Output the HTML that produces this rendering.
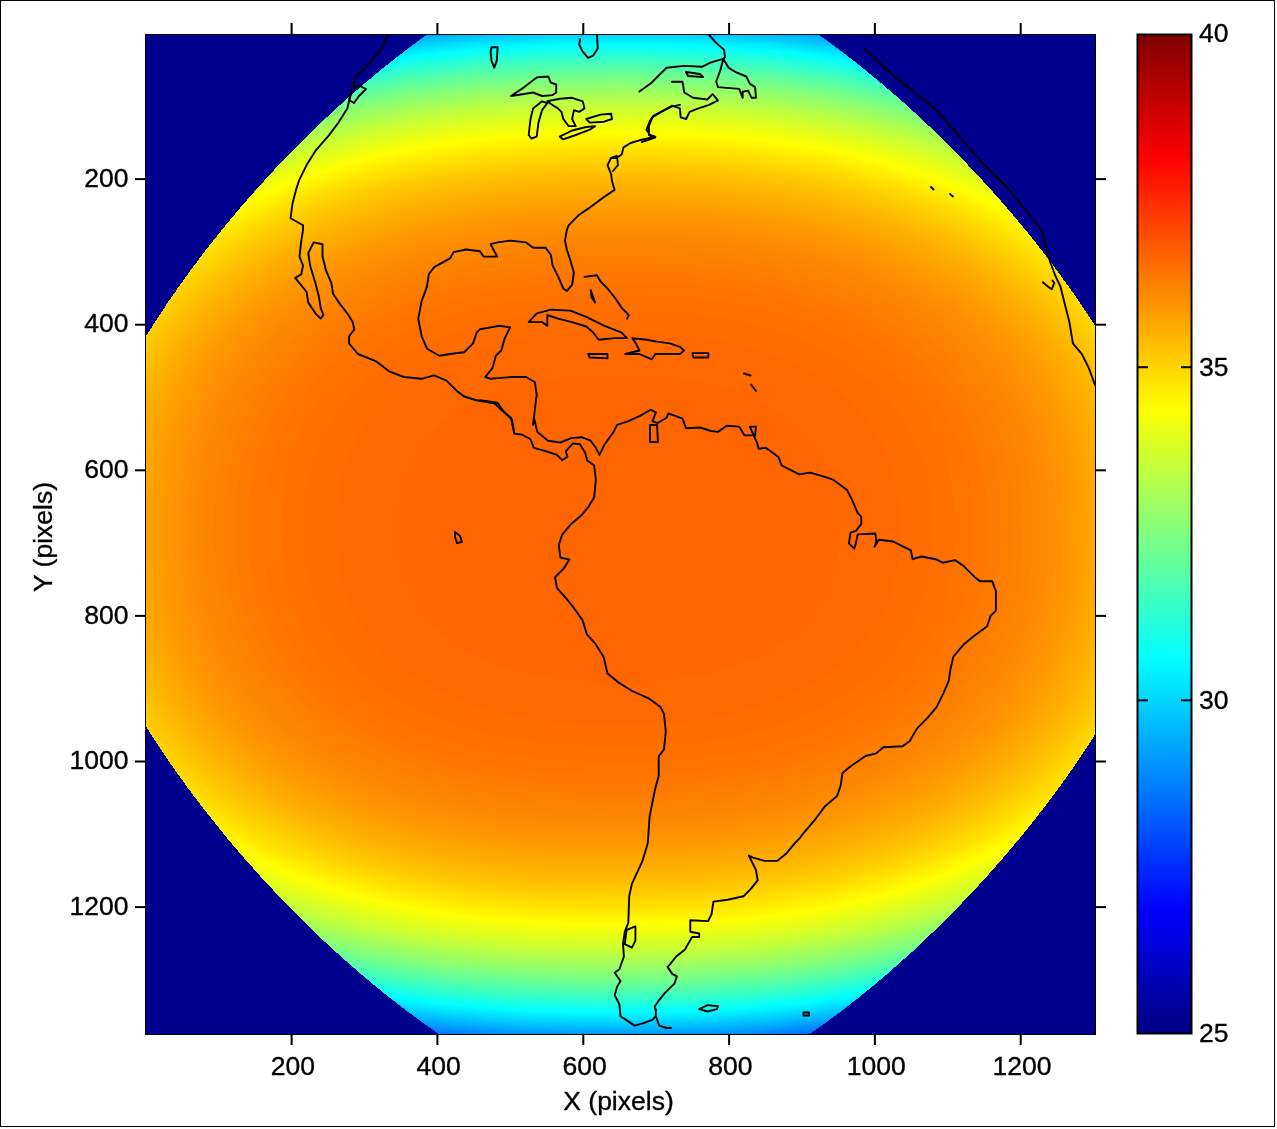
<!DOCTYPE html>
<html><head><meta charset="utf-8"><style>
html,body{margin:0;padding:0;background:#fff;width:1277px;height:1129px;overflow:hidden}
svg{display:block}
text{font-family:"Liberation Sans",Arial,sans-serif;font-size:26.5px;fill:#000;stroke:#000;stroke-width:0.35px}
</style></head><body>
<svg width="1277" height="1129" viewBox="0 0 1277 1129">
<defs>
<clipPath id="plot"><rect x="145" y="34" width="951" height="1001"/></clipPath>
<clipPath id="disk"><path d="M1181.6 528.8 L1181.2 533.9 L1180.5 539.0 L1179.6 544.2 L1178.6 549.2 L1177.5 554.3 L1176.3 559.4 L1175.0 564.4 L1173.6 569.4 L1172.1 574.4 L1170.5 579.3 L1169.0 584.2 L1167.3 589.1 L1165.6 594.0 L1163.8 598.8 L1162.0 603.6 L1160.2 608.4 L1158.3 613.2 L1156.3 617.9 L1154.4 622.6 L1152.4 627.2 L1150.3 631.9 L1148.3 636.5 L1146.2 641.0 L1144.0 645.6 L1141.9 650.1 L1139.7 654.6 L1137.5 659.0 L1135.3 663.5 L1133.0 667.9 L1130.7 672.2 L1128.5 676.6 L1126.1 680.9 L1123.8 685.2 L1121.4 689.5 L1119.1 693.7 L1116.7 697.9 L1114.3 702.1 L1111.9 706.2 L1109.4 710.4 L1107.0 714.5 L1104.5 718.6 L1102.0 722.6 L1099.5 726.7 L1097.0 730.7 L1094.5 734.6 L1092.0 738.6 L1089.4 742.5 L1086.9 746.5 L1084.3 750.3 L1081.7 754.2 L1079.1 758.1 L1076.5 761.9 L1073.9 765.7 L1071.3 769.5 L1068.6 773.2 L1066.0 777.0 L1063.3 780.7 L1060.7 784.4 L1058.0 788.1 L1055.3 791.7 L1052.6 795.4 L1049.9 799.0 L1047.2 802.6 L1044.5 806.2 L1041.7 809.8 L1039.0 813.3 L1036.2 816.8 L1033.4 820.4 L1030.7 823.9 L1027.9 827.3 L1025.1 830.8 L1022.3 834.3 L1019.5 837.7 L1016.6 841.1 L1013.8 844.5 L1011.0 847.9 L1008.1 851.3 L1005.2 854.6 L1002.4 858.0 L999.5 861.3 L996.6 864.6 L993.7 867.9 L990.8 871.2 L987.8 874.5 L984.9 877.7 L981.9 881.0 L979.0 884.2 L976.0 887.4 L973.0 890.6 L970.0 893.8 L967.0 897.0 L964.0 900.2 L961.0 903.3 L957.9 906.5 L954.9 909.6 L951.8 912.8 L948.7 915.9 L945.6 919.0 L942.5 922.1 L939.4 925.1 L936.3 928.2 L933.1 931.3 L929.9 934.3 L926.8 937.3 L923.6 940.4 L920.4 943.4 L917.2 946.4 L913.9 949.4 L910.7 952.4 L907.4 955.3 L904.1 958.3 L900.8 961.3 L897.5 964.2 L894.2 967.1 L890.8 970.1 L887.5 973.0 L884.1 975.9 L880.7 978.8 L877.3 981.7 L873.9 984.5 L870.4 987.4 L866.9 990.2 L863.4 993.1 L859.9 995.9 L856.4 998.7 L852.9 1001.5 L849.3 1004.3 L845.7 1007.1 L842.1 1009.9 L838.5 1012.7 L834.8 1015.4 L831.2 1018.1 L827.5 1020.9 L823.8 1023.6 L820.0 1026.3 L816.3 1029.0 L812.5 1031.6 L808.7 1034.3 L804.8 1036.9 L801.0 1039.6 L797.1 1042.2 L793.2 1044.8 L789.3 1047.4 L785.4 1049.9 L781.4 1052.5 L777.4 1055.0 L773.4 1057.5 L769.3 1060.0 L765.2 1062.5 L761.1 1064.9 L757.0 1067.4 L752.8 1069.8 L748.7 1072.2 L744.5 1074.5 L740.2 1076.9 L736.0 1079.2 L731.7 1081.4 L727.3 1083.7 L723.0 1085.9 L718.6 1088.1 L714.2 1090.2 L709.8 1092.3 L705.3 1094.4 L700.8 1096.4 L696.3 1098.4 L691.8 1100.4 L687.2 1102.2 L682.6 1104.1 L678.0 1105.9 L673.3 1107.6 L668.7 1109.2 L664.0 1110.8 L659.2 1112.3 L654.5 1113.8 L649.7 1115.1 L644.9 1116.3 L640.1 1117.4 L635.3 1118.4 L630.4 1119.1 L625.5 1119.6 L620.7 1119.1 L615.8 1118.4 L611.0 1117.5 L606.1 1116.4 L601.3 1115.2 L596.6 1114.0 L591.8 1112.6 L587.1 1111.1 L582.3 1109.5 L577.7 1107.9 L573.0 1106.2 L568.4 1104.5 L563.7 1102.7 L559.2 1100.8 L554.6 1098.9 L550.1 1096.9 L545.6 1094.9 L541.1 1092.9 L536.7 1090.8 L532.2 1088.7 L527.9 1086.6 L523.5 1084.4 L519.2 1082.2 L514.8 1079.9 L510.6 1077.6 L506.3 1075.3 L502.1 1073.0 L497.9 1070.7 L493.7 1068.3 L489.6 1065.9 L485.5 1063.5 L481.4 1061.0 L477.3 1058.5 L473.3 1056.1 L469.2 1053.6 L465.3 1051.0 L461.3 1048.5 L457.3 1045.9 L453.4 1043.4 L449.5 1040.8 L445.7 1038.2 L441.8 1035.6 L438.0 1032.9 L434.2 1030.3 L430.4 1027.6 L426.7 1024.9 L422.9 1022.2 L419.2 1019.5 L415.5 1016.8 L411.9 1014.1 L408.2 1011.4 L404.6 1008.6 L401.0 1005.9 L397.4 1003.1 L393.8 1000.3 L390.3 997.5 L386.8 994.7 L383.3 991.9 L379.8 989.1 L376.3 986.2 L372.9 983.4 L369.4 980.5 L366.0 977.6 L362.6 974.8 L359.2 971.9 L355.9 969.0 L352.5 966.1 L349.2 963.1 L345.9 960.2 L342.6 957.3 L339.3 954.3 L336.0 951.4 L332.8 948.4 L329.5 945.4 L326.3 942.4 L323.1 939.4 L319.9 936.4 L316.7 933.4 L313.5 930.3 L310.4 927.3 L307.2 924.2 L304.1 921.2 L301.0 918.1 L297.9 915.0 L294.8 911.9 L291.7 908.8 L288.7 905.6 L285.6 902.5 L282.6 899.3 L279.5 896.2 L276.5 893.0 L273.5 889.8 L270.5 886.6 L267.5 883.4 L264.5 880.2 L261.6 876.9 L258.6 873.7 L255.7 870.4 L252.8 867.1 L249.8 863.9 L246.9 860.5 L244.0 857.2 L241.1 853.9 L238.3 850.5 L235.4 847.2 L232.5 843.8 L229.7 840.4 L226.9 837.0 L224.0 833.5 L221.2 830.1 L218.4 826.6 L215.6 823.1 L212.8 819.6 L210.0 816.1 L207.3 812.6 L204.5 809.1 L201.7 805.5 L199.0 801.9 L196.3 798.3 L193.5 794.7 L190.8 791.0 L188.1 787.4 L185.4 783.7 L182.8 780.0 L180.1 776.3 L177.4 772.5 L174.8 768.8 L172.1 765.0 L169.5 761.2 L166.9 757.3 L164.3 753.5 L161.7 749.6 L159.1 745.7 L156.5 741.8 L154.0 737.9 L151.4 733.9 L148.9 729.9 L146.3 725.9 L143.8 721.8 L141.3 717.8 L138.9 713.7 L136.4 709.6 L134.0 705.4 L131.5 701.3 L129.1 697.1 L126.7 692.8 L124.3 688.6 L122.0 684.3 L119.6 680.0 L117.3 675.7 L115.0 671.3 L112.7 667.0 L110.4 662.5 L108.2 658.1 L106.0 653.6 L103.8 649.1 L101.7 644.6 L99.5 640.0 L97.4 635.4 L95.4 630.8 L93.3 626.2 L91.3 621.5 L89.4 616.8 L87.4 612.1 L85.6 607.3 L83.7 602.5 L81.9 597.7 L80.2 592.8 L78.5 587.9 L76.9 583.0 L75.3 578.1 L73.8 573.1 L72.4 568.2 L71.0 563.1 L69.7 558.1 L68.6 553.0 L67.5 548.0 L66.6 542.8 L65.9 537.7 L65.5 532.6 L65.9 527.5 L66.6 522.3 L67.4 517.2 L68.4 512.1 L69.6 507.1 L70.8 502.0 L72.1 497.0 L73.5 492.0 L75.0 487.0 L76.5 482.1 L78.1 477.1 L79.8 472.3 L81.5 467.4 L83.2 462.6 L85.0 457.8 L86.9 453.0 L88.8 448.2 L90.7 443.5 L92.7 438.8 L94.7 434.2 L96.7 429.5 L98.8 424.9 L100.9 420.3 L103.0 415.8 L105.2 411.3 L107.4 406.8 L109.6 402.3 L111.8 397.9 L114.0 393.5 L116.3 389.1 L118.6 384.8 L120.9 380.5 L123.3 376.2 L125.6 371.9 L128.0 367.7 L130.4 363.5 L132.8 359.3 L135.2 355.1 L137.6 351.0 L140.1 346.9 L142.5 342.8 L145.0 338.8 L147.5 334.7 L150.0 330.7 L152.6 326.7 L155.1 322.8 L157.6 318.8 L160.2 314.9 L162.8 311.0 L165.3 307.2 L167.9 303.3 L170.5 299.5 L173.2 295.7 L175.8 291.9 L178.4 288.1 L181.1 284.4 L183.7 280.7 L186.4 277.0 L189.1 273.3 L191.8 269.6 L194.5 266.0 L197.2 262.4 L199.9 258.8 L202.6 255.2 L205.3 251.6 L208.1 248.1 L210.8 244.5 L213.6 241.0 L216.4 237.5 L219.2 234.0 L222.0 230.6 L224.8 227.1 L227.6 223.7 L230.4 220.3 L233.3 216.9 L236.1 213.5 L239.0 210.1 L241.8 206.8 L244.7 203.4 L247.6 200.1 L250.5 196.8 L253.4 193.5 L256.3 190.2 L259.2 186.9 L262.2 183.7 L265.1 180.4 L268.1 177.2 L271.1 174.0 L274.0 170.7 L277.0 167.5 L280.0 164.4 L283.1 161.2 L286.1 158.0 L289.1 154.9 L292.2 151.7 L295.3 148.6 L298.4 145.5 L301.4 142.4 L304.6 139.3 L307.7 136.2 L310.8 133.2 L314.0 130.1 L317.1 127.1 L320.3 124.0 L323.5 121.0 L326.7 118.0 L329.9 115.0 L333.1 112.0 L336.4 109.0 L339.7 106.0 L342.9 103.1 L346.2 100.1 L349.5 97.2 L352.9 94.2 L356.2 91.3 L359.6 88.4 L363.0 85.5 L366.4 82.6 L369.8 79.7 L373.2 76.9 L376.7 74.0 L380.1 71.1 L383.6 68.3 L387.1 65.5 L390.7 62.7 L394.2 59.8 L397.8 57.0 L401.4 54.3 L405.0 51.5 L408.6 48.7 L412.2 46.0 L415.9 43.2 L419.6 40.5 L423.3 37.8 L427.0 35.1 L430.8 32.4 L434.6 29.7 L438.4 27.1 L442.2 24.4 L446.1 21.8 L449.9 19.2 L453.8 16.6 L457.8 14.0 L461.7 11.4 L465.7 8.9 L469.7 6.4 L473.7 3.8 L477.8 1.4 L481.8 -1.1 L485.9 -3.6 L490.1 -6.0 L494.2 -8.4 L498.4 -10.8 L502.6 -13.1 L506.8 -15.5 L511.1 -17.8 L515.4 -20.1 L519.7 -22.3 L524.1 -24.5 L528.4 -26.7 L532.8 -28.8 L537.3 -31.0 L541.7 -33.0 L546.2 -35.1 L550.7 -37.0 L555.3 -39.0 L559.8 -40.9 L564.4 -42.7 L569.1 -44.5 L573.7 -46.2 L578.4 -47.9 L583.1 -49.4 L587.8 -51.0 L592.6 -52.4 L597.4 -53.7 L602.2 -54.9 L607.0 -56.0 L611.8 -57.0 L616.7 -57.7 L621.5 -58.2 L626.4 -57.8 L631.2 -57.0 L636.1 -56.1 L640.9 -55.1 L645.7 -53.9 L650.5 -52.6 L655.3 -51.2 L660.0 -49.7 L664.7 -48.2 L669.4 -46.5 L674.1 -44.8 L678.7 -43.1 L683.3 -41.3 L687.9 -39.4 L692.5 -37.5 L697.0 -35.6 L701.5 -33.6 L706.0 -31.5 L710.4 -29.4 L714.8 -27.3 L719.2 -25.2 L723.6 -23.0 L727.9 -20.8 L732.2 -18.5 L736.5 -16.3 L740.7 -14.0 L745.0 -11.6 L749.2 -9.3 L753.3 -6.9 L757.5 -4.5 L761.6 -2.1 L765.7 0.4 L769.8 2.8 L773.8 5.3 L777.8 7.8 L781.8 10.3 L785.8 12.9 L789.7 15.4 L793.6 18.0 L797.5 20.6 L801.4 23.2 L805.2 25.8 L809.1 28.5 L812.9 31.1 L816.6 33.8 L820.4 36.4 L824.1 39.1 L827.8 41.8 L831.5 44.5 L835.2 47.3 L838.8 50.0 L842.5 52.8 L846.1 55.5 L849.6 58.3 L853.2 61.1 L856.8 63.9 L860.3 66.7 L863.8 69.5 L867.3 72.3 L870.7 75.2 L874.2 78.0 L877.6 80.9 L881.1 83.7 L884.5 86.6 L887.8 89.5 L891.2 92.4 L894.5 95.3 L897.9 98.2 L901.2 101.2 L904.5 104.1 L907.8 107.1 L911.1 110.0 L914.3 113.0 L917.5 116.0 L920.8 119.0 L924.0 122.0 L927.2 125.0 L930.4 128.0 L933.5 131.0 L936.7 134.1 L939.8 137.2 L943.0 140.2 L946.1 143.3 L949.2 146.4 L952.3 149.5 L955.3 152.6 L958.4 155.7 L961.5 158.9 L964.5 162.0 L967.5 165.2 L970.6 168.4 L973.6 171.6 L976.6 174.8 L979.5 178.0 L982.5 181.2 L985.5 184.4 L988.4 187.7 L991.4 191.0 L994.3 194.2 L997.2 197.5 L1000.1 200.8 L1003.0 204.2 L1005.9 207.5 L1008.8 210.9 L1011.7 214.2 L1014.5 217.6 L1017.4 221.0 L1020.2 224.4 L1023.0 227.8 L1025.9 231.3 L1028.7 234.8 L1031.5 238.2 L1034.3 241.7 L1037.0 245.2 L1039.8 248.8 L1042.6 252.3 L1045.3 255.9 L1048.1 259.5 L1050.8 263.1 L1053.5 266.7 L1056.2 270.3 L1058.9 274.0 L1061.6 277.7 L1064.3 281.4 L1067.0 285.1 L1069.6 288.9 L1072.3 292.6 L1074.9 296.4 L1077.6 300.2 L1080.2 304.0 L1082.8 307.9 L1085.4 311.8 L1088.0 315.7 L1090.5 319.6 L1093.1 323.5 L1095.7 327.5 L1098.2 331.5 L1100.7 335.5 L1103.2 339.5 L1105.7 343.6 L1108.2 347.7 L1110.7 351.8 L1113.1 356.0 L1115.5 360.1 L1118.0 364.3 L1120.4 368.5 L1122.7 372.8 L1125.1 377.1 L1127.4 381.4 L1129.8 385.7 L1132.1 390.0 L1134.4 394.4 L1136.6 398.8 L1138.8 403.3 L1141.1 407.8 L1143.2 412.3 L1145.4 416.8 L1147.5 421.3 L1149.6 425.9 L1151.7 430.5 L1153.7 435.2 L1155.7 439.9 L1157.7 444.6 L1159.6 449.3 L1161.5 454.1 L1163.3 458.9 L1165.1 463.7 L1166.9 468.5 L1168.6 473.4 L1170.2 478.3 L1171.8 483.3 L1173.3 488.2 L1174.7 493.2 L1176.1 498.2 L1177.3 503.3 L1178.5 508.3 L1179.5 513.4 L1180.4 518.5 L1181.1 523.7Z"/></clipPath>
<linearGradient id="cb" x1="0" y1="0" x2="0" y2="1"><stop offset="0.0000" stop-color="#800000"/><stop offset="0.0156" stop-color="#8f0000"/><stop offset="0.0312" stop-color="#9f0000"/><stop offset="0.0469" stop-color="#af0000"/><stop offset="0.0625" stop-color="#bf0000"/><stop offset="0.0781" stop-color="#cf0000"/><stop offset="0.0938" stop-color="#df0000"/><stop offset="0.1094" stop-color="#ef0000"/><stop offset="0.1250" stop-color="#ff0000"/><stop offset="0.1406" stop-color="#ff1000"/><stop offset="0.1562" stop-color="#ff2000"/><stop offset="0.1719" stop-color="#ff3000"/><stop offset="0.1875" stop-color="#ff4000"/><stop offset="0.2031" stop-color="#ff5000"/><stop offset="0.2188" stop-color="#ff6000"/><stop offset="0.2344" stop-color="#ff7000"/><stop offset="0.2500" stop-color="#ff8000"/><stop offset="0.2656" stop-color="#ff8f00"/><stop offset="0.2812" stop-color="#ff9f00"/><stop offset="0.2969" stop-color="#ffaf00"/><stop offset="0.3125" stop-color="#ffbf00"/><stop offset="0.3281" stop-color="#ffcf00"/><stop offset="0.3438" stop-color="#ffdf00"/><stop offset="0.3594" stop-color="#ffef00"/><stop offset="0.3750" stop-color="#ffff00"/><stop offset="0.3906" stop-color="#efff10"/><stop offset="0.4062" stop-color="#dfff20"/><stop offset="0.4219" stop-color="#cfff30"/><stop offset="0.4375" stop-color="#bfff40"/><stop offset="0.4531" stop-color="#afff50"/><stop offset="0.4688" stop-color="#9fff60"/><stop offset="0.4844" stop-color="#8fff70"/><stop offset="0.5000" stop-color="#80ff80"/><stop offset="0.5156" stop-color="#70ff8f"/><stop offset="0.5312" stop-color="#60ff9f"/><stop offset="0.5469" stop-color="#50ffaf"/><stop offset="0.5625" stop-color="#40ffbf"/><stop offset="0.5781" stop-color="#30ffcf"/><stop offset="0.5938" stop-color="#20ffdf"/><stop offset="0.6094" stop-color="#10ffef"/><stop offset="0.6250" stop-color="#00ffff"/><stop offset="0.6406" stop-color="#00efff"/><stop offset="0.6562" stop-color="#00dfff"/><stop offset="0.6719" stop-color="#00cfff"/><stop offset="0.6875" stop-color="#00bfff"/><stop offset="0.7031" stop-color="#00afff"/><stop offset="0.7188" stop-color="#009fff"/><stop offset="0.7344" stop-color="#008fff"/><stop offset="0.7500" stop-color="#0080ff"/><stop offset="0.7656" stop-color="#0070ff"/><stop offset="0.7812" stop-color="#0060ff"/><stop offset="0.7969" stop-color="#0050ff"/><stop offset="0.8125" stop-color="#0040ff"/><stop offset="0.8281" stop-color="#0030ff"/><stop offset="0.8438" stop-color="#0020ff"/><stop offset="0.8594" stop-color="#0010ff"/><stop offset="0.8750" stop-color="#0000ff"/><stop offset="0.8906" stop-color="#0000ef"/><stop offset="0.9062" stop-color="#0000df"/><stop offset="0.9219" stop-color="#0000cf"/><stop offset="0.9375" stop-color="#0000bf"/><stop offset="0.9531" stop-color="#0000af"/><stop offset="0.9688" stop-color="#00009f"/><stop offset="0.9844" stop-color="#00008f"/><stop offset="1.0000" stop-color="#00008f"/></linearGradient>
</defs>
<rect x="0" y="0" width="1277" height="1129" fill="#fff"/>
<rect x="0.5" y="0.5" width="1274" height="1126" fill="none" stroke="#000" stroke-width="1"/>
<g clip-path="url(#plot)">
<rect x="145" y="34" width="951" height="1001" fill="#00008f"/>
<g clip-path="url(#disk)">
<rect x="140" y="28" width="960" height="1012" fill="#004dff"/>
<path d="M806.0 1040.0 429.4 1040.0 422.0 1039.2 383.4 1034.0 344.0 1027.3 308.0 1019.8 270.0 1010.3 235.4 1000.0 202.0 988.4 170.7 976.0 140.0 962.1 140.0 95.0 187.9 74.0 238.7 56.0 296.0 40.1 353.4 28.0 883.0 28.0 940.1 40.0 997.7 56.0 1050.0 74.6 1100.0 96.7 1100.0 960.3 1070.0 974.2 1035.6 988.0 1001.0 1000.0 964.0 1010.9 927.5 1020.0 888.0 1028.1 846.0 1035.0 806.0 1040.0Z" fill="#0052ff"/>
<path d="M800.0 1040.0 435.3 1040.0 418.0 1038.0 340.6 1026.0 270.0 1009.6 236.0 999.5 202.8 988.0 172.0 975.8 140.0 961.3 140.0 95.8 189.8 74.0 240.9 56.0 298.0 40.3 357.0 28.0 879.4 28.0 938.0 40.2 996.0 56.2 1050.0 75.3 1100.0 97.5 1100.0 959.5 1068.0 974.3 1033.6 988.0 998.7 1000.0 962.0 1010.8 924.5 1020.0 884.0 1028.2 842.0 1035.0 800.0 1040.0Z" fill="#0055ff"/>
<path d="M794.0 1040.0 441.4 1040.0 418.0 1037.4 342.0 1025.6 306.0 1018.0 268.0 1008.3 233.7 998.0 200.0 986.2 169.6 974.0 140.0 960.5 140.0 96.6 190.0 74.7 243.2 56.0 301.9 40.0 360.8 28.0 875.6 28.0 936.0 40.4 994.0 56.3 1049.8 76.0 1100.0 98.3 1100.0 958.7 1066.8 974.0 1032.0 987.9 996.5 1000.0 960.0 1010.6 921.5 1020.0 880.0 1028.3 836.0 1035.1 794.0 1040.0Z" fill="#0058ff"/>
<path d="M788.0 1040.0 447.9 1040.0 414.0 1036.3 338.0 1024.2 268.0 1007.6 235.9 998.0 201.4 986.0 171.4 974.0 140.0 959.7 140.0 97.4 190.0 75.4 245.5 56.0 304.0 40.2 364.6 28.0 871.8 28.0 932.0 40.1 992.0 56.3 1047.9 76.0 1100.0 99.2 1100.0 957.9 1065.0 974.0 1030.0 987.9 994.2 1000.0 956.0 1011.0 918.0 1020.1 876.0 1028.3 832.0 1035.0 788.0 1040.0Z" fill="#005cff"/>
<path d="M780.0 1040.0 454.8 1040.0 412.0 1035.4 336.0 1023.1 300.0 1015.2 264.7 1006.0 231.9 996.0 198.1 984.0 168.5 972.0 140.0 958.8 140.0 98.2 190.4 76.0 247.8 56.0 307.8 40.0 368.6 28.0 867.8 28.0 932.0 40.8 992.0 57.1 1046.0 76.0 1100.0 100.0 1100.0 957.1 1064.0 973.7 1028.0 987.9 991.9 1000.0 952.0 1011.3 910.0 1021.1 868.0 1029.0 822.0 1035.7 780.0 1040.0Z" fill="#005fff"/>
<path d="M774.0 1040.0 462.0 1040.0 408.0 1034.2 333.9 1022.0 297.8 1014.0 264.0 1005.1 232.0 995.3 200.0 984.0 170.0 971.8 140.0 958.0 140.0 99.0 192.4 76.0 250.0 56.1 310.0 40.2 372.6 28.0 863.8 28.0 928.0 40.5 990.0 57.2 1048.0 77.6 1100.0 100.8 1100.0 956.3 1066.0 972.0 1028.0 987.1 989.6 1000.0 950.0 1011.1 910.0 1020.5 866.0 1028.7 820.0 1035.3 774.0 1040.0Z" fill="#0063ff"/>
<path d="M766.0 1040.0 469.8 1040.0 406.0 1033.3 332.0 1020.9 262.7 1004.0 230.3 994.0 198.0 982.5 167.5 970.0 140.0 957.2 140.0 99.8 194.3 76.0 252.0 56.2 313.8 40.0 376.8 28.0 859.6 28.0 926.0 40.8 988.0 57.3 1047.2 78.0 1100.0 101.6 1100.0 955.4 1064.2 972.0 1028.0 986.4 987.3 1000.0 946.0 1011.5 904.0 1021.0 860.0 1029.0 814.0 1035.3 766.0 1040.0Z" fill="#0066ff"/>
<path d="M758.0 1040.0 478.3 1040.0 402.0 1032.1 330.0 1019.8 262.0 1003.1 230.0 993.2 198.8 982.0 169.4 970.0 140.0 956.4 140.0 100.6 196.0 76.1 254.0 56.3 316.0 40.2 381.0 28.0 855.4 28.0 924.0 41.0 988.0 58.0 1045.2 78.0 1100.0 102.4 1100.0 954.6 1064.0 971.3 1026.9 986.0 986.0 999.7 944.0 1011.3 900.0 1021.1 854.0 1029.3 806.0 1035.6 758.0 1040.0Z" fill="#0069ff"/>
<path d="M748.0 1040.0 487.5 1040.0 440.3 1036.0 398.0 1030.9 326.0 1018.3 260.7 1002.0 198.0 980.9 168.0 968.6 140.0 955.6 140.0 101.5 194.0 77.7 254.0 57.0 318.0 40.5 385.4 28.0 851.0 28.0 920.0 40.8 985.6 58.0 1044.0 78.3 1100.0 103.3 1100.0 953.8 1064.0 970.5 1024.0 986.3 982.5 1000.0 938.2 1012.0 892.1 1022.0 846.0 1029.8 796.1 1036.0 748.0 1040.0Z" fill="#006dff"/>
<path d="M738.0 1040.0 497.7 1040.0 446.0 1035.9 396.0 1029.9 326.0 1017.6 258.0 1000.5 197.6 980.0 168.4 968.0 140.0 954.7 140.0 102.3 195.1 78.0 256.0 57.2 322.0 40.3 389.9 28.0 846.5 28.0 916.0 40.6 983.2 58.0 1044.0 79.1 1100.0 104.1 1100.0 952.9 1063.4 970.0 1022.7 986.0 980.0 1000.0 935.3 1012.0 888.5 1022.0 840.0 1030.0 789.5 1036.0 738.0 1040.0Z" fill="#0070ff"/>
<path d="M726.0 1040.0 509.3 1040.0 448.0 1035.4 390.0 1028.4 321.7 1016.0 258.0 999.8 196.0 978.6 140.0 953.9 140.0 103.1 168.1 90.0 197.1 78.0 258.0 57.3 326.0 40.1 394.5 28.0 841.9 28.0 914.0 40.9 980.8 58.0 1012.0 68.0 1044.0 79.8 1072.8 92.0 1100.0 105.0 1100.0 952.1 1061.5 970.0 1020.6 986.0 977.6 1000.0 932.0 1012.1 884.9 1022.0 834.0 1030.1 782.0 1036.1 726.0 1040.0Z" fill="#0074ff"/>
<path d="M712.0 1040.0 522.8 1040.0 452.0 1035.2 386.0 1027.1 318.0 1014.5 254.6 998.0 196.0 977.8 140.0 953.0 140.0 104.0 169.9 90.0 198.0 78.4 260.0 57.4 328.0 40.4 399.3 28.0 837.1 28.0 910.0 40.7 978.3 58.0 1010.0 68.1 1042.4 80.0 1071.0 92.0 1100.0 105.8 1100.0 951.2 1059.6 970.0 1018.0 986.2 972.0 1000.9 924.0 1013.2 874.0 1023.3 822.0 1031.0 768.0 1036.6 712.0 1040.0Z" fill="#0077ff"/>
<path d="M696.0 1040.0 539.8 1040.0 520.0 1039.2 446.8 1034.0 380.0 1025.5 312.0 1012.4 250.4 996.0 193.3 976.0 140.0 952.2 140.0 104.8 168.0 91.7 198.0 79.2 228.9 68.0 262.0 57.6 297.7 48.0 332.0 40.3 404.2 28.0 832.2 28.0 906.0 40.6 940.0 48.3 975.8 58.0 1008.0 68.2 1040.4 80.0 1070.0 92.4 1100.0 106.7 1100.0 950.4 1057.7 970.0 1014.0 986.8 966.0 1001.9 917.4 1014.0 865.7 1024.0 812.0 1031.6 756.0 1036.9 696.0 1040.0Z" fill="#007aff"/>
<path d="M672.0 1040.0 564.3 1040.0 506.0 1037.8 436.0 1032.2 372.0 1023.5 308.0 1010.8 248.0 994.5 190.3 974.0 140.0 951.3 140.0 105.7 169.1 92.0 198.0 80.0 231.1 68.0 264.0 57.7 300.0 48.2 336.0 40.1 409.4 28.0 827.0 28.0 902.0 40.5 938.0 48.6 973.3 58.0 1006.0 68.3 1038.4 80.0 1070.0 93.2 1100.0 107.5 1100.0 949.5 1055.8 970.0 1008.3 988.0 960.0 1002.8 908.0 1015.3 854.0 1025.2 798.0 1032.5 736.0 1037.5 672.0 1040.0Z" fill="#007eff"/>
<path d="M712.0 1038.1 626.0 1039.8 530.0 1038.3 456.0 1033.5 386.0 1025.0 318.0 1012.4 255.3 996.0 196.0 975.5 168.0 963.7 140.0 950.5 140.0 106.5 170.0 92.4 200.0 80.0 233.4 68.0 266.0 57.9 302.0 48.4 338.0 40.4 374.0 33.9 414.7 28.0 821.7 28.0 898.0 40.4 934.0 48.3 970.7 58.0 1004.0 68.3 1038.0 80.6 1070.0 94.0 1100.0 108.4 1100.0 948.7 1058.6 968.0 1017.6 984.0 972.0 998.7 924.0 1011.1 876.0 1020.8 824.0 1028.7 770.0 1034.4 712.0 1038.1Z" fill="#0081ff"/>
<path d="M696.0 1038.0 600.0 1039.1 520.0 1037.2 447.1 1032.0 380.0 1023.4 312.0 1010.3 251.3 994.0 194.0 973.9 140.0 949.6 140.0 107.4 170.0 93.2 202.0 80.0 235.7 68.0 268.3 58.0 306.0 48.2 342.0 40.4 380.0 33.6 420.2 28.0 816.2 28.0 856.0 33.6 894.0 40.3 930.0 48.1 968.1 58.0 1004.0 69.1 1038.0 81.4 1068.1 94.0 1100.0 109.2 1100.0 947.8 1058.0 967.4 1015.4 984.0 968.0 999.1 918.0 1011.7 866.0 1021.9 812.0 1029.5 756.0 1034.9 696.0 1038.0Z" fill="#0085ff"/>
<path d="M672.0 1038.0 580.0 1038.3 506.0 1035.8 436.0 1030.2 372.0 1021.4 306.0 1008.2 247.3 992.0 191.3 972.0 140.0 948.8 140.0 108.3 170.1 94.0 204.0 80.1 238.0 68.0 270.9 58.0 308.0 48.4 346.0 40.3 384.0 33.7 424.0 28.2 810.4 28.0 852.0 33.6 890.0 40.2 928.0 48.3 966.0 58.1 1004.0 69.9 1037.4 82.0 1070.0 95.7 1100.0 110.1 1100.0 946.9 1054.8 968.0 1008.0 985.8 960.0 1000.6 908.0 1013.2 854.0 1023.1 798.0 1030.4 738.0 1035.4 672.0 1038.0Z" fill="#0088ff"/>
<path d="M712.0 1036.1 624.0 1037.8 528.0 1036.2 454.0 1031.3 384.0 1022.7 317.1 1010.0 254.0 993.3 194.0 972.3 140.0 947.9 140.0 109.2 170.0 94.9 201.1 82.0 234.4 70.0 268.0 59.6 304.4 50.0 340.9 42.0 380.0 35.0 420.0 29.4 432.0 28.0 804.4 28.0 846.0 33.4 886.0 40.2 924.0 48.1 962.8 58.0 1000.0 69.3 1035.3 82.0 1068.9 96.0 1100.0 111.0 1100.0 946.0 1058.0 965.8 1016.6 982.0 973.5 996.0 926.0 1008.5 876.0 1018.7 824.0 1026.7 770.0 1032.4 712.0 1036.1Z" fill="#008bff"/>
<path d="M696.0 1036.0 600.0 1037.1 520.0 1035.2 447.7 1030.0 380.0 1021.3 314.0 1008.6 252.2 992.0 195.4 972.0 140.0 947.0 140.0 110.0 169.4 96.0 202.0 82.4 236.0 70.2 269.1 60.0 306.0 50.4 342.0 42.5 418.0 30.3 438.3 28.0 798.1 28.0 840.0 33.2 881.4 40.0 920.3 48.0 960.1 58.0 998.0 69.4 1033.3 82.0 1067.0 96.0 1100.0 111.9 1100.0 945.2 1060.0 964.1 1014.4 982.0 968.0 996.8 918.0 1009.6 866.0 1019.7 812.0 1027.5 756.0 1032.8 696.0 1036.0Z" fill="#008fff"/>
<path d="M670.0 1036.0 578.0 1036.2 504.0 1033.7 435.1 1028.0 370.0 1019.0 306.2 1006.0 248.0 989.9 192.4 970.0 140.0 946.1 140.0 110.9 170.0 96.6 200.1 84.0 233.1 72.0 266.0 61.7 302.0 52.1 338.0 44.0 414.0 31.5 445.0 28.0 791.4 28.0 836.0 33.4 877.4 40.0 918.0 48.2 958.0 58.2 997.3 70.0 1032.0 82.3 1066.0 96.4 1100.0 112.8 1100.0 944.3 1058.0 964.1 1010.0 982.8 961.2 998.0 908.0 1011.0 854.0 1021.0 796.0 1028.6 736.0 1033.5 670.0 1036.0Z" fill="#0092ff"/>
<path d="M712.0 1034.0 624.0 1035.8 528.0 1034.2 454.0 1029.2 384.0 1020.5 318.0 1008.0 252.0 990.4 194.5 970.0 140.0 945.2 140.0 111.8 170.0 97.4 202.0 84.1 234.0 72.5 266.0 62.4 300.0 53.3 336.0 45.2 374.0 38.1 412.0 32.5 452.0 28.0 784.4 28.0 830.0 33.3 873.4 40.0 914.0 48.1 954.6 58.0 994.0 69.7 1030.0 82.4 1066.0 97.3 1100.0 113.7 1100.0 943.4 1061.0 962.0 1018.0 979.1 972.5 994.0 926.0 1006.3 876.0 1016.6 824.0 1024.6 770.0 1030.3 712.0 1034.0Z" fill="#0096ff"/>
<path d="M694.0 1034.0 598.0 1035.0 518.0 1033.0 446.0 1027.7 378.0 1018.9 312.5 1006.0 252.0 989.6 194.0 969.0 140.0 944.3 140.0 112.7 170.0 98.3 199.2 86.0 231.8 74.0 263.3 64.0 300.0 54.0 334.0 46.3 408.0 33.7 459.6 28.0 776.8 28.0 824.0 33.2 868.0 39.8 910.4 48.0 951.8 58.0 992.5 70.0 1030.0 83.2 1065.8 98.0 1100.0 114.6 1100.0 942.5 1059.0 962.0 1013.3 980.0 966.0 995.1 916.0 1007.8 864.0 1017.9 810.0 1025.6 754.0 1030.9 694.0 1034.0Z" fill="#0099ff"/>
<path d="M666.0 1034.0 574.0 1034.1 502.0 1031.5 434.0 1025.8 368.0 1016.5 306.0 1003.7 246.0 986.9 190.0 966.5 140.0 943.4 140.0 113.6 168.1 100.0 200.0 86.5 232.0 74.7 264.0 64.6 332.0 47.5 406.0 34.7 467.6 28.0 768.8 28.0 818.0 33.1 864.0 39.8 906.9 48.0 948.9 58.0 990.1 70.0 1030.0 84.0 1066.0 99.0 1100.0 115.5 1100.0 941.6 1057.1 962.0 1010.0 980.4 960.0 996.0 906.0 1009.2 852.0 1019.2 794.0 1026.7 732.0 1031.6 666.0 1034.0Z" fill="#009cff"/>
<path d="M710.0 1032.0 618.0 1033.7 526.0 1032.0 452.0 1026.9 382.0 1018.1 314.0 1004.8 251.9 988.0 194.0 967.3 140.0 942.5 140.0 114.5 170.0 100.0 198.3 88.0 230.0 76.2 261.8 66.0 296.0 56.6 330.0 48.6 402.0 36.0 476.3 28.0 760.1 28.0 810.0 32.9 858.0 39.6 903.4 48.0 946.0 58.0 987.6 70.0 1027.8 84.0 1066.0 99.8 1100.0 116.4 1100.0 940.7 1059.7 960.0 1018.0 976.7 972.0 991.8 926.0 1004.0 878.0 1014.0 824.0 1022.4 770.0 1028.2 710.0 1032.0Z" fill="#00a0ff"/>
<path d="M690.0 1032.1 594.0 1032.9 516.0 1030.8 444.0 1025.4 376.0 1016.4 310.0 1003.2 248.0 986.0 192.9 966.0 140.0 941.6 140.0 115.4 167.6 102.0 196.0 89.8 227.3 78.0 258.0 67.9 292.0 58.4 326.0 50.2 398.0 37.3 440.4 32.0 485.9 28.0 750.5 28.0 800.0 32.4 850.0 39.0 898.0 47.6 942.0 57.7 985.1 70.0 1025.6 84.0 1064.4 100.0 1100.0 117.3 1100.0 939.7 1057.7 960.0 1012.1 978.0 966.0 992.8 916.0 1005.6 862.6 1016.0 808.0 1023.7 750.0 1029.1 690.0 1032.1Z" fill="#00a3ff"/>
<path d="M660.0 1032.0 570.0 1031.9 498.0 1029.1 430.0 1023.2 366.5 1014.0 304.0 1000.9 244.3 984.0 190.1 964.0 140.0 940.7 140.0 116.3 169.5 102.0 197.5 90.0 229.6 78.0 260.0 68.1 326.0 51.0 396.0 38.3 446.0 32.1 496.5 28.0 739.9 28.0 792.0 32.3 844.0 38.8 892.0 47.2 938.0 57.5 982.5 70.0 1023.4 84.0 1062.5 100.0 1100.0 118.2 1100.0 938.8 1055.7 960.0 1009.8 978.0 958.9 994.0 904.0 1007.4 848.0 1017.6 790.0 1024.9 728.0 1029.7 660.0 1032.0Z" fill="#00a7ff"/>
<path d="M706.0 1030.1 612.0 1031.6 526.0 1029.9 452.0 1024.8 382.9 1016.0 316.0 1003.0 253.1 986.0 194.0 964.8 140.0 939.8 140.0 117.3 167.1 104.0 194.7 92.0 226.0 80.1 256.5 70.0 322.0 52.6 390.0 39.9 448.0 32.7 508.6 28.0 727.8 28.0 782.0 32.0 834.0 38.1 884.0 46.4 932.0 56.8 978.0 69.4 1021.2 84.0 1060.5 100.0 1100.0 119.2 1100.0 937.9 1060.0 957.3 1018.0 974.2 972.0 989.4 924.0 1002.2 874.0 1012.5 820.0 1020.8 766.0 1026.4 706.0 1030.1Z" fill="#00aaff"/>
<path d="M686.0 1030.1 590.0 1030.8 512.0 1028.5 442.0 1023.0 375.1 1014.0 310.0 1000.9 249.3 984.0 194.0 963.9 140.0 938.8 140.0 118.2 194.0 93.1 252.6 72.0 316.0 54.8 384.0 41.6 452.0 33.0 522.8 28.0 713.6 28.0 772.0 31.8 826.0 37.8 878.0 46.0 925.6 56.0 974.0 69.0 1018.9 84.0 1060.0 100.7 1100.0 120.1 1100.0 936.9 1056.3 958.0 1012.0 975.6 964.0 991.0 914.0 1003.7 861.3 1014.0 806.0 1021.8 748.0 1027.1 686.0 1030.1Z" fill="#00adff"/>
<path d="M652.0 1030.0 564.0 1029.7 494.0 1026.7 426.0 1020.5 364.0 1011.3 302.0 998.1 245.7 982.0 191.5 962.0 140.0 937.9 140.0 119.1 194.0 94.0 250.0 73.6 314.0 56.0 378.0 43.3 446.0 34.3 518.0 28.9 540.9 28.0 695.5 28.0 756.0 31.3 812.0 36.7 866.0 44.6 918.0 55.0 968.0 68.0 1016.0 83.8 1060.0 101.5 1100.0 121.0 1100.0 936.0 1054.3 958.0 1008.0 976.1 956.0 992.4 900.0 1006.0 844.0 1016.0 784.0 1023.4 720.4 1028.0 652.0 1030.0Z" fill="#00b1ff"/>
<path d="M704.0 1028.0 608.0 1029.4 524.0 1027.7 450.0 1022.4 382.0 1013.6 316.0 1000.7 254.0 983.8 194.0 962.2 140.0 937.0 140.0 120.1 191.3 96.0 245.2 76.0 304.0 59.2 368.0 45.8 434.0 36.3 502.0 30.5 568.1 28.0 668.3 28.0 734.0 30.5 796.0 35.6 854.0 43.3 908.0 53.5 958.2 66.0 1008.8 82.0 1054.5 100.0 1100.0 122.0 1100.0 935.0 1061.4 954.0 1017.2 972.0 972.0 987.0 923.5 1000.0 874.0 1010.3 820.0 1018.6 764.0 1024.4 704.0 1028.0Z" fill="#00b4ff"/>
<path d="M682.0 1028.0 586.0 1028.6 510.0 1026.2 440.0 1020.6 374.0 1011.6 308.0 998.0 250.0 981.8 192.0 960.4 140.0 936.0 140.0 121.0 188.6 98.0 241.7 78.0 296.0 62.0 354.0 49.1 414.0 39.5 480.0 32.7 548.0 29.2 628.0 28.3 704.0 29.8 770.0 33.8 832.0 40.8 892.0 51.0 948.0 64.0 1002.0 80.5 1052.4 100.0 1100.0 122.9 1100.0 934.1 1058.0 954.6 1012.0 973.0 964.0 988.6 912.0 1001.9 859.7 1012.0 802.2 1020.0 744.0 1025.2 682.0 1028.0Z" fill="#00b8ff"/>
<path d="M716.0 1026.0 630.0 1028.0 532.0 1026.5 456.0 1021.5 386.0 1012.8 318.0 999.6 253.4 982.0 194.0 960.4 140.0 935.0 140.0 122.0 186.0 100.0 238.2 80.0 294.0 63.3 353.2 50.0 415.9 40.0 480.0 33.5 548.0 29.9 628.0 29.1 702.0 30.4 770.0 34.6 834.0 41.8 893.4 52.0 952.0 65.9 1004.0 82.0 1054.0 101.6 1100.0 123.9 1100.0 933.1 1061.8 952.0 1018.0 970.0 974.0 984.8 926.0 997.8 878.0 1008.0 826.0 1016.3 774.0 1022.1 716.0 1026.0Z" fill="#00bbff"/>
<path d="M698.0 1026.1 602.0 1027.2 520.0 1025.3 448.0 1020.0 378.0 1010.7 312.0 997.4 250.0 980.1 192.0 958.7 140.0 934.1 140.0 123.0 188.1 100.0 240.7 80.0 294.5 64.0 354.0 50.6 416.0 40.7 480.0 34.2 548.0 30.7 628.0 29.8 704.0 31.2 770.0 35.3 832.0 42.3 892.0 52.5 949.4 66.0 1002.0 82.2 1052.9 102.0 1100.0 124.9 1100.0 932.2 1059.8 952.0 1015.6 970.0 970.0 985.2 921.9 998.0 870.0 1008.7 816.0 1016.9 760.0 1022.5 698.0 1026.1Z" fill="#00beff"/>
<path d="M674.0 1026.0 580.0 1026.3 506.0 1023.8 436.0 1018.0 370.0 1008.6 306.0 995.2 246.2 978.0 192.0 957.8 140.0 933.1 140.0 123.9 188.0 101.0 240.0 81.1 296.0 64.4 354.0 51.4 414.0 41.8 480.0 35.0 548.0 31.4 628.0 30.5 704.0 32.0 769.2 36.0 832.0 43.1 892.0 53.3 950.0 67.0 1004.0 83.7 1054.0 103.4 1100.0 125.9 1100.0 931.2 1057.7 952.0 1012.0 970.5 964.0 986.1 909.7 1000.0 858.0 1010.0 800.0 1018.0 740.0 1023.2 674.0 1026.0Z" fill="#00c2ff"/>
<path d="M712.0 1024.0 624.0 1025.8 528.0 1024.2 454.0 1019.1 383.1 1010.0 316.0 996.8 254.0 979.7 194.7 958.0 167.6 946.0 140.0 932.1 140.0 124.9 187.7 102.0 239.8 82.0 294.0 65.8 354.9 52.0 416.0 42.3 480.0 35.7 548.0 32.1 628.0 31.3 702.0 32.6 768.0 36.6 832.0 43.8 891.7 54.0 950.0 67.8 1002.4 84.0 1053.3 104.0 1100.0 126.8 1100.0 930.2 1060.1 950.0 1016.3 968.0 972.0 982.9 924.0 995.9 876.0 1006.1 824.0 1014.3 770.0 1020.2 712.0 1024.0Z" fill="#00c5ff"/>
<path d="M692.0 1024.0 596.0 1025.0 516.0 1022.9 444.0 1017.3 376.0 1008.0 310.0 994.5 250.0 977.6 192.1 956.0 140.0 931.2 140.0 125.9 189.8 102.0 240.0 82.8 296.0 66.0 354.0 53.0 416.0 43.0 480.0 36.5 548.0 32.9 628.0 32.0 704.0 33.4 770.0 37.6 832.0 44.6 892.0 54.9 948.0 68.1 1004.0 85.4 1054.0 105.2 1100.0 127.8 1100.0 929.2 1058.1 950.0 1014.0 968.0 966.0 983.9 918.0 996.5 866.0 1007.1 810.0 1015.3 754.0 1020.8 692.0 1024.0Z" fill="#00c9ff"/>
<path d="M662.0 1024.0 572.0 1024.0 500.0 1021.2 432.0 1015.2 366.0 1005.5 303.1 992.0 246.0 975.4 190.0 954.2 140.0 930.2 140.0 126.9 187.3 104.0 239.0 84.0 294.0 67.4 352.7 54.0 414.4 44.0 480.0 37.2 548.0 33.6 628.0 32.7 702.0 34.1 770.0 38.3 834.0 45.7 893.7 56.0 952.0 70.0 1003.1 86.0 1053.7 106.0 1100.0 128.8 1100.0 928.2 1056.0 950.0 1010.0 968.6 960.0 984.8 906.0 998.4 850.0 1009.0 792.0 1016.6 730.0 1021.6 662.0 1024.0Z" fill="#00ccff"/>
<path d="M706.0 1022.0 612.0 1023.6 526.0 1021.8 452.0 1016.6 382.0 1007.5 314.6 994.0 250.5 976.0 192.0 954.1 140.0 929.2 140.0 127.9 189.4 104.0 240.0 84.5 294.8 68.0 354.0 54.6 416.0 44.6 480.0 38.0 548.0 34.4 628.0 33.5 702.0 34.9 770.0 39.1 832.0 46.1 892.0 56.5 949.0 70.0 1002.0 86.5 1052.0 106.2 1100.0 129.8 1100.0 927.2 1058.4 948.0 1016.0 965.5 970.0 981.0 922.0 994.0 874.0 1004.1 820.0 1012.5 766.0 1018.3 706.0 1022.0Z" fill="#00cfff"/>
<path d="M684.0 1022.0 588.0 1022.7 512.0 1020.4 440.0 1014.6 374.0 1005.3 309.7 992.0 248.0 974.3 192.0 953.2 140.0 928.2 140.0 128.9 187.0 106.0 238.3 86.0 292.0 69.6 352.0 55.7 414.0 45.6 480.0 38.7 548.0 35.2 628.0 34.2 704.0 35.7 771.6 40.0 834.0 47.2 894.0 57.7 952.0 71.7 1003.8 88.0 1054.0 108.0 1100.0 130.8 1100.0 926.2 1056.3 948.0 1012.2 966.0 964.0 981.9 914.0 995.0 860.0 1005.8 804.0 1013.7 746.0 1019.1 684.0 1022.0Z" fill="#00d3ff"/>
<path d="M636.0 1022.0 554.0 1021.3 486.0 1018.0 420.0 1011.4 358.0 1001.6 297.2 988.0 242.0 971.4 188.0 950.5 140.0 927.1 140.0 129.9 189.1 106.0 240.9 86.0 294.0 69.9 354.0 56.2 416.0 46.1 480.0 39.5 548.0 35.9 628.0 35.0 702.0 36.4 768.0 40.5 832.0 47.7 892.0 58.1 950.0 71.9 1002.0 88.2 1052.0 108.1 1100.0 131.9 1100.0 925.2 1054.2 948.0 1004.2 968.0 952.0 984.5 896.0 998.1 838.0 1008.5 774.6 1016.0 710.0 1020.3 636.0 1022.0Z" fill="#00d6ff"/>
<path d="M698.0 1020.0 602.0 1021.2 520.0 1019.3 448.0 1013.9 378.0 1004.4 314.0 991.4 252.0 973.9 193.5 952.0 167.1 940.0 140.0 926.1 140.0 130.9 186.7 108.0 238.0 87.9 296.0 70.2 354.0 57.0 416.0 46.9 480.0 40.3 548.0 36.7 628.0 35.8 704.0 37.2 770.0 41.4 832.0 48.5 892.0 58.9 948.0 72.2 1004.0 89.9 1054.2 110.0 1100.0 132.9 1100.0 924.2 1060.0 944.4 1016.0 962.8 970.0 978.4 919.8 992.0 868.0 1002.8 814.0 1010.9 758.0 1016.6 698.0 1020.0Z" fill="#00daff"/>
<path d="M672.0 1020.0 578.0 1020.3 504.0 1017.6 434.0 1011.6 368.7 1002.0 304.0 988.1 246.0 971.0 191.1 950.0 140.0 925.1 140.0 131.9 188.9 108.0 240.0 88.1 294.0 71.6 352.9 58.0 414.0 48.0 480.0 41.1 548.0 37.4 628.0 36.5 704.0 38.0 770.0 42.2 834.0 49.6 893.4 60.0 950.0 73.7 1002.0 90.0 1052.0 110.0 1100.0 133.9 1100.0 923.1 1058.0 944.3 1010.3 964.0 961.9 980.0 908.0 993.9 856.0 1004.0 798.0 1012.1 738.0 1017.3 672.0 1020.0Z" fill="#00ddff"/>
<path d="M710.0 1018.0 620.0 1019.7 528.0 1018.1 454.0 1012.9 384.0 1003.8 315.2 990.0 252.0 972.1 193.3 950.0 167.0 938.0 140.0 924.1 140.0 133.0 186.5 110.0 240.0 89.0 295.6 72.0 354.0 58.6 416.0 48.5 480.0 41.8 548.0 38.2 628.0 37.3 702.0 38.7 770.0 43.0 832.0 50.1 892.0 60.5 948.1 74.0 1004.0 91.7 1054.4 112.0 1100.0 135.0 1100.0 922.1 1061.0 942.0 1018.5 960.0 972.2 976.0 926.0 988.8 876.0 999.7 824.0 1008.1 770.0 1014.1 710.0 1018.0Z" fill="#00e0ff"/>
<path d="M688.0 1018.1 592.0 1018.9 514.0 1016.6 442.0 1010.9 376.0 1001.7 310.5 988.0 248.3 970.0 190.9 948.0 140.0 923.0 140.0 134.0 188.7 110.0 239.6 90.0 294.0 73.3 352.0 59.8 414.0 49.6 480.0 42.6 548.0 39.0 628.0 38.1 704.0 39.6 772.0 43.9 836.0 51.5 894.0 61.8 950.0 75.4 1002.4 92.0 1052.2 112.0 1100.0 136.0 1100.0 921.0 1058.9 942.0 1016.0 960.0 969.4 976.0 917.6 990.0 864.0 1001.0 808.0 1009.3 750.0 1014.9 688.0 1018.1Z" fill="#00e4ff"/>
<path d="M652.0 1018.0 564.0 1017.7 492.0 1014.5 424.3 1008.0 360.3 998.0 298.2 984.0 242.0 966.9 188.5 946.0 140.0 922.0 140.0 135.1 188.0 111.3 240.0 90.8 294.6 74.0 354.0 60.3 416.0 50.1 480.0 43.4 548.0 39.8 628.0 38.9 702.0 40.3 768.0 44.4 832.0 51.7 892.0 62.2 949.1 76.0 1004.0 93.5 1054.5 114.0 1100.0 137.1 1100.0 920.0 1056.7 942.0 1008.3 962.0 958.0 978.5 902.0 992.7 844.0 1003.5 784.0 1011.2 720.0 1016.0 652.0 1018.0Z" fill="#00e7ff"/>
<path d="M700.0 1016.1 602.0 1017.4 520.0 1015.3 448.0 1009.9 378.0 1000.3 310.0 986.2 250.0 968.7 192.0 946.5 140.0 920.9 140.0 136.1 188.0 112.3 239.2 92.0 294.0 75.0 352.0 61.5 414.0 51.2 480.0 44.2 548.0 40.6 628.0 39.7 704.0 41.1 770.0 45.4 834.0 52.8 894.0 63.5 950.0 77.1 1002.9 94.0 1052.3 114.0 1100.0 138.1 1100.0 918.9 1058.9 940.0 1016.4 958.0 970.1 974.0 920.0 987.7 870.0 998.3 816.0 1006.7 760.0 1012.5 700.0 1016.1Z" fill="#00ebff"/>
<path d="M676.0 1016.0 582.0 1016.4 508.0 1013.9 437.9 1008.0 370.0 998.1 304.9 984.0 246.0 966.5 190.0 944.7 140.0 919.8 140.0 137.2 188.0 113.2 240.0 92.6 294.0 75.9 353.7 62.0 414.1 52.0 480.0 45.0 548.0 41.4 628.0 40.5 702.0 41.9 768.2 46.0 832.0 53.4 892.5 64.0 950.0 78.0 1004.0 95.3 1054.5 116.0 1100.0 139.2 1100.0 917.8 1058.0 939.4 1013.9 958.0 966.0 974.3 912.0 988.8 856.0 999.9 800.0 1007.8 740.0 1013.2 676.0 1016.0Z" fill="#00eeff"/>
<path d="M710.0 1014.0 618.0 1015.8 526.0 1014.0 452.0 1008.7 382.0 999.4 316.0 985.9 252.0 967.6 194.0 945.4 166.0 932.4 140.0 918.8 140.0 138.3 188.0 114.2 238.7 94.0 296.0 76.3 354.0 62.8 416.0 52.6 480.0 45.8 548.0 42.2 628.0 41.3 702.0 42.7 770.0 47.0 832.0 54.2 894.0 65.2 950.0 78.9 1003.2 96.0 1052.3 116.0 1100.0 140.3 1100.0 916.7 1060.0 937.5 1018.0 955.5 972.0 971.6 926.0 984.5 876.0 995.5 823.9 1004.0 770.0 1010.1 710.0 1014.0Z" fill="#00f1ff"/>
<path d="M690.0 1014.0 592.0 1014.9 514.0 1012.6 442.0 1006.8 376.0 997.5 311.8 984.0 250.0 966.0 193.0 944.0 166.0 931.4 140.0 917.7 140.0 139.4 186.3 116.0 238.0 95.2 292.9 78.0 352.2 64.0 414.0 53.7 480.0 46.6 548.0 43.0 628.0 42.1 704.0 43.5 772.0 48.0 836.0 55.6 893.9 66.0 950.7 80.0 1006.0 98.0 1054.5 118.0 1100.0 141.4 1100.0 915.6 1058.0 937.4 1014.2 956.0 967.8 972.0 916.3 986.0 864.0 996.9 810.0 1005.0 752.0 1010.7 690.0 1014.0Z" fill="#00f5ff"/>
<path d="M652.0 1014.0 564.0 1013.7 492.0 1010.5 425.2 1004.0 361.5 994.0 299.7 980.0 242.0 962.3 190.0 941.7 140.0 916.6 140.0 140.5 188.0 116.2 238.4 96.0 296.0 78.0 354.0 64.5 416.0 54.2 480.0 47.5 548.0 43.8 628.0 42.9 702.0 44.3 770.0 48.6 833.0 56.0 892.0 66.5 948.0 80.1 1003.5 98.0 1052.3 118.0 1100.0 142.5 1100.0 914.5 1054.5 938.0 1008.0 957.4 958.1 974.0 903.9 988.0 846.0 999.0 786.0 1006.9 722.0 1011.8 652.0 1014.0Z" fill="#00f8ff"/>
<path d="M700.0 1012.0 602.0 1013.3 520.0 1011.3 448.0 1005.8 378.0 996.1 310.9 982.0 249.6 964.0 193.0 942.0 166.0 929.3 140.0 915.5 140.0 141.6 186.4 118.0 238.0 97.1 292.1 80.0 352.0 65.8 414.0 55.3 480.0 48.3 548.0 44.6 628.0 43.7 704.0 45.2 772.0 49.6 834.0 57.0 894.0 67.8 951.4 82.0 1006.0 99.9 1054.4 120.0 1100.0 143.6 1100.0 913.4 1060.0 934.4 1016.0 953.4 970.0 969.5 922.0 982.9 870.3 994.0 818.0 1002.3 762.0 1008.3 700.0 1012.0Z" fill="#00fcff"/>
<path d="M674.0 1012.0 580.0 1012.3 506.0 1009.7 436.0 1003.6 370.0 993.9 306.6 980.0 246.6 962.0 190.8 940.0 140.0 914.4 140.0 142.7 188.0 118.3 238.2 98.0 295.4 80.0 354.0 66.2 415.4 56.0 480.0 49.1 548.0 45.4 628.0 44.5 702.0 45.9 768.0 50.1 832.0 57.6 892.0 68.2 948.2 82.0 1003.7 100.0 1052.2 120.0 1100.0 144.7 1100.0 912.3 1058.0 934.3 1011.8 954.0 964.0 970.4 912.0 984.4 856.0 995.7 800.0 1003.7 740.0 1009.1 674.0 1012.0Z" fill="#00ffff"/>
<path d="M708.0 1010.1 614.0 1011.7 526.0 1009.9 450.0 1004.3 382.0 995.1 314.0 981.0 280.9 972.0 250.0 962.2 193.1 940.0 166.0 927.2 140.0 913.3 140.0 143.8 186.5 120.0 238.0 99.0 292.0 81.9 352.0 67.5 414.0 57.0 479.4 50.0 548.0 46.3 628.0 45.3 702.0 46.7 770.0 51.1 834.0 58.7 894.0 69.5 951.9 84.0 1006.0 101.8 1054.2 122.0 1100.0 145.9 1100.0 911.2 1060.6 932.0 1019.6 950.0 975.0 966.0 926.0 980.1 874.0 991.6 822.4 1000.0 768.0 1006.1 708.0 1010.1Z" fill="#03fffc"/>
<path d="M686.0 1010.0 588.0 1010.8 510.0 1008.3 438.0 1002.2 372.0 992.5 306.0 978.0 246.4 960.0 190.9 938.0 140.0 912.1 140.0 144.9 188.0 120.4 238.0 100.0 294.8 82.0 354.0 68.0 414.0 57.9 480.0 50.8 548.0 47.1 628.0 46.2 704.0 47.7 770.0 52.0 834.0 59.6 892.1 70.0 948.7 84.0 1003.9 102.0 1054.0 122.9 1100.0 147.0 1100.0 910.0 1058.4 932.0 1014.0 951.2 966.0 967.9 916.0 981.6 864.0 992.5 808.0 1001.0 750.0 1006.7 686.0 1010.0Z" fill="#07fff8"/>
<path d="M640.0 1010.0 556.0 1009.3 486.0 1005.9 418.0 998.8 356.0 988.5 294.4 974.0 240.0 956.8 188.8 936.0 140.0 911.0 140.0 146.1 186.7 122.0 238.0 101.0 292.0 83.7 352.0 69.3 414.0 58.8 478.0 51.8 546.0 48.0 628.0 47.0 702.0 48.4 770.0 52.8 832.0 60.1 894.0 71.3 952.4 86.0 1006.0 103.8 1054.0 124.0 1100.0 148.1 1100.0 908.9 1056.0 932.1 1006.0 953.2 954.0 970.6 898.0 984.9 838.0 996.0 778.0 1003.5 712.0 1008.2 640.0 1010.0Z" fill="#0afff5"/>
<path d="M696.0 1008.0 598.0 1009.2 518.0 1007.0 446.0 1001.3 378.0 991.8 313.1 978.0 250.0 959.3 220.0 948.2 192.0 936.4 166.0 923.9 140.0 909.8 140.0 147.2 188.0 122.5 238.0 102.0 294.3 84.0 352.9 70.0 414.0 59.6 480.0 52.5 548.0 48.8 628.0 47.8 704.0 49.3 770.0 53.7 834.0 61.3 893.0 72.0 949.2 86.0 1003.9 104.0 1054.0 125.1 1100.0 149.3 1100.0 907.7 1060.0 929.1 1017.0 948.0 972.0 964.1 922.0 978.3 870.0 989.7 816.0 998.3 758.0 1004.4 696.0 1008.0Z" fill="#0efff1"/>
<path d="M664.0 1008.0 572.0 1008.0 498.0 1005.0 428.0 998.4 364.0 988.3 301.3 974.0 243.3 956.0 189.1 934.0 140.0 908.7 140.0 148.4 187.0 124.0 238.0 103.0 292.0 85.6 352.0 71.1 414.0 60.5 478.0 53.5 548.0 49.6 628.0 48.7 702.0 50.1 770.0 54.5 832.7 62.0 894.0 73.1 952.8 88.0 1006.0 105.8 1054.0 126.1 1100.0 150.5 1100.0 906.6 1056.0 929.9 1010.0 949.7 962.0 966.3 908.0 980.8 852.0 992.0 794.0 1000.1 732.0 1005.4 664.0 1008.0Z" fill="#11ffee"/>
<path d="M702.0 1006.1 606.0 1007.5 522.0 1005.5 448.0 999.8 378.1 990.0 312.6 976.0 250.0 957.3 219.5 946.0 192.0 934.3 166.0 921.7 140.0 907.5 140.0 149.5 186.0 125.5 237.9 104.0 293.9 86.0 352.0 72.0 414.0 61.4 480.0 54.2 548.0 50.5 628.0 49.5 704.0 51.0 770.0 55.4 834.0 63.1 893.9 74.0 950.0 88.1 1003.9 106.0 1054.0 127.2 1100.0 151.6 1100.0 905.4 1060.0 926.9 1016.9 946.0 972.5 962.0 923.8 976.0 872.0 987.5 819.8 996.0 764.0 1002.2 702.0 1006.1Z" fill="#14ffeb"/>
<path d="M678.0 1006.0 584.0 1006.5 508.0 1003.9 438.0 997.8 372.0 988.0 308.4 974.0 248.0 955.6 192.0 933.2 164.8 920.0 140.0 906.3 140.0 150.7 187.3 126.0 238.0 105.0 292.0 87.5 352.0 72.9 414.0 62.3 478.0 55.3 548.0 51.3 628.0 50.4 704.0 51.9 770.0 56.3 834.0 64.0 894.0 75.0 953.0 90.0 1006.0 107.8 1054.0 128.3 1100.0 152.8 1100.0 904.2 1059.6 926.0 1014.0 946.1 964.0 963.7 912.0 978.0 858.0 989.1 802.0 997.4 742.0 1003.0 678.0 1006.0Z" fill="#18ffe7"/>
<path d="M710.0 1004.0 618.0 1005.8 526.0 1004.0 450.0 998.3 380.0 988.5 312.1 974.0 251.9 956.0 220.0 944.1 192.0 932.1 166.0 919.5 140.0 905.1 140.0 151.9 186.0 127.7 238.0 106.0 293.7 88.0 351.2 74.0 414.0 63.2 479.5 56.0 548.0 52.2 628.0 51.3 704.0 52.8 772.0 57.3 836.0 65.2 894.6 76.0 950.0 90.1 1004.0 108.1 1055.2 130.0 1100.0 154.0 1100.0 903.0 1061.4 924.0 1018.0 943.5 972.6 960.0 926.0 973.6 876.0 984.9 822.0 993.9 768.0 1000.1 710.0 1004.0Z" fill="#1bffe4"/>
<path d="M686.0 1004.0 588.0 1004.8 510.0 1002.3 438.0 996.0 372.0 986.2 308.1 972.0 248.0 953.6 218.0 942.3 190.0 930.1 140.0 903.9 140.0 153.1 187.7 128.0 238.0 107.0 292.0 89.4 352.0 74.8 414.0 64.1 478.0 57.0 548.0 53.1 628.0 52.1 704.0 53.7 770.0 58.0 834.0 65.8 894.0 76.8 953.2 92.0 1006.0 109.9 1054.0 130.5 1100.0 155.2 1100.0 901.8 1059.2 924.0 1014.1 944.0 968.0 960.5 918.0 974.6 865.3 986.0 808.0 994.9 750.0 1000.7 686.0 1004.0Z" fill="#1fffe0"/>
<path d="M638.0 1004.0 554.0 1003.3 484.0 999.6 418.0 992.6 355.3 982.0 296.9 968.0 240.0 949.7 187.9 928.0 140.0 902.7 140.0 154.3 143.9 152.0 190.1 128.0 243.6 106.0 300.0 88.2 358.0 74.5 420.0 64.2 484.0 57.4 554.0 53.8 636.0 53.0 710.0 54.8 776.0 59.5 838.0 67.3 896.0 78.2 950.0 92.0 1004.0 110.2 1054.7 132.0 1100.0 156.5 1100.0 900.6 1056.0 924.4 1006.3 946.0 954.0 963.8 899.8 978.0 840.0 989.4 778.0 997.4 712.0 1002.1 638.0 1004.0Z" fill="#22ffdd"/>
<path d="M694.0 1002.0 596.0 1003.1 516.0 1000.8 444.0 994.9 376.0 985.0 310.0 970.6 249.2 952.0 220.0 940.9 192.0 928.8 166.0 916.0 140.0 901.5 140.0 155.5 188.0 130.1 238.0 109.1 292.0 91.4 352.0 76.7 413.3 66.0 478.0 58.8 548.0 54.8 628.0 53.9 704.0 55.4 772.0 60.0 836.0 67.9 894.0 78.7 953.3 94.0 1006.0 112.0 1056.0 133.7 1100.0 157.7 1100.0 899.3 1058.6 922.0 1016.0 941.1 969.4 958.0 920.8 972.0 868.0 983.6 814.0 992.3 756.0 998.4 694.0 1002.0Z" fill="#25ffda"/>
<path d="M658.0 1002.0 568.0 1001.8 496.0 998.7 427.2 992.0 364.0 981.9 302.0 967.4 242.0 948.4 188.4 926.0 140.0 900.3 140.0 156.8 186.4 132.0 238.0 110.2 293.4 92.0 350.1 78.0 410.0 67.4 476.0 59.9 546.0 55.8 628.0 54.8 704.0 56.3 772.0 60.9 836.0 68.8 895.5 80.0 950.0 94.0 1004.0 112.3 1054.2 134.0 1100.0 158.9 1100.0 898.1 1056.3 922.0 1011.1 942.0 959.9 960.0 906.0 974.6 849.6 986.0 790.0 994.3 726.0 999.6 658.0 1002.0Z" fill="#29ffd6"/>
<path d="M698.0 1000.1 600.0 1001.3 518.0 999.1 444.0 993.1 376.0 983.2 310.0 968.6 249.5 950.0 220.0 938.8 192.0 926.6 166.0 913.7 140.0 899.0 140.0 158.0 188.0 132.4 238.0 111.2 292.0 93.4 352.0 78.6 414.0 67.8 480.0 60.4 548.0 56.6 628.0 55.7 704.0 57.2 772.0 61.8 836.0 69.8 894.0 80.6 952.0 95.6 1005.7 114.0 1055.9 136.0 1100.0 160.2 1100.0 896.8 1062.0 918.0 1018.0 938.1 970.0 955.8 921.0 970.0 870.0 981.4 816.0 990.2 760.0 996.3 698.0 1000.1Z" fill="#2cffd3"/>
<path d="M670.0 1000.0 576.0 1000.2 502.0 997.3 432.0 990.7 366.0 980.3 304.0 966.0 244.0 947.0 189.0 924.0 140.0 897.8 140.0 159.3 187.0 134.0 238.0 112.3 293.4 94.0 350.0 80.0 412.0 69.0 478.0 61.5 548.0 57.5 628.0 56.6 704.0 58.1 772.0 62.7 836.0 70.7 895.8 82.0 952.0 96.7 1006.0 115.2 1054.0 136.2 1100.0 161.5 1100.0 895.6 1056.0 919.8 1010.7 940.0 960.0 957.9 910.0 971.7 854.0 983.3 796.0 991.8 736.0 997.2 670.0 1000.0Z" fill="#30ffcf"/>
<path d="M704.0 998.0 608.0 999.6 524.0 997.6 450.0 991.9 380.0 982.0 314.0 967.6 280.0 958.0 249.8 948.0 218.6 936.0 191.4 924.0 164.0 910.2 140.0 896.5 140.0 160.5 185.2 136.0 236.3 114.0 292.0 95.4 352.0 80.5 414.0 69.6 480.0 62.3 548.0 58.4 628.0 57.5 704.0 59.0 772.0 63.7 836.0 71.7 894.0 82.6 952.0 97.7 1005.3 116.0 1055.2 138.0 1100.0 162.7 1100.0 894.3 1061.3 916.0 1017.8 936.0 972.0 953.0 924.0 967.2 872.0 979.0 818.2 988.0 764.0 994.1 704.0 998.0Z" fill="#33ffcc"/>
<path d="M676.0 998.0 582.0 998.4 506.0 995.7 434.0 989.1 368.0 978.8 304.1 964.0 246.0 945.6 216.5 934.0 190.0 922.2 165.9 910.0 140.0 895.2 140.0 161.8 187.7 136.0 238.0 114.5 293.6 96.0 350.0 81.9 412.0 70.9 478.0 63.4 548.0 59.4 628.0 58.4 704.0 60.0 772.0 64.6 836.0 72.6 895.9 84.0 952.0 98.7 1006.0 117.4 1056.0 139.6 1100.0 164.0 1100.0 893.0 1059.0 916.0 1014.0 936.5 965.8 954.0 914.0 968.8 860.0 980.4 802.0 989.2 742.0 994.9 676.0 998.0Z" fill="#36ffc9"/>
<path d="M706.0 996.1 610.0 997.7 524.0 995.8 449.7 990.0 379.8 980.0 314.0 965.6 280.2 956.0 250.2 946.0 220.0 934.3 192.1 922.0 164.5 908.0 140.0 893.9 140.0 163.1 186.0 138.0 236.8 116.0 292.0 97.5 352.0 82.5 414.0 71.5 480.0 64.1 548.0 60.3 628.0 59.3 704.0 60.9 772.0 65.5 836.0 73.6 894.0 84.6 952.0 99.8 1004.7 118.0 1054.5 140.0 1100.0 165.3 1100.0 891.7 1060.5 914.0 1018.0 933.7 974.0 950.2 926.0 964.7 876.0 976.3 822.0 985.6 766.0 992.1 706.0 996.1Z" fill="#3affc5"/>
<path d="M682.0 996.0 586.0 996.6 508.7 994.0 438.0 987.7 370.0 977.2 304.3 962.0 246.0 943.4 217.1 932.0 190.4 920.0 164.0 906.5 140.0 892.6 140.0 164.4 184.3 140.0 236.0 117.4 292.0 98.5 350.0 83.9 412.0 72.8 478.0 65.3 548.0 61.2 628.0 60.3 704.0 61.8 772.0 66.5 836.0 74.6 895.9 86.0 954.0 101.4 1007.0 120.0 1056.1 142.0 1100.0 166.6 1100.0 890.4 1058.1 914.0 1014.5 934.0 966.0 951.8 916.9 966.0 862.1 978.0 806.0 986.8 746.0 992.8 682.0 996.0Z" fill="#3dffc2"/>
<path d="M710.0 994.0 618.0 995.9 526.0 994.0 450.0 988.1 379.7 978.0 314.0 963.6 280.6 954.0 250.8 944.0 220.0 932.1 192.9 920.0 165.4 906.0 140.0 891.3 140.0 165.7 186.8 140.0 237.4 118.0 292.0 99.6 352.0 84.5 414.0 73.5 480.0 66.0 548.0 62.2 628.0 61.2 704.0 62.8 772.0 67.4 836.0 75.5 894.0 86.6 952.0 101.9 1004.1 120.0 1053.7 142.0 1100.0 168.0 1100.0 889.1 1063.5 910.0 1021.3 930.0 974.2 948.0 928.0 962.1 877.5 974.0 824.0 983.3 768.0 990.0 710.0 994.0Z" fill="#41ffbe"/>
<path d="M686.0 994.0 588.0 994.8 510.0 992.2 439.9 986.0 372.0 975.6 308.0 960.9 248.0 941.9 218.0 930.1 191.3 918.0 164.0 904.0 140.0 890.0 140.0 167.1 185.2 142.0 236.0 119.7 292.0 100.7 350.0 85.9 412.0 74.7 478.0 67.2 548.0 63.1 628.0 62.1 704.0 63.7 772.0 68.4 834.0 76.2 895.8 88.0 954.0 103.6 1006.3 122.0 1055.2 144.0 1100.0 169.3 1100.0 887.7 1058.0 911.6 1014.0 931.9 966.0 949.7 916.7 964.0 862.2 976.0 808.0 984.6 750.0 990.6 686.0 994.0Z" fill="#44ffbb"/>
<path d="M712.0 992.0 620.0 994.0 526.0 992.1 450.0 986.2 380.0 976.1 346.0 969.2 312.0 960.9 281.1 952.0 250.0 941.5 220.6 930.0 193.8 918.0 166.4 904.0 140.0 888.6 140.0 168.4 187.7 142.0 238.1 120.0 292.0 101.7 352.0 86.5 414.0 75.4 479.6 68.0 548.0 64.1 628.0 63.1 704.0 64.7 772.0 69.4 836.0 77.5 896.0 89.1 952.0 104.0 1006.0 123.0 1056.0 145.6 1100.0 170.7 1100.0 886.4 1062.6 908.0 1020.5 928.0 974.0 945.9 927.9 960.0 877.4 972.0 826.0 981.1 770.0 987.9 712.0 992.0Z" fill="#47ffb8"/>
<path d="M688.0 992.0 590.0 992.9 512.0 990.4 439.7 984.0 372.0 973.6 306.0 958.2 246.0 938.9 192.0 915.9 165.1 902.0 140.0 887.3 140.0 169.8 186.1 144.0 236.0 122.0 290.0 103.4 350.0 88.0 412.0 76.7 478.0 69.1 548.0 65.0 628.0 64.1 704.0 65.6 770.0 70.2 834.0 78.2 895.5 90.0 954.0 105.7 1005.6 124.0 1054.3 146.0 1100.0 172.1 1100.0 885.0 1060.2 908.0 1016.0 928.7 970.0 946.1 918.0 961.6 864.0 973.6 810.0 982.3 752.0 988.5 688.0 992.0Z" fill="#4bffb4"/>
<path d="M632.0 992.0 548.0 991.0 478.0 986.9 412.0 979.3 350.0 968.0 290.0 952.5 236.2 934.0 186.6 912.0 140.0 885.9 140.0 171.2 162.1 158.0 210.0 134.0 260.7 114.0 316.0 97.2 376.0 83.8 438.0 74.2 504.0 68.1 574.0 65.3 660.0 65.3 730.0 68.0 792.0 73.5 850.7 82.0 907.9 94.0 962.0 109.4 1012.0 127.8 1058.0 149.2 1100.0 173.4 1100.0 883.6 1054.0 909.9 1005.2 932.0 954.0 950.2 896.0 965.9 836.0 977.5 772.0 985.7 706.0 990.3 632.0 992.0Z" fill="#4effb1"/>
<path d="M690.0 990.0 592.0 991.0 514.0 988.5 440.0 982.0 374.0 971.9 338.0 964.3 306.0 956.1 246.0 936.6 218.0 925.3 190.0 912.4 164.0 898.8 140.0 884.5 140.0 172.5 187.2 146.0 236.7 124.0 292.0 105.0 350.3 90.0 412.0 78.8 478.0 71.1 548.0 67.0 628.0 66.0 704.0 67.6 770.0 72.1 834.0 80.2 895.0 92.0 952.0 107.3 1004.7 126.0 1054.0 148.4 1100.0 174.8 1100.0 882.2 1059.1 906.0 1016.9 926.0 969.6 944.0 920.0 958.9 868.0 970.8 812.0 980.0 754.0 986.3 690.0 990.0Z" fill="#52ffad"/>
<path d="M640.0 990.0 554.0 989.3 484.0 985.5 417.0 978.0 354.0 966.8 295.6 952.0 238.0 932.4 187.6 910.0 164.0 897.5 140.0 883.1 140.0 173.9 156.3 164.0 202.2 140.0 255.8 118.0 312.0 100.4 370.0 87.0 432.0 77.0 498.0 70.5 568.0 67.4 654.0 67.2 724.0 69.6 788.0 75.0 850.0 83.9 906.0 95.7 962.0 111.6 1011.5 130.0 1058.5 152.0 1100.0 176.3 1100.0 880.8 1056.6 906.0 1009.2 928.0 956.0 947.3 900.0 962.8 842.0 974.5 780.0 982.9 713.8 988.0 640.0 990.0Z" fill="#55ffaa"/>
<path d="M690.0 988.0 592.0 989.0 512.0 986.4 439.9 980.0 372.0 969.4 306.4 954.0 274.0 944.1 245.3 934.0 216.0 922.0 190.2 910.0 164.0 896.1 140.0 881.7 140.0 175.4 162.1 162.0 188.0 148.1 237.7 126.0 292.0 107.2 350.9 92.0 412.0 80.8 478.0 73.1 548.0 69.0 628.0 68.0 704.0 69.6 770.0 74.2 834.0 82.3 894.4 94.0 952.0 109.6 1004.0 128.1 1056.0 152.0 1100.0 177.7 1100.0 879.4 1060.0 902.9 1016.0 923.9 968.8 942.0 920.0 956.7 868.0 968.7 812.0 978.0 754.0 984.3 690.0 988.0Z" fill="#58ffa7"/>
<path d="M640.0 988.0 554.0 987.3 484.0 983.4 417.5 976.0 354.0 964.6 294.0 949.3 238.1 930.0 186.0 906.6 140.0 880.2 140.0 176.8 157.6 166.0 204.0 141.7 256.8 120.0 314.0 102.1 372.0 88.7 434.0 78.8 500.0 72.4 568.0 69.4 654.0 69.2 724.0 71.6 788.0 77.1 849.8 86.0 906.6 98.0 962.0 113.9 1010.5 132.0 1057.3 154.0 1100.0 179.1 1100.0 877.9 1055.4 904.0 1008.2 926.0 958.0 944.4 902.0 960.2 844.0 972.1 780.0 980.8 713.6 986.0 640.0 988.0Z" fill="#5cffa3"/>
<path d="M690.0 986.0 592.0 987.0 512.0 984.4 440.0 977.9 372.0 967.3 307.3 952.0 276.0 942.5 246.4 932.0 218.0 920.4 191.4 908.0 165.1 894.0 140.0 878.8 140.0 178.2 186.0 151.8 238.0 128.3 292.0 109.5 351.6 94.0 414.0 82.6 478.0 75.1 548.0 71.0 628.0 70.0 704.0 71.6 772.0 76.4 836.0 84.7 896.0 96.5 952.5 112.0 1007.5 132.0 1054.7 154.0 1100.0 180.6 1100.0 876.4 1060.5 900.0 1018.0 920.6 972.0 938.6 921.8 954.0 870.0 966.2 812.0 975.9 754.0 982.3 690.0 986.0Z" fill="#5fffa0"/>
<path d="M636.0 986.0 552.0 985.2 482.0 981.2 416.0 973.7 352.0 962.0 292.0 946.4 238.0 927.5 186.1 904.0 140.0 877.3 140.0 179.7 162.3 166.0 208.8 142.0 262.0 120.5 316.0 103.8 376.5 90.0 438.0 80.4 504.0 74.2 574.0 71.3 660.0 71.3 729.6 74.0 792.0 79.6 850.0 88.2 908.0 100.6 961.3 116.0 1012.0 135.1 1058.0 157.1 1100.0 182.1 1100.0 875.0 1054.2 902.0 1007.1 924.0 956.0 942.8 900.0 958.4 842.0 970.3 778.0 979.0 712.0 984.0 636.0 986.0Z" fill="#63ff9c"/>
<path d="M688.0 984.0 590.0 984.9 510.0 982.2 438.0 975.6 370.0 964.7 306.0 949.4 275.6 940.0 246.0 929.4 218.0 917.9 190.0 904.6 164.0 890.6 140.0 875.8 140.0 181.2 186.0 154.4 236.0 131.6 291.4 112.0 350.0 96.6 412.0 85.0 478.0 77.2 548.0 73.0 628.0 72.0 704.0 73.7 772.0 78.5 836.0 86.9 896.0 98.8 952.0 114.2 1006.4 134.0 1056.0 157.4 1100.0 183.6 1100.0 873.5 1060.0 897.5 1018.0 918.1 972.0 936.2 920.8 952.0 868.0 964.4 810.6 974.0 752.0 980.4 688.0 984.0Z" fill="#66ff99"/>
<path d="M710.0 982.1 616.0 984.0 525.1 982.0 450.0 976.0 380.0 965.5 344.0 958.0 312.4 950.0 280.0 940.3 250.0 929.7 221.2 918.0 191.4 904.0 165.4 890.0 140.0 874.3 140.0 182.7 185.6 156.0 236.0 132.8 288.7 114.0 348.6 98.0 412.0 86.1 478.0 78.3 548.0 74.1 628.0 73.1 704.0 74.7 772.0 79.5 836.4 88.0 896.5 100.0 954.0 116.0 1008.0 135.9 1056.0 158.7 1100.0 185.1 1100.0 871.9 1060.3 896.0 1020.0 915.9 976.0 933.6 930.0 948.3 880.0 960.8 826.0 970.7 770.0 977.7 710.0 982.1Z" fill="#69ff96"/>
<path d="M684.0 982.1 586.0 982.8 508.0 980.0 436.0 973.2 368.0 962.1 334.0 954.5 302.4 946.0 243.6 926.0 215.1 914.0 190.0 901.9 164.4 888.0 140.0 872.8 140.0 184.2 184.4 158.0 236.2 134.0 292.0 114.2 350.0 98.8 410.0 87.5 476.0 79.5 546.0 75.2 628.0 74.1 704.0 75.7 772.0 80.6 838.0 89.4 898.0 101.5 956.0 117.8 1008.0 137.2 1055.8 160.0 1100.0 186.6 1100.0 870.4 1061.4 894.0 1016.8 916.0 971.3 934.0 919.7 950.0 868.0 962.2 809.5 972.0 750.0 978.4 684.0 982.1Z" fill="#6dff92"/>
<path d="M708.0 980.1 612.0 981.9 524.0 979.8 448.0 973.6 378.0 962.9 344.0 955.7 310.0 947.0 278.0 937.2 246.8 926.0 218.0 914.0 190.0 900.6 164.0 886.3 140.0 871.3 140.0 185.8 184.0 159.6 234.4 136.0 289.9 116.0 349.7 100.0 412.0 88.3 478.0 80.4 548.0 76.2 628.0 75.2 704.0 76.8 772.0 81.7 835.2 90.0 896.0 102.2 952.8 118.0 1006.8 138.0 1056.0 161.5 1100.0 188.2 1100.0 868.9 1062.4 892.0 1022.0 912.4 978.0 930.4 929.9 946.0 880.0 958.5 826.0 968.5 768.0 975.7 708.0 980.1Z" fill="#70ff8f"/>
<path d="M680.0 980.1 584.0 980.6 508.0 977.8 436.0 971.0 368.0 959.8 303.7 944.0 272.2 934.0 245.0 924.0 216.5 912.0 190.0 899.2 164.0 884.8 140.0 869.7 140.0 187.3 162.0 173.4 185.9 160.0 236.0 136.6 290.0 117.2 348.0 101.5 408.1 90.0 476.0 81.7 546.0 77.3 628.0 76.2 706.0 78.0 774.0 83.0 838.0 91.6 898.0 103.8 955.2 120.0 1008.0 139.8 1056.0 163.0 1100.0 189.7 1100.0 867.3 1059.8 892.0 1015.4 914.0 970.0 932.0 918.0 948.1 866.0 960.3 808.0 970.0 746.0 976.6 680.0 980.1Z" fill="#74ff8b"/>
<path d="M704.0 978.1 606.0 979.7 520.0 977.5 444.0 970.9 374.6 960.0 340.0 952.4 308.0 944.0 276.0 934.1 248.0 923.9 219.5 912.0 190.5 898.0 165.1 884.0 140.0 868.2 140.0 188.9 184.8 162.0 235.9 138.0 291.3 118.0 350.0 102.3 412.0 90.5 478.0 82.6 548.0 78.3 628.0 77.3 704.0 79.0 772.0 83.9 834.0 92.0 896.0 104.5 952.0 120.2 1006.0 140.3 1055.3 164.0 1100.0 191.3 1100.0 865.7 1062.0 889.3 1021.3 910.0 977.6 928.0 928.0 944.1 876.0 957.1 822.0 966.9 764.0 974.0 704.0 978.1Z" fill="#77ff88"/>
<path d="M676.0 978.0 580.0 978.4 504.0 975.4 432.0 968.3 366.0 957.1 302.0 941.1 272.0 931.4 242.0 920.2 214.0 908.1 189.3 896.0 164.3 882.0 140.0 866.6 140.0 190.5 184.0 163.9 234.2 140.0 288.9 120.0 348.0 103.9 409.7 92.0 476.0 83.9 546.0 79.5 628.0 78.4 704.0 80.0 772.0 85.0 838.0 93.8 897.3 106.0 953.7 122.0 1006.9 142.0 1056.3 166.0 1100.0 193.0 1100.0 864.1 1058.2 890.0 1014.0 911.9 968.0 930.2 916.0 946.3 862.0 958.8 804.0 968.3 742.0 974.7 676.0 978.0Z" fill="#7aff85"/>
<path d="M700.0 976.1 602.0 977.5 518.0 975.2 444.0 968.7 376.0 958.0 342.0 950.6 309.4 942.0 277.4 932.0 246.0 920.5 216.7 908.0 190.0 894.9 164.0 880.3 140.0 864.9 140.0 192.1 161.9 178.0 186.0 164.3 236.0 140.6 290.0 120.9 348.0 105.1 410.0 93.1 476.0 85.0 546.0 80.6 628.0 79.5 704.0 81.1 772.0 86.1 836.0 94.7 898.0 107.4 955.9 124.0 1008.4 144.0 1057.3 168.0 1100.0 194.6 1100.0 862.5 1062.0 886.4 1019.7 908.0 976.0 926.0 926.0 942.3 874.0 955.2 820.0 964.9 762.0 971.9 700.0 976.1Z" fill="#7eff81"/>
<path d="M666.0 976.0 572.0 976.1 498.0 972.8 428.0 965.4 362.5 954.0 300.0 938.0 269.5 928.0 242.0 917.6 215.4 906.0 188.0 892.4 162.7 878.0 140.0 863.3 140.0 193.7 148.5 188.0 194.0 161.5 245.7 138.0 302.0 118.5 360.0 103.6 422.0 92.4 488.0 85.1 558.0 81.3 644.0 80.7 716.0 82.9 782.0 88.3 846.0 97.6 903.8 110.0 958.1 126.0 1009.9 146.0 1058.0 169.9 1100.0 196.2 1100.0 860.8 1058.0 887.1 1012.2 910.0 964.0 929.0 912.0 944.9 854.1 958.0 796.0 967.1 734.0 973.1 666.0 976.0Z" fill="#81ff7e"/>
<path d="M696.0 974.0 596.0 975.3 514.0 972.7 440.9 966.0 372.0 954.8 338.0 947.2 306.0 938.5 274.0 928.3 246.0 917.8 218.0 905.8 190.1 892.0 165.3 878.0 140.0 861.7 140.0 195.4 184.5 168.0 234.4 144.0 288.2 124.0 348.0 107.5 410.0 95.4 476.0 87.2 546.0 82.8 628.0 81.7 704.0 83.4 772.0 88.4 838.0 97.3 898.0 109.8 954.3 126.0 1006.7 146.0 1055.5 170.0 1079.2 184.0 1100.0 197.9 1100.0 859.1 1060.9 884.0 1018.0 906.0 974.0 924.1 925.3 940.0 874.0 952.8 818.0 962.9 758.3 970.0 696.0 974.0Z" fill="#85ff7a"/>
<path d="M652.0 974.0 562.0 973.6 490.0 969.9 420.1 962.0 356.0 950.2 295.3 934.0 239.9 914.0 212.9 902.0 188.0 889.4 164.0 875.6 140.0 860.0 140.0 197.1 160.0 183.9 206.8 158.0 257.7 136.0 312.2 118.0 372.0 103.5 434.0 93.1 502.0 86.3 572.0 83.2 658.0 83.1 730.0 86.0 793.9 92.0 854.0 101.4 909.7 114.0 962.2 130.0 1012.6 150.0 1059.9 174.0 1100.0 199.6 1100.0 857.4 1058.0 884.1 1010.4 908.0 959.4 928.0 906.0 944.0 848.0 956.8 786.0 966.0 722.0 971.6 652.0 974.0Z" fill="#88ff77"/>
<path d="M688.0 972.0 590.0 972.9 510.0 970.2 438.0 963.3 370.0 952.0 306.0 936.0 275.0 926.0 243.3 914.0 215.9 902.0 188.2 888.0 163.9 874.0 140.0 858.3 140.0 198.8 162.4 184.0 186.0 170.2 236.0 146.1 290.1 126.0 347.7 110.0 408.6 98.0 476.0 89.5 546.0 85.1 628.0 84.0 704.0 85.7 772.0 90.7 838.0 99.7 897.0 112.0 954.0 128.5 1008.0 149.4 1057.2 174.0 1100.0 201.3 1100.0 855.7 1062.0 880.3 1018.0 903.1 972.5 922.0 922.0 938.4 868.0 951.6 812.0 961.4 752.0 968.3 688.0 972.0Z" fill="#8bff74"/>
<path d="M708.0 970.0 610.0 971.9 522.0 969.7 446.0 963.1 376.2 952.0 342.0 944.4 310.0 935.9 278.0 925.7 246.7 914.0 219.1 902.0 191.0 888.0 164.0 872.4 140.0 856.5 140.0 200.5 161.8 186.0 185.6 172.0 234.8 148.0 288.0 128.0 348.0 111.2 410.0 99.0 476.0 90.7 546.0 86.2 628.0 85.1 706.0 86.9 774.0 92.1 840.0 101.3 900.0 114.0 956.0 130.5 1010.0 151.7 1057.9 176.0 1100.0 203.1 1100.0 854.0 1063.2 878.0 1021.6 900.0 978.0 918.6 930.0 934.8 879.1 948.0 826.0 958.1 768.0 965.6 708.0 970.0Z" fill="#8fff70"/>
<path d="M678.0 970.0 580.0 970.5 504.0 967.4 431.2 960.0 364.0 948.2 330.0 940.1 300.0 931.5 270.0 921.5 240.4 910.0 213.7 898.0 186.5 884.0 162.8 870.0 140.0 854.8 140.0 202.2 146.1 198.0 168.0 183.8 192.1 170.0 216.0 157.9 242.9 146.0 298.4 126.0 358.0 110.1 420.0 98.6 486.0 91.0 556.0 87.1 640.0 86.3 714.0 88.5 780.9 94.0 844.0 103.2 902.8 116.0 960.0 133.3 1011.9 154.0 1058.6 178.0 1100.0 204.8 1100.0 852.2 1060.4 878.0 1018.0 900.2 970.6 920.0 918.0 937.0 864.0 950.0 805.2 960.0 744.0 966.6 678.0 970.0Z" fill="#92ff6d"/>
<path d="M700.0 968.1 600.0 969.5 516.0 967.0 440.3 960.0 372.0 948.7 338.0 940.9 305.8 932.0 275.2 922.0 244.0 910.1 216.8 898.0 189.4 884.0 164.0 869.1 140.0 853.0 140.0 204.0 160.7 190.0 184.1 176.0 208.0 163.3 234.0 151.2 261.6 140.0 290.0 130.0 346.8 114.0 408.0 101.7 476.0 93.1 546.0 88.6 628.0 87.5 704.0 89.2 772.0 94.2 838.0 103.4 898.0 116.1 956.0 133.2 1008.7 154.0 1056.0 178.1 1078.8 192.0 1100.0 206.6 1100.0 850.4 1061.1 876.0 1019.6 898.0 974.0 917.3 926.0 933.3 876.0 946.2 820.0 956.6 762.0 963.8 700.0 968.1Z" fill="#96ff69"/>
<path d="M664.0 968.0 570.0 968.0 496.0 964.5 426.0 956.8 360.0 944.8 328.0 937.0 297.2 928.0 268.0 918.0 238.0 906.1 211.7 894.0 186.0 880.5 161.7 866.0 140.0 851.2 140.0 205.8 157.2 194.0 202.0 167.9 226.6 156.0 254.9 144.0 310.0 125.1 370.0 110.1 432.0 99.4 500.0 92.3 570.0 89.1 656.0 88.9 728.0 91.7 792.0 97.7 852.0 107.2 908.1 120.0 964.0 137.4 1014.0 157.9 1059.9 182.0 1100.0 208.4 1100.0 848.6 1058.3 876.0 1014.0 899.1 964.0 919.6 912.0 936.0 856.0 949.1 796.0 958.8 732.0 965.1 664.0 968.0Z" fill="#99ff66"/>
<path d="M690.0 966.1 590.0 967.1 510.0 964.2 438.0 957.2 370.0 945.7 337.0 938.0 304.0 928.7 272.0 918.1 244.0 907.1 214.8 894.0 188.0 880.0 164.0 865.7 140.0 849.4 140.0 207.6 142.0 206.2 162.9 192.0 186.2 178.0 210.0 165.4 236.0 153.3 263.8 142.0 292.0 132.1 349.3 116.0 410.0 103.9 478.0 95.3 548.0 90.9 632.0 89.9 710.0 91.9 778.0 97.3 842.0 106.6 902.0 119.7 958.0 136.7 1010.9 158.0 1057.1 182.0 1079.6 196.0 1100.0 210.3 1100.0 846.8 1062.0 872.2 1018.0 895.7 970.0 916.0 922.0 931.8 868.0 945.3 812.0 955.4 754.0 962.1 690.0 966.1Z" fill="#9cff63"/>
<path d="M708.0 964.1 610.0 966.0 522.0 963.7 446.0 957.0 376.0 945.6 342.0 937.9 308.0 928.6 275.8 918.0 246.0 906.5 218.0 894.0 190.9 880.0 164.0 864.0 140.0 847.6 140.0 209.5 162.0 194.3 184.0 180.9 208.0 168.0 233.3 156.0 288.0 134.8 346.4 118.0 408.0 105.5 476.0 96.7 546.0 92.2 628.0 91.1 704.0 92.8 772.9 98.0 838.0 107.1 898.0 120.0 956.0 137.4 1007.6 158.0 1032.3 170.0 1057.7 184.0 1080.0 198.0 1100.0 212.2 1100.0 844.9 1062.8 870.0 1022.5 892.0 976.7 912.0 930.4 928.0 878.0 941.9 825.6 952.0 768.0 959.6 708.0 964.1Z" fill="#a0ff5f"/>
<path d="M678.0 964.0 580.0 964.5 504.0 961.4 432.6 954.0 365.0 942.0 331.9 934.0 300.0 924.7 270.0 914.5 242.0 903.3 214.0 890.5 188.0 876.7 163.6 862.0 140.0 845.7 140.0 211.4 150.3 204.0 172.0 189.8 195.8 176.0 220.0 163.7 246.1 152.0 301.0 132.0 360.7 116.0 424.0 104.3 490.0 96.7 560.0 93.0 646.0 92.4 720.0 94.9 786.0 100.7 848.0 110.3 908.0 124.0 964.0 141.7 1012.9 162.0 1058.2 186.0 1100.0 214.1 1100.0 843.0 1060.0 870.0 1018.0 892.6 970.0 913.1 918.9 930.0 864.0 943.6 806.0 953.7 744.0 960.5 678.0 964.0Z" fill="#a3ff5c"/>
<path d="M698.0 962.1 598.0 963.5 514.0 960.8 440.0 953.7 371.1 942.0 337.1 934.0 302.1 924.0 272.0 913.7 242.5 902.0 216.0 889.9 189.7 876.0 163.3 860.0 140.0 843.8 140.0 213.3 141.7 212.0 162.0 197.9 186.0 183.1 210.3 170.0 235.7 158.0 290.0 137.0 349.3 120.0 410.0 107.7 478.0 99.1 548.0 94.6 632.0 93.5 710.0 95.6 778.0 101.1 842.0 110.5 902.0 123.8 958.0 141.0 1009.5 162.0 1033.8 174.0 1058.0 187.6 1080.0 201.6 1100.0 216.0 1100.0 841.1 1062.0 867.0 1020.1 890.0 974.3 910.0 927.8 926.0 874.4 940.0 820.0 950.3 760.0 957.8 698.0 962.1Z" fill="#a7ff58"/>
<path d="M656.0 962.0 566.0 961.7 492.0 957.9 422.8 950.0 358.0 937.7 326.0 929.6 294.1 920.0 266.0 910.0 238.0 898.5 211.5 886.0 185.7 872.0 163.0 858.0 140.0 841.8 140.0 215.2 168.0 195.8 214.0 169.8 239.2 158.0 266.0 147.0 322.0 128.5 382.0 114.1 444.0 104.1 510.0 97.8 580.0 95.0 670.0 95.3 738.0 98.6 802.0 105.4 862.0 115.7 916.0 129.0 967.7 146.0 1016.0 166.6 1060.0 190.6 1100.0 217.9 1100.0 839.1 1079.4 854.0 1058.0 867.7 1012.7 892.0 964.0 912.4 909.1 930.0 852.0 943.4 792.0 953.0 726.0 959.3 656.0 962.0Z" fill="#aaff55"/>
<path d="M686.0 960.0 588.0 960.9 508.0 957.8 434.0 950.3 366.0 938.2 332.5 930.0 300.0 920.4 269.9 910.0 240.4 898.0 214.0 885.6 188.0 871.6 162.8 856.0 140.0 839.9 140.0 217.2 149.7 210.0 170.5 196.0 194.0 182.0 220.0 168.5 246.0 156.6 272.7 146.0 301.8 136.0 360.0 120.2 424.0 108.2 490.0 100.6 560.0 96.7 646.0 96.2 720.0 98.7 786.0 104.6 848.0 114.2 907.5 128.0 962.0 145.4 1012.0 166.3 1036.0 178.5 1059.5 192.0 1100.0 219.9 1100.0 837.1 1061.2 864.0 1018.0 887.8 971.7 908.0 922.0 924.9 870.0 938.3 812.0 948.9 752.0 956.0 686.0 960.0Z" fill="#adff52"/>
<path d="M702.0 958.1 602.0 959.7 516.0 957.1 441.5 950.0 406.0 944.6 371.5 938.0 337.8 930.0 304.0 920.3 274.0 910.0 244.0 898.0 214.1 884.0 188.2 870.0 162.6 854.0 140.0 837.9 140.0 219.2 141.5 218.0 164.0 202.1 186.6 188.0 212.0 174.1 236.0 162.6 290.0 141.4 349.8 124.0 412.0 111.4 478.0 102.9 548.0 98.4 632.0 97.3 710.0 99.4 778.0 105.0 842.0 114.5 902.2 128.0 959.6 146.0 1012.0 168.0 1036.0 180.2 1059.8 194.0 1100.0 222.0 1100.0 835.1 1062.0 861.7 1022.0 884.2 978.0 904.0 928.0 921.6 876.0 935.5 822.2 946.0 764.0 953.6 702.0 958.1Z" fill="#b1ff4e"/>
<path d="M664.0 958.0 570.0 958.0 496.0 954.4 424.0 946.2 359.8 934.0 328.0 925.9 296.0 916.2 267.5 906.0 238.6 894.0 213.5 882.0 187.9 868.0 162.4 852.0 140.0 835.8 140.0 221.2 167.0 202.0 189.6 188.0 214.0 174.8 265.0 152.0 320.0 133.4 380.0 118.6 442.0 108.3 508.0 101.8 578.0 98.9 668.0 99.1 736.0 102.3 800.0 109.1 860.0 119.4 916.0 133.3 968.0 150.7 1016.9 172.0 1060.1 196.0 1100.0 224.0 1100.0 833.0 1060.0 861.1 1016.0 885.5 968.0 906.4 915.2 924.0 858.3 938.0 799.8 948.0 734.0 954.8 664.0 958.0Z" fill="#b4ff4b"/>
<path d="M688.0 956.0 588.0 957.0 508.0 953.9 434.0 946.3 366.0 934.0 333.6 926.0 300.0 916.0 271.6 906.0 242.0 893.9 212.9 880.0 187.5 866.0 162.3 850.0 140.0 833.8 140.0 223.3 152.4 214.0 173.0 200.0 196.3 186.0 222.0 172.5 248.0 160.5 303.2 140.0 361.8 124.0 425.4 112.0 492.0 104.3 564.0 100.5 650.0 100.1 722.0 102.7 788.0 108.8 850.0 118.8 908.0 132.5 962.1 150.0 1013.4 172.0 1036.5 184.0 1060.0 197.8 1100.0 226.1 1100.0 830.9 1061.9 858.0 1019.6 882.0 974.0 902.4 923.7 920.0 870.4 934.0 814.0 944.6 752.6 952.0 688.0 956.0Z" fill="#b8ff47"/>
<path d="M704.0 954.0 604.0 955.8 518.0 953.2 442.0 946.0 406.0 940.5 372.5 934.0 339.1 926.0 304.7 916.0 274.0 905.3 244.0 893.1 216.0 879.9 188.0 864.4 162.2 848.0 140.0 831.7 140.0 225.4 144.4 222.0 166.7 206.0 189.0 192.0 214.0 178.2 238.0 166.6 264.0 155.6 292.0 145.2 351.0 128.0 414.0 115.2 482.0 106.6 554.0 102.1 638.0 101.3 714.0 103.6 782.0 109.5 846.0 119.4 904.0 132.8 958.0 150.1 1010.0 172.0 1034.0 184.4 1057.3 198.0 1078.4 212.0 1100.0 228.2 1100.0 828.8 1064.0 854.8 1024.0 878.0 980.0 898.4 931.7 916.0 880.0 930.3 824.0 941.6 766.0 949.4 704.0 954.0Z" fill="#bbff44"/>
<path d="M666.0 954.0 572.0 954.0 496.0 950.3 424.0 942.0 360.0 929.7 329.8 922.0 297.2 912.0 266.0 900.7 238.0 888.8 211.9 876.0 187.0 862.0 162.2 846.0 140.0 829.5 140.0 227.5 169.7 206.0 192.2 192.0 216.0 178.9 267.0 156.0 322.0 137.3 382.0 122.5 444.0 112.2 510.0 105.7 582.0 102.8 672.0 103.2 740.0 106.7 804.0 113.7 861.7 124.0 916.9 138.0 969.4 156.0 1018.0 177.7 1060.6 202.0 1100.0 230.4 1100.0 826.6 1080.0 841.9 1060.0 855.4 1016.7 880.0 967.0 902.0 914.0 919.9 858.0 933.8 799.0 944.0 736.0 950.7 666.0 954.0Z" fill="#beff41"/>
<path d="M686.0 952.1 588.0 952.9 508.0 949.9 434.0 942.1 398.0 936.2 366.0 929.6 334.0 921.6 301.9 912.0 270.0 900.6 240.1 888.0 212.0 874.2 186.9 860.0 162.3 844.0 140.0 827.3 140.0 229.7 158.1 216.0 178.9 202.0 202.4 188.0 226.0 175.7 252.0 163.8 280.0 152.7 308.0 143.1 368.0 126.9 430.0 115.5 498.0 107.9 570.0 104.4 658.0 104.2 730.0 107.3 794.0 113.8 854.7 124.0 912.0 138.1 965.3 156.0 1015.1 178.0 1038.0 190.3 1060.7 204.0 1100.0 232.6 1100.0 824.4 1062.3 852.0 1020.0 876.5 973.0 898.0 922.0 916.0 868.9 930.0 812.0 940.7 751.6 948.0 686.0 952.1Z" fill="#c2ff3d"/>
<path d="M702.0 950.0 602.0 951.7 516.0 949.0 440.0 941.5 404.7 936.0 370.0 929.1 336.0 920.7 304.0 911.1 272.7 900.0 243.9 888.0 216.0 874.5 190.0 860.0 164.0 843.1 140.0 825.1 140.0 231.9 150.1 224.0 172.7 208.0 195.2 194.0 220.9 180.0 246.0 168.1 300.0 147.3 360.0 130.3 423.0 118.0 490.0 110.0 561.6 106.0 648.0 105.5 720.0 108.0 786.0 114.2 848.0 124.1 908.0 138.5 962.0 156.4 990.0 167.9 1014.0 179.2 1037.8 192.0 1060.0 205.5 1080.9 220.0 1100.0 234.9 1100.0 822.2 1062.3 850.0 1022.0 873.7 978.7 894.0 929.6 912.0 878.0 926.4 822.0 937.7 764.0 945.4 702.0 950.0Z" fill="#c5ff3a"/>
<path d="M658.0 950.0 566.0 949.8 492.0 945.8 422.0 937.4 388.0 931.4 354.8 924.0 324.0 915.7 293.6 906.0 264.0 894.9 236.0 882.6 210.0 869.5 184.0 854.3 162.0 839.6 140.0 822.9 140.0 234.2 178.8 206.0 202.0 192.0 224.5 180.0 250.1 168.0 276.0 157.4 332.0 139.0 392.0 124.9 454.0 115.1 522.0 109.1 594.0 106.8 684.0 107.7 750.0 111.7 810.0 118.9 868.7 130.0 922.0 144.2 972.0 162.0 1019.7 184.0 1062.0 208.9 1100.0 237.2 1100.0 819.9 1080.0 835.6 1059.2 850.0 1036.3 864.0 1014.0 876.0 964.6 898.0 912.0 915.8 855.1 930.0 794.0 940.4 730.0 946.9 658.0 950.0Z" fill="#c9ff36"/>
<path d="M682.0 948.0 582.0 948.7 504.0 945.3 430.0 937.2 396.0 931.4 362.0 924.2 330.0 915.9 298.0 905.9 266.0 894.0 238.5 882.0 210.7 868.0 186.7 854.0 162.7 838.0 140.0 820.6 140.0 236.5 164.1 218.0 185.1 204.0 209.0 190.0 232.2 178.0 258.8 166.0 313.8 146.0 374.5 130.0 438.0 118.7 504.0 111.7 576.0 108.5 666.0 108.6 736.0 112.0 800.0 118.9 861.9 130.0 916.1 144.0 967.8 162.0 1016.2 184.0 1060.6 210.0 1080.5 224.0 1100.0 239.5 1100.0 817.5 1062.0 846.1 1018.2 872.0 970.4 894.0 922.0 911.2 866.6 926.0 810.0 936.6 748.8 944.0 682.0 948.0Z" fill="#ccff33"/>
<path d="M696.0 946.0 596.0 947.4 512.0 944.4 474.0 941.2 436.0 936.6 402.0 931.0 367.8 924.0 336.0 916.0 303.3 906.0 270.3 894.0 242.0 881.8 214.0 867.9 186.7 852.0 162.9 836.0 140.0 818.2 140.0 238.8 156.2 226.0 178.0 210.6 200.0 197.0 223.9 184.0 249.0 172.0 276.0 160.8 304.0 150.8 364.0 133.9 426.0 121.9 494.0 113.9 566.0 110.1 656.0 109.8 728.0 112.8 794.0 119.6 854.7 130.0 912.0 144.4 966.0 163.0 1016.0 185.8 1038.1 198.0 1060.5 212.0 1080.2 226.0 1100.0 241.9 1100.0 815.2 1062.0 844.0 1022.2 868.0 976.0 889.9 927.0 908.0 876.0 922.3 818.0 933.9 758.0 941.7 696.0 946.0Z" fill="#cfff30"/>
<path d="M632.0 946.0 548.0 944.9 476.0 940.0 406.0 930.2 344.0 916.5 314.6 908.0 285.3 898.0 256.0 886.3 230.0 874.2 206.0 861.5 182.0 846.9 160.5 832.0 140.0 815.8 140.0 241.2 170.3 218.0 205.2 196.0 253.1 172.0 304.0 152.5 360.0 136.5 418.0 124.7 480.0 116.7 546.0 112.2 634.0 111.1 708.0 113.1 769.1 118.0 826.0 126.0 882.0 137.8 932.0 152.3 978.7 170.0 1024.0 192.0 1064.0 216.5 1100.0 244.3 1100.0 812.7 1080.0 828.9 1058.8 844.0 1036.5 858.0 1012.0 871.4 961.7 894.0 934.0 904.0 904.0 913.3 842.4 928.0 778.2 938.0 708.0 944.0 632.0 946.0Z" fill="#d3ff2c"/>
<path d="M668.0 944.0 570.0 944.1 494.0 940.1 424.0 931.7 390.0 925.6 356.0 918.0 326.0 909.8 295.6 900.0 264.3 888.0 237.5 876.0 210.4 862.0 186.0 847.4 162.0 830.9 140.0 813.4 140.0 243.7 176.4 216.0 198.4 202.0 222.0 188.8 248.0 176.1 272.0 165.9 328.0 146.6 388.0 131.8 450.0 121.6 518.0 115.2 592.0 112.6 682.0 113.4 750.0 117.6 812.0 125.2 868.0 136.1 924.0 151.4 974.4 170.0 1020.4 192.0 1063.0 218.0 1100.0 246.8 1100.0 810.2 1080.8 826.0 1061.6 840.0 1040.0 853.9 1018.0 866.3 994.0 878.3 968.0 889.7 916.5 908.0 860.0 922.8 800.0 933.6 738.0 940.5 668.0 944.0Z" fill="#d6ff29"/>
<path d="M684.0 942.1 584.0 942.8 504.0 939.4 467.2 936.0 430.0 931.1 396.0 925.2 362.7 918.0 328.0 908.7 296.0 898.4 266.0 886.9 238.0 874.4 210.5 860.0 186.0 845.3 162.0 828.6 140.0 810.9 140.0 246.2 168.1 224.0 188.8 210.0 212.3 196.0 236.0 183.7 262.0 171.8 316.0 152.0 346.0 143.3 378.0 135.5 442.0 124.2 508.0 117.3 580.0 114.3 672.0 114.6 742.0 118.4 806.0 125.9 866.0 137.2 920.5 152.0 972.0 170.8 1020.0 193.8 1062.7 220.0 1081.6 234.0 1100.0 249.3 1100.0 807.7 1064.0 836.1 1022.0 862.2 976.0 884.5 923.8 904.0 872.0 918.4 813.5 930.0 750.0 937.9 684.0 942.1Z" fill="#daff25"/>
<path d="M696.0 940.1 594.0 941.5 510.0 938.3 472.0 935.0 434.0 930.1 398.0 924.0 366.0 917.2 331.3 908.0 299.9 898.0 268.3 886.0 240.0 873.4 214.0 859.9 187.4 844.0 162.0 826.2 140.0 808.3 140.0 248.7 163.1 230.0 185.9 214.0 208.0 200.5 232.0 187.6 258.0 175.4 286.0 164.1 314.0 154.3 374.0 138.0 438.0 126.3 504.0 119.2 576.0 115.8 666.0 116.0 736.0 119.4 800.0 126.5 862.0 137.9 918.0 152.9 970.5 172.0 1018.0 194.7 1041.0 208.0 1062.0 221.8 1081.1 236.0 1100.0 251.9 1100.0 805.1 1063.8 834.0 1022.3 860.0 977.6 882.0 930.0 900.2 876.0 915.8 820.0 927.3 760.0 935.4 696.0 940.1Z" fill="#ddff22"/>
<path d="M630.0 940.0 546.0 938.8 474.0 933.6 406.5 924.0 344.0 909.9 312.0 900.3 284.0 890.4 256.0 878.9 230.0 866.4 204.0 852.1 181.7 838.0 159.6 822.0 140.0 805.7 140.0 251.3 174.5 224.0 212.5 200.0 258.0 177.3 308.2 158.0 364.1 142.0 424.3 130.0 486.0 122.2 553.1 118.0 644.0 117.1 716.0 119.6 778.0 125.2 835.0 134.0 888.1 146.0 938.0 161.4 984.5 180.0 1027.4 202.0 1066.0 227.0 1100.0 254.6 1100.0 802.5 1081.8 818.0 1060.5 834.0 1038.0 848.7 1014.0 862.5 990.0 874.5 963.6 886.0 936.0 896.4 906.0 906.0 876.0 914.1 844.0 921.3 778.0 931.8 708.0 937.9 630.0 940.0Z" fill="#e0ff1f"/>
<path d="M664.0 938.0 568.0 937.9 492.0 933.8 456.0 930.0 420.0 924.7 386.0 918.3 354.0 910.8 322.9 902.0 292.0 891.6 263.0 880.0 234.0 866.5 207.5 852.0 184.0 837.3 160.2 820.0 140.0 803.0 140.0 254.0 162.0 235.7 186.7 218.0 209.2 204.0 232.0 191.6 256.3 180.0 284.0 168.5 340.0 150.0 399.5 136.0 464.0 126.1 530.0 120.6 606.0 118.6 694.0 120.0 758.0 124.6 818.0 132.6 874.0 144.1 928.9 160.0 980.0 179.9 1023.7 202.0 1064.2 228.0 1100.0 257.3 1100.0 799.8 1081.2 816.0 1062.0 830.6 1042.0 844.0 1018.4 858.0 995.2 870.0 970.0 881.5 918.0 900.6 860.9 916.0 800.0 927.3 736.0 934.5 664.0 938.0Z" fill="#e4ff1b"/>
<path d="M680.0 936.0 580.0 936.6 500.0 932.8 462.0 929.1 426.0 924.0 392.0 917.9 358.0 910.1 326.0 901.2 294.0 890.4 264.0 878.5 237.2 866.0 211.2 852.0 185.6 836.0 162.0 818.9 140.0 800.3 140.0 256.7 158.0 241.3 178.4 226.0 200.0 211.7 223.8 198.0 247.5 186.0 274.0 174.4 328.0 155.3 388.0 140.0 450.0 129.5 518.0 122.9 592.0 120.3 684.0 121.2 750.0 125.4 812.0 133.3 870.0 144.9 924.0 160.2 975.7 180.0 1020.0 202.1 1043.2 216.0 1063.6 230.0 1082.0 244.3 1100.0 260.0 1100.0 797.0 1082.0 812.8 1062.3 828.0 1021.7 854.0 976.0 876.9 926.0 896.2 870.7 912.0 810.7 924.0 748.0 931.8 680.0 936.0Z" fill="#e7ff18"/>
<path d="M690.0 934.0 590.0 935.1 508.0 931.8 470.0 928.3 434.0 923.6 400.0 917.7 364.0 909.8 330.0 900.6 298.0 890.0 267.5 878.0 238.0 864.3 211.5 850.0 186.0 833.9 161.6 816.0 140.0 797.5 140.0 259.5 173.4 232.0 196.8 216.0 220.0 202.2 243.5 190.0 269.9 178.0 296.0 167.8 325.0 158.0 354.0 149.7 386.0 142.1 448.0 131.4 516.0 124.6 588.0 121.9 680.0 122.6 748.0 126.8 810.0 134.6 868.0 146.1 924.0 162.0 975.7 182.0 1022.0 205.4 1063.0 232.0 1082.0 246.9 1100.0 262.9 1100.0 794.2 1082.2 810.0 1064.4 824.0 1024.0 850.5 978.1 874.0 928.0 893.6 872.0 909.9 816.0 921.4 754.0 929.6 690.0 934.0Z" fill="#ebff14"/>
<path d="M698.0 932.0 652.0 933.4 594.0 933.5 510.0 930.3 472.0 926.9 434.5 922.0 399.9 916.0 364.0 908.1 330.0 898.7 297.7 888.0 267.5 876.0 237.5 862.0 208.6 846.0 184.0 830.1 160.0 812.1 140.0 794.7 140.0 262.4 168.8 238.0 191.2 222.0 213.7 208.0 236.0 195.8 262.0 183.4 289.8 172.0 318.0 162.1 346.0 153.7 378.0 145.7 441.5 134.0 510.0 126.7 582.0 123.6 674.0 124.1 744.0 128.1 808.1 136.0 868.4 148.0 924.0 163.9 975.7 184.0 1022.0 207.6 1044.0 221.2 1064.0 235.3 1082.5 250.0 1100.0 265.8 1100.0 791.2 1082.0 807.5 1064.0 821.8 1024.5 848.0 982.0 870.2 933.1 890.0 880.5 906.0 824.0 918.3 764.0 926.9 698.0 932.0Z" fill="#eeff11"/>
<path d="M704.0 930.1 658.0 931.7 602.0 932.0 556.0 931.1 514.0 928.9 474.0 925.4 436.0 920.5 400.0 914.3 366.0 906.7 332.0 897.5 298.0 886.1 267.6 874.0 238.0 860.1 210.0 844.6 184.5 828.0 160.7 810.0 140.0 791.7 140.0 265.3 169.6 240.0 191.8 224.0 214.2 210.0 239.9 196.0 265.4 184.0 292.0 173.1 320.0 163.3 350.0 154.4 380.0 147.0 442.0 135.6 512.0 128.2 584.0 125.3 676.0 125.8 746.0 130.0 809.8 138.0 869.2 150.0 924.5 166.0 975.5 186.0 1000.0 197.8 1022.2 210.0 1044.6 224.0 1064.2 238.0 1082.0 252.3 1100.0 268.8 1100.0 788.3 1065.6 818.0 1026.0 844.8 982.2 868.0 934.0 887.7 882.0 903.8 827.3 916.0 768.0 924.8 704.0 930.1Z" fill="#f1ff0e"/>
<path d="M656.0 930.0 562.0 929.6 486.0 924.9 448.0 920.5 414.0 915.1 380.0 908.2 348.0 900.2 316.0 890.5 287.1 880.0 258.8 868.0 230.6 854.0 206.4 840.0 182.4 824.0 160.0 806.7 140.0 788.7 140.0 268.3 168.0 243.9 201.7 220.0 225.2 206.0 248.3 194.0 274.0 182.4 300.0 172.1 354.0 155.2 414.0 141.9 476.0 133.1 544.0 128.1 634.0 126.8 710.0 129.0 772.0 134.4 832.0 143.7 885.3 156.0 936.0 172.0 983.9 192.0 1028.0 215.8 1066.0 242.0 1100.0 271.8 1100.0 785.2 1081.9 802.0 1062.1 818.0 1042.0 832.3 1020.0 846.0 994.2 860.0 970.0 871.4 944.2 882.0 916.0 891.9 857.4 908.0 796.0 919.4 730.0 926.7 656.0 930.0Z" fill="#f5ff0a"/>
<path d="M670.0 928.0 572.0 928.1 494.8 924.0 457.6 920.0 422.0 914.7 387.3 908.0 354.2 900.0 322.0 890.5 292.0 879.9 263.5 868.0 234.0 853.5 207.1 838.0 183.2 822.0 160.2 804.0 140.0 785.6 140.0 271.4 166.0 248.2 193.3 228.0 215.3 214.0 240.0 200.4 265.8 188.0 289.8 178.0 344.0 159.9 404.0 145.6 466.0 136.0 536.0 130.2 620.0 128.4 702.0 130.3 766.0 135.5 826.0 144.4 884.0 157.5 936.0 174.0 983.6 194.0 1027.7 218.0 1066.0 244.7 1084.0 259.8 1100.0 275.0 1100.0 782.1 1083.2 798.0 1063.9 814.0 1044.0 828.4 1022.0 842.5 998.0 855.8 974.0 867.5 921.9 888.0 866.5 904.0 806.0 916.1 741.7 924.0 670.0 928.0Z" fill="#f8ff07"/>
<path d="M678.0 926.0 576.0 926.5 496.0 922.3 458.0 918.3 422.0 912.9 386.7 906.0 354.0 898.0 320.5 888.0 290.0 877.0 259.5 864.0 232.0 850.1 206.0 834.9 182.0 818.4 160.0 801.0 140.0 782.5 140.0 274.6 162.4 254.0 188.4 234.0 210.0 219.7 233.7 206.0 258.0 193.8 285.0 182.0 312.0 171.9 342.0 162.4 401.2 148.0 464.2 138.0 532.0 132.2 610.0 130.2 698.0 131.8 764.0 137.1 824.8 146.0 880.0 158.4 934.0 175.3 983.1 196.0 1026.9 220.0 1066.0 247.5 1083.1 262.0 1100.0 278.2 1100.0 778.8 1084.0 794.3 1065.4 810.0 1046.0 824.5 1024.0 838.8 1001.0 852.0 978.0 863.5 927.6 884.0 872.0 900.7 812.0 913.3 748.0 921.6 678.0 926.0Z" fill="#fcff03"/>
<path d="M684.0 924.0 582.0 924.8 502.0 921.1 464.0 917.2 427.7 912.0 392.0 905.3 358.0 897.1 326.0 887.8 292.8 876.0 264.4 864.0 236.0 850.0 208.6 834.0 184.0 817.2 160.0 798.0 140.0 779.2 140.0 277.8 162.0 257.3 186.5 238.0 207.1 224.0 230.7 210.0 254.0 197.9 280.5 186.0 306.3 176.0 336.5 166.0 366.0 157.8 398.0 150.5 462.0 140.1 530.0 134.1 608.0 132.0 696.0 133.5 762.0 138.6 824.0 147.7 880.0 160.3 934.0 177.4 982.6 198.0 1026.1 222.0 1047.1 236.0 1065.6 250.0 1084.0 265.8 1100.0 281.6 1100.0 775.5 1083.1 792.0 1064.4 808.0 1045.8 822.0 1024.6 836.0 980.0 860.3 954.0 871.8 928.0 881.8 874.0 898.3 814.0 911.1 752.0 919.5 684.0 924.0Z" fill="#ffff00"/>
<path d="M688.0 922.1 586.0 923.1 504.0 919.4 466.0 915.6 428.0 910.2 394.0 903.8 360.0 895.7 326.9 886.0 294.0 874.3 264.9 862.0 236.0 847.6 209.5 832.0 183.4 814.0 161.2 796.0 140.0 775.8 140.0 281.2 162.0 260.3 184.8 242.0 208.0 226.0 230.0 212.8 254.4 200.0 281.0 188.0 306.6 178.0 336.6 168.0 396.0 152.9 460.0 142.2 528.0 136.0 606.0 133.8 696.0 135.3 762.0 140.5 824.0 149.6 880.0 162.3 934.0 179.5 982.0 200.0 1005.0 212.0 1028.0 225.7 1048.9 240.0 1066.9 254.0 1084.0 269.0 1100.0 285.0 1100.0 772.1 1084.0 788.0 1065.7 804.0 1047.5 818.0 1026.9 832.0 1006.0 844.5 982.0 857.0 932.0 878.2 878.0 895.3 820.0 908.2 756.0 917.2 688.0 922.1Z" fill="#fffc00"/>
<path d="M692.0 920.1 590.0 921.3 546.0 920.1 506.0 917.7 468.0 913.9 430.0 908.6 395.0 902.0 360.0 893.7 327.2 884.0 293.7 872.0 262.0 858.3 234.0 844.0 207.4 828.0 182.0 810.1 160.2 792.0 140.0 772.4 140.0 284.7 161.4 264.0 185.9 244.0 209.0 228.0 232.0 214.2 255.2 202.0 281.5 190.0 308.0 179.6 336.9 170.0 366.0 161.8 398.0 154.4 460.6 144.0 528.0 137.8 606.0 135.6 696.0 137.2 762.0 142.4 826.0 151.9 882.0 164.9 934.8 182.0 984.0 203.4 1027.4 228.0 1047.8 242.0 1066.0 256.2 1083.7 272.0 1100.0 288.5 1100.0 768.5 1084.0 784.8 1066.0 800.8 1046.5 816.0 1026.0 830.0 982.0 854.7 932.2 876.0 878.0 893.2 821.2 906.0 760.0 914.9 692.0 920.1Z" fill="#fff800"/>
<path d="M694.0 918.1 648.0 919.4 592.0 919.5 548.0 918.3 508.0 916.0 468.0 912.0 430.0 906.6 395.0 900.0 360.0 891.6 327.6 882.0 294.3 870.0 262.1 856.0 234.9 842.0 208.4 826.0 183.1 808.0 160.0 788.6 140.0 768.8 140.0 288.3 162.7 266.0 187.1 246.0 210.0 230.0 232.0 216.7 256.0 204.0 282.2 192.0 308.0 181.8 338.0 171.8 368.0 163.4 399.9 156.0 462.0 145.7 530.0 139.6 610.0 137.5 698.0 139.1 764.0 144.5 826.0 153.9 882.0 167.0 934.2 184.0 958.9 194.0 984.0 205.8 1026.4 230.0 1046.6 244.0 1066.0 259.3 1084.0 275.6 1100.0 292.2 1100.0 764.8 1083.4 782.0 1066.0 797.7 1048.0 812.0 1028.0 826.0 1005.0 840.0 982.5 852.0 934.0 873.1 882.0 890.1 822.0 903.9 760.0 913.0 694.0 918.1Z" fill="#fff500"/>
<path d="M696.0 916.1 650.0 917.5 592.0 917.6 548.0 916.4 507.5 914.0 467.4 910.0 430.0 904.6 395.2 898.0 360.0 889.5 328.0 879.9 295.0 868.0 264.0 854.5 235.9 840.0 209.6 824.0 184.0 805.7 160.8 786.0 140.0 765.1 140.0 291.9 161.9 270.0 186.0 249.8 208.0 234.1 230.7 220.0 256.0 206.4 282.0 194.4 308.2 184.0 337.7 174.0 366.0 166.0 398.0 158.4 460.0 148.0 530.0 141.5 610.0 139.4 698.0 141.1 764.0 146.4 826.0 155.9 884.0 169.7 936.0 186.9 984.0 208.2 1006.0 220.2 1028.3 234.0 1048.0 248.0 1067.8 264.0 1085.0 280.0 1100.0 296.0 1100.0 761.1 1084.0 778.0 1066.6 794.0 1048.0 809.1 1028.0 823.2 985.6 848.0 960.4 860.0 936.0 870.1 881.8 888.0 824.0 901.5 762.0 910.8 696.0 916.1Z" fill="#fff100"/>
<path d="M698.0 914.0 652.0 915.5 594.0 915.6 550.0 914.6 508.0 912.1 468.0 908.1 430.0 902.6 395.5 896.0 360.0 887.3 324.0 876.4 292.0 864.4 262.0 851.1 233.5 836.0 207.8 820.0 183.2 802.0 160.1 782.0 140.0 761.3 140.0 295.8 162.0 273.3 187.1 252.0 209.4 236.0 231.9 222.0 257.9 208.0 283.9 196.0 310.0 185.6 338.4 176.0 368.0 167.6 400.0 160.1 462.0 149.7 532.0 143.4 612.0 141.3 700.0 143.1 764.0 148.4 826.1 158.0 884.6 172.0 937.9 190.0 962.0 200.2 986.4 212.0 1008.0 224.0 1030.0 238.0 1049.3 252.0 1068.0 267.5 1085.4 284.0 1100.0 299.9 1100.0 757.1 1084.4 774.0 1067.5 790.0 1048.0 806.0 1028.6 820.0 1006.3 834.0 984.5 846.0 936.0 867.8 882.0 885.8 826.0 899.0 766.0 908.4 698.0 914.0Z" fill="#ffee00"/>
<path d="M698.0 912.0 652.0 913.5 594.0 913.7 548.0 912.5 507.1 910.0 467.6 906.0 428.0 900.2 392.0 893.1 358.0 884.6 323.8 874.0 291.9 862.0 260.9 848.0 232.0 832.4 206.2 816.0 182.0 797.8 159.7 778.0 140.0 757.3 140.0 299.7 162.8 276.0 188.6 254.0 210.7 238.0 233.1 224.0 258.0 210.5 284.0 198.4 310.0 187.9 339.2 178.0 368.0 169.7 400.0 162.2 462.0 151.7 532.0 145.3 614.0 143.3 702.0 145.2 768.0 150.9 828.0 160.5 884.0 174.0 938.0 192.4 985.2 214.0 1006.7 226.0 1028.6 240.0 1048.0 254.1 1067.0 270.0 1084.0 286.3 1100.0 303.9 1100.0 753.1 1084.7 770.0 1068.2 786.0 1049.2 802.0 1030.2 816.0 1008.4 830.0 987.2 842.0 962.9 854.0 938.0 864.6 886.0 882.4 828.0 896.6 766.0 906.3 698.0 912.0Z" fill="#ffeb00"/>
<path d="M698.0 910.0 650.0 911.6 592.0 911.6 548.0 910.5 506.0 907.9 466.0 903.7 427.6 898.0 390.0 890.5 356.8 882.0 324.0 871.7 292.0 859.6 262.0 845.9 232.6 830.0 206.0 812.8 181.4 794.0 159.3 774.0 140.0 753.2 140.0 303.9 164.5 278.0 192.7 254.0 215.1 238.0 237.9 224.0 260.2 212.0 286.0 200.0 312.0 189.6 342.0 179.4 372.0 170.9 404.0 163.5 468.0 153.1 538.0 147.0 628.0 145.3 708.0 147.6 774.0 153.8 834.0 163.9 889.8 178.0 940.9 196.0 987.7 218.0 1008.7 230.0 1030.1 244.0 1048.8 258.0 1067.6 274.0 1084.0 290.1 1100.0 308.2 1100.0 748.9 1084.9 766.0 1068.0 782.7 1050.1 798.0 1030.0 813.1 1008.0 827.5 986.0 840.0 938.5 862.0 886.0 880.2 828.0 894.4 766.0 904.3 698.0 910.0Z" fill="#ffe700"/>
<path d="M696.0 908.0 650.0 909.5 592.0 909.6 546.0 908.3 506.0 905.8 468.0 901.9 428.5 896.0 392.0 888.7 357.8 880.0 322.0 868.6 290.0 856.2 259.5 842.0 232.0 826.8 206.0 809.7 180.7 790.0 159.1 770.0 140.0 748.9 140.0 308.1 166.0 280.3 194.3 256.0 216.6 240.0 239.3 226.0 262.0 213.8 288.0 201.7 316.0 190.5 344.0 181.1 376.0 172.2 406.0 165.3 470.0 154.9 540.0 149.0 632.0 147.4 710.0 149.8 774.8 156.0 834.0 166.1 890.0 180.4 918.0 189.7 944.0 199.8 990.0 222.0 1010.5 234.0 1032.0 248.5 1050.0 262.3 1068.0 278.0 1084.0 294.0 1100.0 312.6 1100.0 744.5 1085.0 762.0 1068.0 779.1 1050.0 794.8 1030.0 810.0 1008.9 824.0 986.0 837.2 962.0 849.3 937.3 860.0 885.5 878.0 826.0 892.6 764.0 902.4 696.0 908.0Z" fill="#ffe400"/>
<path d="M694.0 906.0 646.0 907.4 588.0 907.4 544.0 906.1 504.0 903.5 464.0 899.2 426.0 893.3 390.0 886.0 354.0 876.5 321.5 866.0 288.0 852.8 257.1 838.0 230.0 822.6 204.0 805.1 180.1 786.0 159.0 766.0 140.0 744.5 140.0 312.6 168.0 282.1 198.6 256.0 221.3 240.0 244.0 226.2 267.0 214.0 293.3 202.0 320.0 191.6 348.9 182.0 378.0 174.0 410.0 166.7 474.0 156.6 544.0 150.9 636.0 149.5 714.0 152.2 778.0 158.6 838.0 169.2 894.0 184.0 944.0 202.4 969.4 214.0 992.0 225.9 1012.0 238.0 1032.5 252.0 1050.4 266.0 1068.3 282.0 1085.7 300.0 1100.0 317.1 1100.0 739.9 1084.9 758.0 1068.0 775.3 1049.2 792.0 1030.0 806.8 1008.0 821.6 986.0 834.4 962.0 846.6 936.0 858.0 884.0 876.1 854.7 884.0 824.0 890.8 762.0 900.5 694.0 906.0Z" fill="#ffe000"/>
<path d="M690.0 904.1 642.0 905.3 584.0 905.2 540.0 903.7 500.0 900.9 460.0 896.4 422.0 890.3 386.0 882.7 353.5 874.0 320.0 862.9 287.7 850.0 258.7 836.0 230.0 819.5 204.3 802.0 180.0 782.3 159.1 762.0 140.0 739.8 140.0 317.2 168.0 286.0 185.5 270.0 203.0 256.0 226.0 240.0 249.5 226.0 272.6 214.0 299.6 202.0 326.0 191.9 356.0 182.3 415.2 168.0 480.0 158.1 548.0 152.9 644.0 151.7 720.0 154.8 784.0 161.7 842.0 172.4 898.0 187.8 948.0 206.7 971.8 218.0 994.0 230.0 1016.0 243.7 1036.0 258.0 1054.0 272.7 1070.5 288.0 1086.0 304.6 1100.0 321.9 1100.0 735.1 1086.0 752.4 1069.5 770.0 1052.0 786.1 1032.0 802.1 1012.0 816.0 988.8 830.0 964.0 842.9 938.0 854.6 912.0 864.5 882.9 874.0 824.0 888.5 760.0 898.5 690.0 904.1Z" fill="#ffdd00"/>
<path d="M686.0 902.0 638.0 903.2 580.0 902.9 536.0 901.3 496.0 898.3 458.0 893.9 420.0 887.6 384.0 879.8 348.5 870.0 314.0 858.1 284.0 845.6 252.9 830.0 226.2 814.0 202.0 796.8 179.5 778.0 158.0 756.6 140.0 735.0 140.0 322.1 154.0 304.9 170.0 288.0 187.4 272.0 207.6 256.0 228.0 241.9 251.2 228.0 274.3 216.0 301.2 204.0 328.0 193.8 358.0 184.2 388.0 176.3 418.0 169.8 483.4 160.0 552.0 155.0 646.0 153.9 722.0 157.1 784.3 164.0 844.0 175.2 898.0 190.3 925.2 200.0 949.2 210.0 994.0 233.0 1014.6 246.0 1034.1 260.0 1052.0 274.6 1068.4 290.0 1084.0 306.8 1098.0 324.2 1100.0 326.9 1100.0 730.1 1084.2 750.0 1068.0 767.5 1050.2 784.0 1030.2 800.0 1010.0 814.1 987.1 828.0 964.0 840.1 937.7 852.0 911.9 862.0 882.0 871.8 852.0 879.9 822.0 886.5 758.0 896.5 686.0 902.0Z" fill="#ffda00"/>
<path d="M680.0 900.0 576.0 900.6 534.0 898.9 494.0 895.8 454.0 891.0 416.0 884.5 378.7 876.0 346.0 866.6 314.0 855.4 282.0 841.8 252.0 826.4 225.1 810.0 200.4 792.0 178.0 772.7 157.9 752.0 140.0 729.9 140.0 327.2 155.3 308.0 172.1 290.0 191.8 272.0 212.3 256.0 232.9 242.0 256.7 228.0 280.3 216.0 307.9 204.0 335.0 194.0 364.0 185.0 392.0 177.8 424.0 171.0 488.0 161.8 558.0 157.0 652.0 156.3 728.0 159.9 790.0 167.2 848.0 178.6 901.4 194.0 928.0 203.8 951.8 214.0 996.0 237.3 1015.6 250.0 1034.7 264.0 1052.0 278.5 1068.2 294.0 1082.8 310.0 1097.0 328.0 1100.0 332.2 1100.0 724.8 1096.3 730.0 1080.3 750.0 1064.0 767.3 1045.8 784.0 1026.0 799.7 1005.2 814.0 981.6 828.0 958.0 840.1 931.1 852.0 904.4 862.0 876.0 871.0 848.0 878.4 816.0 885.3 752.0 894.8 680.0 900.0Z" fill="#ffd600"/>
<path d="M670.0 898.0 568.0 898.1 526.0 896.1 486.0 892.7 448.0 887.7 410.0 880.8 374.0 872.2 342.0 862.7 310.0 851.1 280.0 838.0 250.0 822.2 224.2 806.0 200.0 788.0 177.4 768.0 158.0 747.5 140.0 724.5 140.0 332.5 157.6 310.0 176.0 290.4 196.4 272.0 220.0 254.0 242.0 239.6 266.0 226.1 291.0 214.0 314.9 204.0 343.0 194.0 370.0 185.9 401.8 178.0 432.0 172.0 496.0 163.4 566.0 159.0 660.0 158.8 736.0 162.9 796.0 170.6 852.0 182.1 905.2 198.0 954.1 218.0 977.7 230.0 998.0 241.8 1016.5 254.0 1036.0 268.7 1053.7 284.0 1069.8 300.0 1084.0 316.2 1097.4 334.0 1100.0 337.8 1100.0 719.3 1090.9 732.0 1076.0 750.2 1059.0 768.0 1041.3 784.0 1020.7 800.0 1000.0 814.0 976.0 828.0 952.0 840.0 924.1 852.0 896.6 862.0 870.0 870.2 839.2 878.0 808.0 884.4 742.0 893.5 670.0 898.0Z" fill="#ffd300"/>
<path d="M656.0 896.0 558.0 895.4 516.0 893.0 478.0 889.3 440.4 884.0 404.0 877.0 368.1 868.0 336.1 858.0 304.5 846.0 274.0 832.0 246.0 816.6 220.7 800.0 197.4 782.0 175.7 762.0 156.0 740.2 140.0 718.8 140.0 338.2 158.3 314.0 180.8 290.0 206.0 268.0 233.9 248.0 257.2 234.0 280.0 222.1 304.0 211.3 330.0 201.2 357.9 192.0 387.2 184.0 446.8 172.0 514.0 164.2 586.0 160.9 678.0 161.7 752.0 167.0 812.0 175.9 866.0 188.4 918.0 205.5 964.3 226.0 1005.5 250.0 1025.2 264.0 1042.5 278.0 1059.7 294.0 1074.0 309.3 1087.6 326.0 1100.0 343.6 1100.0 713.4 1082.2 738.0 1066.5 756.0 1050.0 772.3 1031.7 788.0 1010.0 804.0 988.0 818.0 962.4 832.0 936.6 844.0 911.5 854.0 884.0 863.3 856.0 871.3 796.0 884.0 730.0 892.2 656.0 896.0Z" fill="#ffcf00"/>
<path d="M698.0 892.0 652.0 893.7 594.0 893.8 550.0 892.6 508.9 890.0 470.0 885.9 432.0 880.0 396.0 872.5 364.0 864.1 332.7 854.0 302.0 842.0 272.4 828.0 244.0 812.0 218.0 794.4 195.1 776.0 174.2 756.0 155.2 734.0 140.0 712.8 140.0 344.2 154.4 324.0 171.4 304.0 189.6 286.0 210.0 268.7 230.2 254.0 252.4 240.0 274.4 228.0 300.0 215.9 326.0 205.5 353.8 196.0 382.0 188.0 414.0 180.5 476.0 170.4 542.0 164.8 632.0 163.2 708.0 165.6 772.0 171.9 829.3 182.0 882.6 196.0 931.9 214.0 977.0 236.0 997.0 248.0 1017.5 262.0 1036.0 276.5 1053.2 292.0 1068.6 308.0 1082.0 324.0 1100.0 349.9 1100.0 707.1 1094.0 716.5 1079.7 736.0 1064.1 754.0 1047.9 770.0 1029.3 786.0 1008.0 801.8 986.0 815.8 964.0 828.0 938.9 840.0 914.0 850.2 885.9 860.0 858.0 868.1 828.0 875.3 765.3 886.0 698.0 892.0Z" fill="#ffcc00"/>
<path d="M688.0 890.0 642.0 891.3 586.0 891.2 544.0 889.8 504.0 887.0 464.0 882.5 428.0 876.6 394.0 869.4 359.6 860.0 326.0 848.6 295.5 836.0 267.2 822.0 240.2 806.0 214.7 788.0 193.2 770.0 173.1 750.0 154.8 728.0 140.0 706.5 140.0 350.6 155.6 328.0 174.0 306.0 194.3 286.0 218.6 266.0 238.7 252.0 261.9 238.0 284.9 226.0 310.0 214.7 336.0 204.8 363.0 196.0 392.7 188.0 422.0 181.6 484.0 172.0 550.0 166.9 642.0 165.7 716.0 168.7 778.0 175.4 834.0 185.7 886.3 200.0 934.1 218.0 978.1 240.0 998.0 252.2 1018.0 266.2 1036.0 280.6 1052.7 296.0 1067.8 312.0 1082.0 329.5 1100.0 356.6 1100.0 700.5 1087.5 720.0 1073.7 738.0 1057.7 756.0 1041.0 772.0 1021.8 788.0 1002.0 802.2 979.9 816.0 957.7 828.0 931.9 840.0 906.0 850.2 878.0 859.6 821.7 874.0 758.0 884.3 688.0 890.0Z" fill="#ffc900"/>
<path d="M674.0 888.0 574.0 888.4 532.0 886.6 494.0 883.5 454.0 878.4 418.2 872.0 383.8 864.0 352.0 854.7 320.0 843.3 289.5 830.0 262.0 815.7 236.0 799.5 212.2 782.0 190.0 762.5 170.5 742.0 153.2 720.0 140.0 699.6 140.0 357.4 158.0 330.5 178.6 306.0 202.0 283.5 229.5 262.0 250.8 248.0 271.8 236.0 296.0 224.0 320.0 213.8 346.9 204.0 374.0 195.7 404.0 188.1 434.0 182.0 496.0 173.4 564.0 168.9 656.0 168.5 730.0 172.4 790.8 180.0 846.0 191.4 896.0 206.2 944.0 225.7 986.0 248.2 1006.0 261.4 1024.0 274.9 1040.0 288.5 1056.0 304.1 1070.1 320.0 1083.9 338.0 1100.0 363.7 1100.0 693.3 1080.0 724.4 1065.9 742.0 1049.0 760.0 1031.5 776.0 1011.1 792.0 990.5 806.0 968.0 819.2 944.0 831.4 919.6 842.0 892.6 852.0 867.1 860.0 836.4 868.0 808.0 874.0 744.0 883.3 674.0 888.0Z" fill="#ffc500"/>
<path d="M650.0 886.0 554.0 885.1 512.0 882.5 474.0 878.5 436.0 872.6 402.0 865.6 368.0 856.7 336.0 846.2 305.4 834.0 276.4 820.0 248.6 804.0 225.3 788.0 203.1 770.0 182.4 750.0 164.0 728.6 148.1 706.0 140.0 692.3 140.0 364.8 160.0 333.7 185.3 304.0 213.8 278.0 247.1 254.0 268.0 241.6 292.0 229.2 317.4 218.0 342.0 208.7 369.2 200.0 398.0 192.4 456.0 181.1 520.0 173.9 592.0 171.0 680.0 171.9 752.0 177.3 808.9 186.0 862.0 198.5 914.0 216.0 958.0 236.0 998.0 259.7 1032.1 286.0 1048.0 300.9 1062.1 316.0 1076.0 333.2 1087.6 350.0 1100.0 371.5 1100.0 685.5 1085.7 710.0 1068.1 734.0 1052.1 752.0 1035.6 768.0 1016.4 784.0 997.0 798.0 974.5 812.0 952.3 824.0 926.3 836.0 900.9 846.0 874.0 855.0 846.0 862.8 786.0 875.1 722.0 882.7 650.0 886.0Z" fill="#ffc200"/>
<path d="M690.0 882.0 646.0 883.4 590.0 883.4 548.0 882.1 510.0 879.6 472.0 875.4 436.0 869.8 400.0 862.2 368.0 853.6 336.0 843.0 306.0 830.9 278.0 817.3 251.6 802.0 226.0 784.3 204.0 766.2 183.5 746.0 166.0 725.2 152.0 705.1 140.0 684.3 140.0 372.8 156.0 345.8 175.6 320.0 198.4 296.0 224.3 274.0 244.0 259.9 266.0 246.4 289.2 234.0 312.0 223.5 338.0 213.3 366.0 204.0 422.0 190.0 484.0 180.1 548.0 174.9 636.0 173.6 708.0 176.1 768.0 182.1 824.1 192.0 876.9 206.0 925.5 224.0 969.8 246.0 1008.0 270.9 1026.0 285.2 1042.2 300.0 1057.4 316.0 1070.5 332.0 1086.0 354.4 1100.0 380.0 1100.0 677.1 1090.0 696.0 1078.5 714.0 1065.0 732.0 1050.0 749.1 1034.0 764.7 1016.0 780.0 997.0 794.0 975.0 808.0 953.2 820.0 927.9 832.0 903.1 842.0 876.0 851.3 819.6 866.0 758.0 876.2 690.0 882.0Z" fill="#ffbe00"/>
<path d="M670.0 880.0 572.0 880.2 532.0 878.4 496.0 875.4 458.0 870.5 422.0 864.1 388.0 856.1 358.0 847.4 326.3 836.0 298.6 824.0 271.5 810.0 245.5 794.0 222.0 776.8 200.4 758.0 181.3 738.0 163.9 716.0 150.9 696.0 140.0 675.5 140.0 381.5 157.8 350.0 180.4 320.0 208.0 292.0 238.3 268.0 259.6 254.0 280.7 242.0 305.2 230.0 328.9 220.0 356.0 210.3 382.0 202.5 438.0 189.8 498.0 181.4 564.0 177.1 654.0 176.6 726.0 180.3 784.0 187.4 838.0 198.2 890.0 213.6 935.6 232.0 976.8 254.0 996.0 266.5 1014.1 280.0 1030.6 294.0 1046.9 310.0 1061.0 326.0 1073.2 342.0 1088.0 365.4 1100.0 389.4 1100.0 667.7 1085.5 696.0 1068.1 722.0 1054.0 739.3 1038.0 756.1 1020.0 772.2 1000.0 787.7 978.5 802.0 957.7 814.0 934.0 825.8 910.1 836.0 882.6 846.0 856.3 854.0 800.0 866.9 738.0 875.6 670.0 880.0Z" fill="#ffbb00"/>
<path d="M696.0 876.0 652.0 877.6 598.0 877.8 556.0 876.8 516.0 874.3 478.0 870.4 444.0 865.2 408.2 858.0 377.3 850.0 346.0 840.0 315.4 828.0 286.0 814.0 261.2 800.0 237.3 784.0 214.7 766.0 194.0 746.3 176.0 725.6 156.0 696.8 140.0 665.8 140.0 391.3 156.2 360.0 176.0 331.4 200.0 304.6 228.0 280.1 247.3 266.0 269.6 252.0 291.9 240.0 314.0 229.6 338.0 220.0 366.0 210.4 422.0 196.0 482.0 186.2 544.0 180.8 628.0 179.2 702.0 181.4 762.0 187.1 818.0 196.8 869.1 210.0 918.0 227.8 960.0 248.2 980.0 260.0 1000.0 273.7 1018.0 287.9 1033.7 302.0 1060.9 332.0 1082.6 364.0 1092.1 382.0 1100.0 399.9 1100.0 657.1 1088.0 683.3 1073.3 708.0 1060.1 726.0 1046.0 742.5 1030.0 758.5 1012.0 774.1 993.5 788.0 971.9 802.0 950.0 814.3 925.6 826.0 901.3 836.0 874.0 845.5 819.3 860.0 761.2 870.0 696.0 876.0Z" fill="#ffb800"/>
<path d="M674.0 874.0 576.0 874.4 536.0 872.7 500.0 869.8 464.0 865.4 430.0 859.5 396.8 852.0 364.0 842.6 333.9 832.0 305.8 820.0 278.4 806.0 252.3 790.0 230.0 773.8 208.0 754.8 189.8 736.0 172.2 714.0 154.0 685.0 140.0 654.7 140.0 402.3 147.9 384.0 157.4 366.0 168.0 349.1 180.6 332.0 194.0 316.4 208.3 302.0 224.1 288.0 242.2 274.0 263.2 260.0 284.0 248.0 308.0 236.0 331.5 226.0 382.0 209.0 438.0 196.0 498.0 187.4 564.0 183.0 652.0 182.4 722.0 185.9 780.0 192.8 834.0 203.6 883.2 218.0 928.3 236.0 969.9 258.0 1006.0 282.9 1022.0 296.3 1038.0 311.8 1052.0 327.4 1064.0 342.8 1074.2 358.0 1084.5 376.0 1093.0 394.0 1100.0 412.1 1100.0 645.0 1092.6 664.0 1084.0 682.0 1074.0 699.4 1062.7 716.0 1048.3 734.0 1033.3 750.0 1016.0 766.0 998.0 780.2 978.0 794.0 954.4 808.0 930.6 820.0 908.0 829.8 882.0 839.4 856.0 847.6 802.0 860.4 740.0 869.5 674.0 874.0Z" fill="#ffb400"/>
<path d="M694.0 870.0 650.0 871.6 596.0 871.7 554.0 870.6 516.0 868.2 478.0 864.1 444.0 858.9 410.5 852.0 379.9 844.0 349.0 834.0 318.8 822.0 290.0 808.2 265.3 794.0 241.7 778.0 220.0 760.4 200.8 742.0 183.5 722.0 170.0 703.4 158.4 684.0 148.0 662.8 140.0 642.0 140.0 415.1 147.3 396.0 155.7 378.0 165.9 360.0 176.7 344.0 202.0 313.8 218.0 298.4 234.0 285.0 254.0 270.4 273.6 258.0 295.5 246.0 320.0 234.5 346.0 224.1 370.1 216.0 424.2 202.0 484.0 192.1 546.0 186.8 628.0 185.2 700.0 187.4 758.0 192.9 812.2 202.0 864.0 215.3 910.5 232.0 952.3 252.0 972.6 264.0 992.0 277.1 1010.0 291.1 1026.0 305.4 1040.2 320.0 1053.7 336.0 1069.2 358.0 1081.7 380.0 1092.0 403.0 1100.0 426.6 1100.0 630.4 1093.5 650.0 1085.1 670.0 1075.8 688.0 1064.6 706.0 1052.0 723.2 1037.5 740.0 1021.3 756.0 1004.0 770.8 986.0 784.2 964.6 798.0 942.9 810.0 920.0 821.0 896.0 830.8 870.0 839.9 817.0 854.0 759.4 864.0 694.0 870.0Z" fill="#ffb100"/>
<path d="M666.0 868.0 572.0 868.1 534.0 866.3 498.0 863.2 462.0 858.6 428.0 852.4 396.0 844.9 365.7 836.0 334.0 824.5 306.0 812.1 279.3 798.0 256.0 783.3 232.8 766.0 212.6 748.0 193.9 728.0 178.0 707.4 166.0 688.6 156.0 669.5 146.9 648.0 140.0 626.4 140.0 430.6 147.3 408.0 156.7 386.0 168.6 364.0 182.0 344.0 196.5 326.0 213.7 308.0 232.0 291.7 252.7 276.0 274.0 262.2 294.0 251.0 316.5 240.0 340.4 230.0 392.0 213.2 448.0 200.8 508.0 192.8 572.0 189.0 658.0 188.8 726.0 192.6 783.8 200.0 834.0 210.5 884.0 225.6 928.0 243.8 968.0 265.6 1002.3 290.0 1032.6 318.0 1046.6 334.0 1058.7 350.0 1072.4 372.0 1084.0 395.4 1093.2 420.0 1100.0 445.1 1100.0 611.9 1092.3 640.0 1082.0 666.1 1068.4 692.0 1052.2 716.0 1039.0 732.0 1023.8 748.0 1006.0 764.0 988.0 778.0 967.1 792.0 946.3 804.0 922.2 816.0 898.6 826.0 872.0 835.6 846.0 843.4 790.0 856.0 730.9 864.0 666.0 868.0Z" fill="#ffad00"/>
<path d="M684.0 864.0 642.0 865.2 588.0 865.1 550.0 863.9 512.0 861.2 478.0 857.4 443.8 852.0 410.0 844.8 378.0 836.1 348.0 826.0 318.9 814.0 292.0 800.6 267.3 786.0 244.5 770.0 223.0 752.0 205.0 734.0 188.3 714.0 172.0 689.8 158.0 662.7 147.8 636.0 140.0 606.0 140.0 451.1 146.0 426.8 154.0 403.8 164.0 381.8 176.5 360.0 190.7 340.0 207.8 320.0 226.4 302.0 245.9 286.0 265.8 272.0 285.5 260.0 308.0 248.2 330.5 238.0 356.0 228.2 381.1 220.0 434.0 206.9 490.7 198.0 554.0 193.0 638.0 191.8 706.0 194.3 762.0 200.1 816.9 210.0 866.0 223.3 910.6 240.0 950.9 260.0 988.0 284.1 1005.4 298.0 1020.7 312.0 1035.8 328.0 1048.0 343.0 1067.1 372.0 1082.5 404.0 1093.4 438.0 1100.0 473.1 1100.0 584.0 1096.4 606.0 1089.9 632.0 1080.0 659.1 1068.0 683.5 1053.9 706.0 1040.1 724.0 1025.7 740.0 1008.9 756.0 992.0 769.9 972.2 784.0 952.7 796.0 930.2 808.0 908.4 818.0 882.9 828.0 858.8 836.0 804.0 849.8 746.0 859.0 684.0 864.0Z" fill="#ffaa00"/>
<path d="M694.0 860.0 652.0 861.6 600.0 861.8 560.0 860.9 522.0 858.6 486.0 854.9 452.8 850.0 420.0 843.4 388.0 835.2 358.0 825.6 328.5 814.0 302.0 801.4 276.0 786.6 254.0 771.8 231.8 754.0 213.1 736.0 196.0 716.4 180.0 693.7 165.8 668.0 154.3 640.0 146.3 612.0 140.0 571.2 140.0 485.8 140.8 478.0 145.3 450.0 152.0 424.0 160.8 400.0 172.5 376.0 186.2 354.0 203.1 332.0 222.1 312.0 244.0 292.9 264.0 278.2 283.3 266.0 305.2 254.0 326.3 244.0 374.2 226.0 428.0 211.8 486.0 202.1 546.0 196.8 624.0 195.2 696.0 197.1 752.0 202.3 806.0 211.3 855.7 224.0 900.7 240.0 942.6 260.0 980.0 283.5 1012.2 310.0 1026.1 324.0 1039.9 340.0 1053.0 358.0 1064.0 376.2 1073.9 396.0 1082.0 416.7 1088.4 438.0 1093.0 460.0 1096.0 482.0 1097.7 508.0 1098.0 540.0 1096.8 566.0 1094.2 590.0 1089.6 614.0 1082.8 638.0 1074.3 660.0 1064.5 680.0 1052.3 700.0 1039.1 718.0 1025.2 734.0 1009.0 750.0 992.6 764.0 974.0 777.8 954.9 790.0 934.0 801.6 912.4 812.0 865.4 830.0 813.9 844.0 757.6 854.0 694.0 860.0Z" fill="#ffa700"/>
<path d="M652.0 858.0 564.0 857.5 528.0 855.5 492.0 852.0 458.0 847.1 424.0 840.5 392.0 832.4 364.0 823.5 334.1 812.0 308.4 800.0 283.1 786.0 259.0 770.0 238.8 754.0 219.6 736.0 202.0 716.2 187.3 696.0 173.3 672.0 161.9 646.0 153.1 618.0 147.4 590.0 144.1 556.0 143.6 514.0 145.5 482.0 150.1 452.0 156.7 426.0 166.0 400.7 178.0 376.3 192.0 354.1 208.0 333.6 226.7 314.0 248.0 295.4 272.1 278.0 292.0 265.8 314.0 254.2 358.0 235.6 409.5 220.0 464.0 208.9 522.0 202.0 586.0 199.0 668.0 199.4 735.1 204.0 790.0 212.0 838.0 222.9 884.8 238.0 926.0 256.0 964.3 278.0 998.0 303.4 1026.0 330.9 1038.4 346.0 1049.7 362.0 1061.5 382.0 1071.8 404.0 1079.7 426.0 1085.5 448.0 1089.7 472.0 1092.0 495.8 1092.4 554.0 1090.5 578.0 1087.3 600.0 1082.3 622.0 1076.0 642.0 1067.9 662.0 1058.0 681.4 1046.4 700.0 1034.5 716.0 1020.7 732.0 1004.4 748.0 987.9 762.0 968.8 776.0 949.9 788.0 928.0 800.0 906.0 810.4 882.2 820.0 831.0 836.0 776.0 847.5 718.0 854.7 652.0 858.0Z" fill="#ffa300"/>
<path d="M662.0 854.0 572.0 854.0 534.0 852.1 500.0 849.1 464.0 844.2 432.0 838.2 400.0 830.4 372.2 822.0 345.1 812.0 318.1 800.0 292.0 786.1 269.8 772.0 248.5 756.0 228.4 738.0 211.6 720.0 196.0 699.7 181.4 676.0 169.9 652.0 160.2 624.0 153.9 596.0 150.0 564.0 148.9 528.0 150.1 492.0 154.0 460.2 160.0 434.0 168.0 409.8 178.7 386.0 192.0 363.2 207.5 342.0 225.4 322.0 246.0 303.1 268.4 286.0 286.9 274.0 308.2 262.0 352.8 242.0 402.2 226.0 456.0 214.2 512.0 206.7 574.0 203.0 656.0 202.8 722.0 206.5 776.0 213.4 826.6 224.0 872.8 238.0 916.0 255.9 954.0 276.8 988.0 301.1 1016.7 328.0 1040.9 358.0 1053.4 378.0 1063.4 398.0 1071.4 418.0 1078.0 440.0 1082.7 462.0 1085.8 486.0 1087.3 512.0 1087.4 542.0 1086.1 568.0 1083.5 590.0 1079.3 612.0 1073.8 632.0 1066.5 652.0 1057.2 672.0 1046.0 691.3 1034.0 708.5 1021.3 724.0 1005.9 740.0 990.0 754.3 972.0 768.2 951.2 782.0 930.2 794.0 886.3 814.0 838.0 830.0 784.0 842.2 726.0 850.2 662.0 854.0Z" fill="#ffa000"/>
<path d="M666.0 850.0 576.0 850.2 506.0 845.7 474.0 841.7 441.4 836.0 410.0 828.8 379.8 820.0 351.9 810.0 324.3 798.0 298.0 784.2 275.3 770.0 253.8 754.0 234.0 736.4 216.8 718.0 202.0 699.0 187.6 676.0 175.9 652.0 166.6 626.0 159.9 598.0 156.0 568.0 154.5 534.0 155.4 496.0 159.1 464.0 164.7 438.0 172.4 414.0 182.8 390.0 196.0 366.9 211.0 346.0 228.7 326.0 248.0 307.9 271.1 290.0 289.3 278.0 310.4 266.0 354.5 246.0 403.4 230.0 456.0 218.3 512.0 210.7 572.0 207.0 654.0 206.7 718.0 210.1 772.0 216.9 822.0 227.1 868.0 240.9 909.9 258.0 947.1 278.0 981.3 302.0 1010.0 328.4 1034.4 358.0 1046.0 376.1 1056.5 396.0 1065.5 418.0 1072.0 439.0 1076.6 460.0 1080.0 484.0 1081.6 508.0 1081.8 538.0 1080.8 564.0 1078.4 586.0 1074.4 608.0 1068.5 630.0 1061.3 650.0 1052.1 670.0 1041.7 688.0 1030.0 705.1 1016.1 722.0 1002.0 736.8 985.0 752.0 968.0 765.1 948.8 778.0 928.0 790.0 884.5 810.0 836.7 826.0 784.6 838.0 728.0 846.0 666.0 850.0Z" fill="#ff9c00"/>
<path d="M662.0 846.0 574.0 846.0 504.0 841.3 472.0 837.1 440.0 831.3 409.0 824.0 380.0 815.4 354.0 805.9 326.0 793.6 300.4 780.0 278.4 766.0 257.1 750.0 238.0 732.8 220.5 714.0 206.0 695.0 191.9 672.0 180.0 646.6 171.6 622.0 165.2 594.0 161.4 562.0 160.4 526.0 161.6 492.0 165.4 462.0 171.3 436.0 179.4 412.0 189.3 390.0 202.0 368.0 216.5 348.0 234.2 328.0 254.0 309.6 277.0 292.0 295.5 280.0 316.0 268.5 358.0 249.6 406.0 233.9 459.5 222.0 514.0 214.7 574.0 211.0 656.0 210.9 720.0 214.5 774.0 221.5 822.0 231.6 868.0 245.7 907.4 262.0 944.2 282.0 978.0 306.0 1006.0 332.0 1018.3 346.0 1030.3 362.0 1042.0 380.5 1052.0 400.0 1060.0 420.0 1066.7 442.0 1071.3 464.0 1074.4 488.0 1075.8 512.0 1075.8 542.0 1074.7 566.0 1072.1 588.0 1067.9 610.0 1062.4 630.0 1055.0 650.0 1046.0 669.2 1036.0 686.5 1023.8 704.0 1010.7 720.0 997.2 734.0 981.7 748.0 963.7 762.0 945.9 774.0 925.3 786.0 882.0 806.1 834.7 822.0 782.0 834.1 725.9 842.0 662.0 846.0Z" fill="#ff9900"/>
<path d="M648.0 842.0 564.0 841.3 496.0 836.0 464.0 831.3 432.0 824.9 402.0 817.2 373.2 808.0 347.6 798.0 322.0 786.0 297.1 772.0 276.0 757.8 256.0 741.9 237.2 724.0 221.5 706.0 207.1 686.0 194.0 662.9 183.3 638.0 175.3 612.0 170.0 584.3 167.1 552.0 166.9 512.0 169.1 480.0 173.7 452.0 180.2 428.0 189.3 404.0 200.5 382.0 214.7 360.0 230.8 340.0 248.4 322.0 269.6 304.0 292.4 288.0 312.0 276.4 332.2 266.0 376.0 248.0 423.9 234.0 474.8 224.0 530.0 217.7 592.0 215.0 670.0 215.6 734.0 220.3 784.0 227.9 830.0 238.6 874.0 253.0 914.0 270.8 950.1 292.0 981.4 316.0 1008.0 342.7 1029.9 372.0 1040.3 390.0 1049.6 410.0 1056.9 430.0 1062.7 452.0 1066.6 474.0 1068.9 498.0 1069.2 554.0 1067.5 576.0 1064.1 598.0 1059.5 618.0 1053.1 638.0 1045.7 656.0 1036.0 674.9 1025.3 692.0 1013.3 708.0 1000.0 723.2 984.8 738.0 968.1 752.0 951.6 764.0 932.6 776.0 912.0 787.2 868.0 806.3 820.0 821.2 768.0 832.0 712.0 838.9 648.0 842.0Z" fill="#ff9600"/>
<path d="M686.0 836.1 646.0 837.5 598.0 837.6 526.0 834.4 492.0 830.7 461.3 826.0 432.0 820.0 402.0 812.1 372.0 802.2 346.7 792.0 322.0 780.0 300.0 767.3 280.0 753.8 260.0 737.7 242.0 720.4 226.1 702.0 210.8 680.0 198.0 656.5 188.0 632.0 180.7 606.0 176.0 579.5 173.6 550.0 173.5 510.0 175.7 480.0 180.0 454.0 186.4 430.0 195.5 406.0 206.6 384.0 220.0 363.2 235.3 344.0 252.7 326.0 273.7 308.0 290.3 296.0 309.5 284.0 350.0 263.6 396.0 246.7 445.9 234.0 498.0 225.5 554.0 220.8 630.0 219.4 694.0 221.4 746.0 226.5 796.0 235.2 840.0 246.6 882.6 262.0 920.0 280.1 954.6 302.0 984.0 326.3 997.5 340.0 1010.0 354.7 1022.0 371.4 1032.0 388.0 1040.9 406.0 1048.7 426.0 1054.5 446.0 1058.7 466.0 1061.6 488.0 1062.9 510.0 1062.0 564.0 1059.5 586.0 1055.3 608.0 1049.0 630.0 1041.4 650.0 1032.0 669.1 1020.5 688.0 1008.7 704.0 996.0 718.7 982.0 732.6 966.0 746.4 948.0 759.7 930.0 771.2 889.7 792.0 844.0 809.2 795.5 822.0 744.0 830.8 686.0 836.1Z" fill="#ff9200"/>
<path d="M668.0 832.0 582.0 832.4 514.0 828.3 482.0 824.3 452.0 819.1 422.0 812.3 394.0 804.2 366.0 794.2 342.5 784.0 319.2 772.0 296.4 758.0 277.1 744.0 258.0 727.5 241.2 710.0 226.8 692.0 212.6 670.0 200.8 646.0 192.1 622.0 185.7 596.0 181.8 568.0 180.3 538.0 180.8 502.0 184.0 470.7 189.0 446.0 196.4 422.0 206.0 399.6 218.0 378.1 232.0 358.1 247.6 340.0 266.3 322.0 286.4 306.0 322.0 283.5 364.0 263.7 410.1 248.0 460.0 236.4 512.0 228.9 570.0 225.0 646.0 224.4 708.0 227.4 760.0 233.6 806.0 242.7 851.8 256.0 891.7 272.0 928.0 291.3 960.0 313.6 986.9 338.0 1010.0 365.6 1022.0 384.0 1031.6 402.0 1040.0 422.0 1046.3 442.0 1050.9 462.0 1054.1 484.0 1055.8 508.0 1056.2 534.0 1055.4 558.0 1053.3 580.0 1049.5 602.0 1044.3 622.0 1038.0 640.2 1029.1 660.0 1019.0 678.0 1008.1 694.0 996.0 709.1 982.0 724.0 966.6 738.0 951.4 750.0 933.9 762.0 914.0 773.8 874.0 792.7 829.9 808.0 779.9 820.0 726.0 828.0 668.0 832.0Z" fill="#ff8f00"/>
<path d="M684.0 826.1 600.0 827.6 530.0 824.5 498.0 821.2 466.0 816.3 436.0 810.1 410.0 803.2 382.0 794.1 356.8 784.0 332.0 772.1 311.0 760.0 290.3 746.0 270.6 730.0 254.0 714.0 238.5 696.0 224.0 675.1 212.0 653.2 202.0 628.7 195.0 604.0 190.3 578.0 188.0 550.0 187.9 512.0 190.0 482.0 194.0 457.3 200.1 434.0 208.3 412.0 219.2 390.0 232.0 369.8 247.7 350.0 265.1 332.0 283.8 316.0 300.3 304.0 319.3 292.0 358.0 272.5 402.0 256.2 449.3 244.0 498.0 235.8 554.0 230.9 626.0 229.4 690.0 231.3 740.0 236.0 787.1 244.0 832.0 255.5 872.5 270.0 910.0 288.0 944.0 309.5 973.4 334.0 997.0 360.0 1008.6 376.0 1018.3 392.0 1027.2 410.0 1034.3 428.0 1040.0 447.1 1044.1 466.0 1047.1 488.0 1048.5 510.0 1047.7 562.0 1045.2 584.0 1041.0 606.0 1035.3 626.0 1027.7 646.0 1018.9 664.0 1008.0 682.0 996.3 698.0 984.0 712.3 970.0 726.2 953.9 740.0 937.7 752.0 918.8 764.0 880.0 783.8 837.0 800.0 792.0 812.0 740.0 821.0 684.0 826.1Z" fill="#ff8b00"/>
<path d="M638.0 822.0 560.0 820.9 496.0 815.2 464.0 810.1 436.0 804.1 408.0 796.4 383.2 788.0 358.7 778.0 334.4 766.0 312.0 752.8 292.0 738.6 274.0 723.5 256.6 706.0 242.0 688.2 230.0 670.3 218.2 648.0 209.4 626.0 202.7 602.0 198.1 576.0 195.9 546.0 196.0 507.6 198.5 478.0 203.4 452.0 210.5 428.0 219.6 406.0 230.5 386.0 244.0 366.2 260.0 347.3 277.9 330.0 297.9 314.0 318.8 300.0 356.6 280.0 397.5 264.0 442.0 251.6 492.0 242.4 546.0 236.9 606.0 235.0 674.0 236.0 734.0 241.0 780.0 248.5 824.0 259.3 864.0 273.2 900.1 290.0 932.9 310.0 960.8 332.0 985.9 358.0 1005.9 386.0 1015.8 404.0 1023.7 422.0 1030.4 442.0 1035.2 462.0 1038.4 482.0 1040.2 504.0 1040.0 558.0 1038.0 578.0 1034.6 598.0 1030.1 616.0 1024.0 634.3 1016.3 652.0 1007.8 668.0 997.4 684.0 985.1 700.0 972.3 714.0 957.4 728.0 925.6 752.0 890.0 772.2 847.7 790.0 800.6 804.0 750.0 813.9 696.0 819.7 638.0 822.0Z" fill="#ff8800"/>
<path d="M638.0 816.0 562.0 815.0 500.0 809.6 468.0 804.5 440.0 798.5 414.0 791.4 388.0 782.7 362.0 772.0 340.0 761.1 317.9 748.0 298.2 734.0 280.0 718.6 264.0 702.5 250.5 686.0 238.3 668.0 226.5 646.0 217.7 624.0 211.0 600.0 206.6 574.0 204.4 544.0 204.7 506.0 207.2 478.0 212.0 452.8 218.8 430.0 228.0 408.0 238.9 388.0 252.0 369.0 268.0 350.3 284.9 334.0 304.9 318.0 326.0 304.0 364.0 284.1 404.0 268.7 448.0 256.7 496.0 248.0 548.0 242.8 608.0 240.9 674.0 242.0 732.0 246.9 776.0 254.0 818.0 264.3 857.9 278.0 894.0 294.7 925.9 314.0 954.0 336.2 978.0 361.0 998.0 388.8 1008.0 407.1 1016.0 425.6 1022.1 444.0 1026.8 464.0 1029.9 484.0 1031.7 506.0 1031.3 558.0 1029.3 578.0 1026.0 597.2 1021.8 614.0 1015.8 632.0 1008.0 649.9 1000.0 664.8 990.0 680.4 978.0 696.0 965.3 710.0 950.4 724.0 935.6 736.0 918.5 748.0 882.9 768.0 842.0 785.0 798.0 798.1 748.0 807.9 696.0 813.7 638.0 816.0Z" fill="#ff8500"/>
<path d="M682.0 808.0 604.0 809.6 538.0 806.9 480.0 799.8 452.0 794.3 426.0 787.7 401.7 780.0 375.8 770.0 354.0 759.8 332.0 747.6 311.6 734.0 294.0 720.0 277.1 704.0 263.1 688.0 248.8 668.0 236.7 646.0 227.6 624.0 220.6 600.0 216.3 576.0 214.0 550.0 213.8 514.0 215.7 486.0 219.5 462.0 225.2 440.0 232.6 420.0 242.4 400.0 254.0 381.2 268.0 363.1 284.2 346.0 302.5 330.0 334.4 308.0 372.0 288.7 412.0 273.6 458.0 261.5 506.0 253.4 558.0 248.8 624.0 247.4 684.0 249.1 734.0 253.9 778.0 261.4 819.3 272.0 858.0 285.9 892.0 302.3 923.4 322.0 950.1 344.0 974.0 369.9 984.3 384.0 994.0 400.0 1002.0 416.0 1009.2 434.0 1014.6 452.0 1018.4 470.0 1022.5 510.0 1021.8 560.0 1019.6 580.0 1015.8 600.0 1010.2 620.0 1003.4 638.0 994.6 656.0 985.0 672.0 963.0 700.0 949.1 714.0 935.2 726.0 903.7 748.0 866.0 767.7 826.0 782.9 782.0 794.8 734.0 803.2 682.0 808.0Z" fill="#ff8100"/>
<path d="M654.0 802.0 580.0 802.0 520.0 798.0 466.0 789.6 440.0 783.5 414.0 775.9 392.0 768.0 368.0 757.5 346.0 746.0 326.0 733.4 308.0 720.0 290.2 704.0 275.5 688.0 263.2 672.0 251.0 652.0 241.5 632.0 233.8 610.0 228.2 586.0 225.0 560.0 223.9 530.0 224.7 500.0 228.1 472.0 233.0 450.0 240.0 428.7 249.4 408.0 260.0 389.9 274.0 370.8 289.2 354.0 306.9 338.0 325.4 324.0 358.9 304.0 396.0 287.5 438.1 274.0 484.0 264.1 530.8 258.0 582.0 255.0 652.0 255.0 706.0 258.0 752.0 264.0 794.0 272.9 834.0 285.1 869.5 300.0 901.9 318.0 929.5 338.0 954.0 361.1 973.8 386.0 983.8 402.0 992.0 418.3 999.1 436.0 1004.5 454.0 1008.7 474.0 1011.2 494.0 1012.4 540.0 1009.2 580.0 1005.7 598.0 1000.8 616.0 994.1 634.0 986.5 650.0 978.0 664.7 967.3 680.0 944.0 706.1 915.3 730.0 882.0 750.7 844.0 768.1 802.2 782.0 758.0 792.0 708.0 798.8 654.0 802.0Z" fill="#ff7e00"/>
<path d="M654.0 794.1 580.0 794.0 522.0 790.0 468.0 781.5 444.0 775.8 418.0 768.1 396.0 760.0 373.4 750.0 352.0 738.6 332.4 726.0 316.0 713.6 300.0 699.2 286.0 684.0 273.7 668.0 262.0 649.1 252.0 628.0 244.5 606.0 239.5 584.0 236.2 556.0 235.4 526.0 236.4 498.0 239.7 472.0 244.8 450.0 251.6 430.0 260.9 410.0 271.7 392.0 285.2 374.0 299.9 358.0 316.0 343.5 333.9 330.0 367.5 310.0 403.8 294.0 442.0 281.8 486.5 272.0 532.0 266.0 584.0 262.9 652.0 262.9 704.5 266.0 748.0 271.7 788.0 280.1 827.1 292.0 860.8 306.0 893.5 324.0 920.0 343.2 944.0 365.7 963.4 390.0 973.3 406.0 981.4 422.0 988.5 440.0 993.7 458.0 997.4 476.0 999.8 496.0 1000.9 540.0 997.9 578.0 994.5 596.0 989.5 614.0 983.6 630.0 976.1 646.0 966.7 662.0 956.9 676.0 933.5 702.0 919.9 714.0 904.0 726.0 870.9 746.0 836.0 761.7 798.0 774.3 754.0 784.3 706.0 790.9 654.0 794.1Z" fill="#ff7a00"/>
<path d="M676.0 784.1 602.0 785.4 542.0 782.8 488.0 775.8 462.0 770.5 438.0 764.1 414.0 756.2 393.7 748.0 372.9 738.0 352.1 726.0 334.8 714.0 320.0 702.0 305.5 688.0 292.0 672.3 279.3 654.0 268.5 634.0 260.5 614.0 254.3 592.0 250.5 570.0 248.7 546.0 248.6 514.0 250.4 488.0 254.1 466.0 259.5 446.0 266.3 428.0 276.0 408.6 286.6 392.0 300.0 375.1 314.6 360.0 330.9 346.0 360.4 326.0 396.0 308.0 434.0 294.2 473.6 284.0 518.0 276.7 564.0 272.8 626.0 271.6 680.0 273.2 724.0 277.4 764.0 284.3 802.0 294.0 838.0 307.0 869.0 322.0 898.0 340.4 922.0 360.2 943.8 384.0 953.9 398.0 962.3 412.0 970.0 427.7 976.0 443.3 984.2 476.0 987.8 512.0 987.1 558.0 981.6 594.0 976.6 612.0 970.6 628.0 962.9 644.0 953.3 660.0 932.7 686.0 908.0 709.0 878.0 729.9 846.0 746.5 808.0 761.1 767.6 772.0 722.0 779.9 676.0 784.1Z" fill="#ff7700"/>
<path d="M666.0 774.1 596.0 774.9 540.1 772.0 490.0 765.2 443.6 754.0 420.0 746.1 400.4 738.0 380.1 728.0 362.0 717.4 345.7 706.0 328.9 692.0 315.0 678.0 303.4 664.0 292.0 647.1 282.0 628.0 274.2 608.0 268.4 586.0 265.0 564.0 263.5 540.0 263.8 510.0 266.0 484.9 270.0 464.0 275.2 446.0 282.4 428.0 292.0 410.0 302.7 394.0 315.9 378.0 330.0 364.0 347.1 350.0 374.7 332.0 408.0 315.7 446.0 302.3 486.0 292.6 530.0 286.1 574.0 282.8 636.0 282.1 686.0 284.2 728.0 288.8 766.0 296.0 802.0 305.9 834.0 318.1 865.1 334.0 892.0 352.0 914.7 372.0 933.7 394.0 943.2 408.0 951.1 422.0 963.1 452.0 970.3 484.0 973.0 522.0 971.4 564.0 965.2 598.0 960.1 614.0 953.5 630.0 946.0 644.4 936.0 659.9 915.8 684.0 890.7 706.0 863.5 724.0 830.0 740.6 792.8 754.0 754.0 763.7 712.0 770.3 666.0 774.1Z" fill="#ff7400"/>
<path d="M652.0 762.0 586.0 762.1 536.0 758.8 490.0 751.9 444.4 740.0 422.4 732.0 404.2 724.0 385.3 714.0 369.3 704.0 353.2 692.0 339.7 680.0 326.5 666.0 315.7 652.0 304.5 634.0 296.1 616.0 289.9 598.0 285.2 578.0 282.4 556.0 281.5 530.0 282.2 504.0 285.0 480.0 289.0 462.0 294.9 444.0 303.0 426.0 312.3 410.0 324.0 394.1 336.7 380.0 352.0 366.0 367.9 354.0 398.0 336.1 430.0 322.1 464.0 311.2 502.0 302.9 542.0 297.6 588.0 294.9 646.0 294.8 694.0 297.6 732.0 302.5 767.7 310.0 800.7 320.0 830.0 332.0 856.1 346.0 882.0 364.1 903.6 384.0 921.4 406.0 930.2 420.0 937.3 434.0 943.7 450.0 948.0 464.3 953.8 498.0 954.9 538.0 952.0 573.2 944.7 604.0 932.9 632.0 916.3 658.0 896.7 680.0 872.0 700.6 844.0 718.0 812.0 732.8 778.0 744.3 738.0 753.5 696.0 759.3 652.0 762.0Z" fill="#ff7000"/>
<path d="M654.0 746.1 592.0 746.3 544.0 743.5 498.0 736.6 458.0 726.2 421.4 712.0 404.0 703.1 388.0 693.3 372.5 682.0 360.0 671.1 348.0 658.6 337.9 646.0 327.6 630.0 319.6 614.0 312.9 596.0 308.0 576.0 305.3 556.0 304.3 534.0 304.8 508.0 307.2 486.0 311.0 468.0 316.0 451.9 322.8 436.0 331.8 420.0 342.0 405.6 353.9 392.0 366.6 380.0 381.8 368.0 407.5 352.0 437.8 338.0 470.0 327.2 506.0 318.9 542.0 313.8 584.0 310.9 640.0 310.6 684.0 312.8 720.0 317.2 754.0 323.9 784.0 332.6 812.8 344.0 839.4 358.0 862.6 374.0 882.5 392.0 899.2 412.0 914.5 438.0 924.9 466.0 930.6 496.0 932.1 532.0 930.0 565.8 924.0 594.3 913.1 622.0 898.0 646.7 879.6 668.0 856.0 688.0 830.8 704.0 801.2 718.0 768.0 729.4 732.0 737.8 694.0 743.3 654.0 746.1Z" fill="#ff6d00"/>
<path d="M644.0 724.0 590.0 724.0 546.0 720.9 506.0 714.4 470.0 704.6 436.0 690.6 407.9 674.0 383.8 654.0 372.8 642.0 364.0 630.4 355.3 616.0 348.0 600.2 342.7 584.0 339.2 568.0 336.9 548.0 336.4 524.0 337.3 504.0 339.7 486.0 343.5 470.0 348.3 456.0 354.8 442.0 363.1 428.0 372.0 416.0 382.8 404.0 396.0 392.1 409.4 382.0 432.9 368.0 460.0 356.0 490.0 346.5 520.0 339.9 554.0 335.3 592.0 333.0 642.0 333.0 682.0 335.3 714.0 339.5 744.0 345.8 770.9 354.0 796.0 364.3 820.0 377.4 840.0 391.7 857.4 408.0 872.0 426.1 885.5 450.0 894.0 474.0 898.9 502.0 900.0 536.0 897.9 564.0 892.0 590.0 882.2 614.0 868.0 636.5 850.5 656.0 830.0 672.9 805.4 688.0 779.1 700.0 748.6 710.0 718.0 716.9 682.0 721.8 644.0 724.0Z" fill="#ff6900"/>
<path d="M636.0 682.0 594.0 681.8 560.0 679.3 528.3 674.0 500.0 666.0 475.8 656.0 452.2 642.0 433.3 626.0 418.0 607.4 411.3 596.0 405.9 584.0 402.0 572.0 399.0 558.0 397.4 542.0 397.1 524.0 399.9 494.0 407.1 470.0 419.1 448.0 436.0 428.4 456.7 412.0 476.0 401.0 497.2 392.0 520.0 385.0 544.0 380.0 572.0 376.5 602.0 375.0 640.0 375.2 672.0 377.3 696.0 380.6 720.1 386.0 742.0 393.0 762.0 401.8 779.7 412.0 795.6 424.0 808.0 436.2 818.6 450.0 829.3 470.0 835.7 490.0 838.9 512.0 839.1 540.0 837.1 560.0 832.0 580.0 824.0 598.1 812.1 616.0 798.0 630.9 781.3 644.0 764.0 654.3 742.1 664.0 718.0 671.6 694.0 676.8 668.0 680.2 636.0 682.0Z" fill="#ff6600"/>
</g>
<g fill="none" stroke="#000" stroke-width="1.9" stroke-linejoin="round" stroke-linecap="round">
<path d="M389.0 34.0 L379.2 51.7 L368.6 64.1 L356.2 76.5 L352.6 87.1 L347.3 108.4 L338.5 122.6 L327.8 136.7 L315.4 150.9 L306.6 165.1 L299.5 179.3 L296.0 189.9 L292.4 204.0 L290.6 218.2 L303.0 225.3 L303.0 230.0 L301.3 240.6 L299.5 256.6 L303.0 265.4 L301.3 274.3 L295.1 277.8 L299.5 283.1 L306.6 292.0 L308.3 302.6 L315.4 313.3 L320.7 318.6 L323.4 315.0 L320.7 307.9 L319.0 297.3 L315.4 283.1 L310.1 265.4 L308.3 253.0 L313.7 242.4 L322.5 244.2 L322.5 256.6 L326.1 270.7 L331.4 283.1 L333.1 293.8 L340.2 304.4 L347.3 313.3 L352.6 322.1 L354.4 329.2 L349.1 336.3 L349.1 343.4 L357.9 354.0 L375.7 361.1 L389.8 371.7 L404.0 377.0 L421.7 378.8 L434.1 375.3 L446.5 380.6 L457.1 391.2 L464.2 396.5 L475.4 400.0 L494.9 403.5 L502.0 410.6 L510.9 417.7 L514.4 433.7 L521.5 434.5 L530.3 439.0 L533.9 447.8 L546.3 451.4 L556.9 454.9 L562.2 460.2 L567.5 456.7 L565.8 451.4 L572.9 443.4 L580.0 444.3 L585.3 453.1 L587.0 460.2 L594.1 465.5 L595.9 479.7 L594.1 497.4 L588.8 506.3 L581.7 515.1 L571.1 524.0 L562.2 534.6 L558.7 545.3 L560.5 557.7 L569.3 559.4 L564.0 568.3 L555.1 577.1 L556.9 587.8 L566.6 598.9 L573.7 607.7 L582.5 620.1 L586.9 634.3 L594.9 643.1 L603.8 657.3 L607.3 673.3 L617.9 682.1 L632.1 691.0 L648.1 698.1 L660.5 706.9 L664.0 714.0 L665.8 731.7 L664.0 749.4 L658.7 756.5 L658.7 776.0 L654.9 790.0 L649.6 816.6 L647.8 843.1 L642.5 860.9 L631.9 883.9 L629.2 896.3 L628.3 922.9 L624.8 931.7 L623.0 944.1 L623.9 956.5 L619.4 969.2 L614.7 972.8 L620.5 981.0 L617.0 986.9 L614.7 995.1 L619.4 1004.5 L620.5 1016.2 L627.6 1020.9 L634.6 1025.6 L642.9 1023.3 L652.3 1019.8 L655.8 1016.2 L655.8 1009.2"/>
<path d="M655.8 1016.2 L659.3 1025.6 L666.4 1028.0 L671.0 1028.0"/>
<path d="M352.6 87.1 L360.0 86.0 L366.0 89.0 L359.0 96.0 L354.0 103.0 L349.0 100.0 L352.6 87.1"/>
<path d="M566.8 230.0 L565.0 240.6 L566.8 249.5 L570.3 260.1 L573.9 272.5 L572.1 284.9 L566.8 291.1 L563.3 288.5 L557.9 276.1 L552.6 265.4 L550.9 254.8 L545.5 247.7 L533.1 247.7 L526.1 242.4 L510.1 240.6 L497.7 242.4 L490.6 244.2 L497.2 256.6 L483.5 256.6 L480.0 251.3 L466.0 249.5 L453.6 252.1 L450.1 258.3 L434.1 267.2 L428.8 274.3 L427.0 286.7 L421.7 300.9 L418.2 318.6 L421.7 336.3 L427.0 348.7 L439.4 355.8 L450.1 354.0 L464.2 352.2 L473.1 343.4 L476.6 332.7 L480.0 329.2 L490.6 327.4 L499.5 325.7 L510.1 327.4 L504.8 338.1 L501.3 350.5 L495.9 355.8 L492.4 368.2 L485.3 377.0 L490.6 378.8 L511.9 377.0 L526.1 377.0 L534.9 382.3 L536.7 394.7 L534.9 408.9 L533.1 424.9 L533.9 417.7 L537.4 431.9 L548.1 440.7 L560.5 442.5 L571.1 438.1 L581.7 437.2 L590.6 440.7 L595.9 447.8 L599.4 454.9 L604.7 444.3 L613.6 431.9 L617.1 424.8 L627.8 421.3 L640.0 415.9 L650.6 409.7 L655.9 412.4 L652.4 421.3 L657.7 423.0 L666.6 417.7 L668.3 413.3 L682.5 418.6 L686.1 428.3 L700.2 427.5 L710.9 431.0 L718.0 431.9 L726.8 425.7 L739.2 426.6 L744.5 435.4 L755.1 435.4 L756.0 426.6 L749.8 426.6 L756.9 442.5 L758.7 448.7 L765.8 447.8 L778.2 456.7 L781.7 465.5 L792.3 470.9 L799.4 474.4 L810.1 472.6 L822.5 476.2 L833.1 479.7 L840.0 484.8 L847.1 490.1 L852.4 500.7 L857.7 513.1 L861.3 516.7 L861.3 523.8 L855.9 530.9 L850.6 532.6 L848.9 543.3 L854.2 548.6 L855.9 543.3 L857.7 534.4 L875.4 533.5 L876.3 541.5 L874.5 546.8 L879.0 539.7 L893.1 541.5 L903.8 546.8 L910.9 550.3 L912.6 559.2 L921.5 556.5 L935.7 559.2 L942.7 562.7 L955.1 560.1 L964.0 566.3 L974.6 576.9 L980.0 581.3 L992.3 581.3 L995.9 591.1 L995.9 610.6 L990.6 615.9 L987.0 626.5 L974.6 635.4 L964.0 644.2 L953.4 656.6 L950.6 668.3 L948.8 680.7 L943.5 693.1 L936.4 707.3 L927.5 717.9 L916.9 728.6 L909.8 741.0 L902.7 746.3 L883.3 747.2 L876.2 753.4 L865.5 756.0 L851.4 765.8 L842.5 772.9 L840.7 785.3 L837.2 795.9 L824.8 806.5 L814.2 820.7 L803.5 833.1 L800.0 837.8 L794.9 843.1 L786.0 853.8 L777.1 860.9 L764.7 860.9 L752.3 857.3 L748.8 855.5 L752.3 862.6 L755.9 869.7 L757.7 880.3 L750.6 889.2 L743.5 896.3 L727.5 899.8 L713.4 901.6 L711.6 914.0 L708.1 921.1 L690.3 920.2 L690.3 931.7 L699.2 933.5 L699.2 937.0 L692.1 937.0 L685.0 949.4 L676.2 956.5 L669.1 965.4 L667.5 966.9 L672.2 973.9 L676.9 976.3 L674.6 983.3 L665.2 992.7 L659.3 999.8 L654.6 1006.8 L655.8 1010.4"/>
<path d="M650.0 425.0 L657.0 425.0 L658.0 442.0 L650.0 442.0 L650.0 425.0"/>
<path d="M480.0 400.1 L497.7 402.7 L503.0 410.7 L511.9 419.5 L513.7 430.0"/>
<path d="M680.0 104.9 L671.3 106.6 L660.7 112.0 L653.6 115.5 L650.0 120.8 L646.5 129.7 L650.0 135.0 L655.4 136.7 L639.4 140.3 L630.6 143.0 L623.5 147.4 L621.7 154.5 L616.4 158.0 L611.1 158.0 L607.5 165.1 L611.1 174.0 L612.0 181.0 L614.6 189.9 L604.0 197.0 L589.8 207.6 L579.2 214.7 L568.6 225.3 L566.8 230.0"/>
<path d="M641.8 142.1 L655.1 137.6 L648.9 135.0 L648.9 126.1 L652.4 117.3 L661.3 111.9 L671.9 105.7 L679.9 108.4 L680.7 117.3 L686.1 119.0 L689.6 111.9 L698.5 108.4 L709.1 104.9 L718.0 100.4 L712.6 94.2 L707.3 99.5 L693.1 97.8 L684.3 92.5 L682.5 81.8 L671.9 81.8"/>
<path d="M639.4 91.6 L650.6 83.6 L657.7 76.5 L666.6 67.7 L684.3 65.9 L702.0 66.8 L710.9 62.3 L723.3 58.8 L725.0 57.0 L724.1 49.9 L716.2 42.9 L708.2 34.0"/>
<path d="M718.0 87.1 L716.2 81.8 L720.6 69.4 L723.3 58.8 L728.6 67.7 L735.7 72.1 L746.3 76.5 L749.8 83.6 L755.1 87.1 L756.0 97.8 L751.6 97.8 L748.1 90.7 L742.7 91.6 L742.7 97.8 L739.2 88.9 L718.0 87.1"/>
<path d="M686.0 72.0 L700.0 74.0 L703.0 77.0 L688.0 76.0 L686.0 72.0"/>
<path d="M511.0 96.0 L524.3 87.1 L536.7 77.4 L548.2 76.5 L550.9 82.7 L556.2 84.5 L556.2 92.5 L552.6 95.1 L542.0 96.0 L533.1 92.5 L522.5 94.2 L511.0 96.0"/>
<path d="M533.1 108.4 L542.0 101.3 L547.3 103.1 L542.0 110.2 L538.5 122.6 L536.7 136.7 L531.4 138.5 L528.7 135.0 L530.5 119.0 L533.1 108.4"/>
<path d="M547.3 101.3 L559.7 98.7 L572.1 97.8 L582.7 101.3 L584.5 108.4 L579.2 111.9 L573.9 110.2 L572.1 119.0 L575.7 126.1 L568.6 126.1 L563.3 119.0 L561.5 111.9 L557.9 108.4 L550.9 104.0 L547.3 101.3"/>
<path d="M559.7 136.7 L572.1 130.5 L586.3 127.0 L595.1 126.1 L589.8 129.7 L575.7 135.0 L563.3 139.4 L559.7 136.7"/>
<path d="M586.3 119.0 L600.5 114.6 L611.1 113.7 L612.0 119.0 L604.0 121.7 L589.8 122.6 L586.3 119.0"/>
<path d="M491.5 47.3 L497.7 47.3 L496.8 60.6 L494.2 67.7 L491.5 60.6 L490.6 51.7 L491.5 47.3"/>
<path d="M596.9 34.0 L597.8 48.2 L593.4 55.3 L588.1 57.9 L582.7 51.7 L579.2 44.6 L580.1 39.3"/>
<path d="M611.0 158.0 L617.0 156.0 L618.0 165.0 L613.0 171.0"/>
<path d="M584.5 276.9 L596.9 275.2 L600.5 281.4 L607.5 288.5 L614.6 297.3 L621.7 307.9 L628.8 315.0 L627.0 318.6"/>
<path d="M590.7 290.2 L595.1 302.6 L591.6 297.3 L590.7 290.2"/>
<path d="M528.7 322.1 L536.7 313.3 L550.9 309.7 L570.3 310.6 L586.3 316.8 L604.0 325.7 L621.7 332.7 L627.0 338.1 L614.6 338.1 L598.7 339.8 L593.4 332.7 L586.3 326.5 L572.1 322.1 L558.0 318.6 L547.3 315.0 L547.3 325.7 L542.0 322.1 L528.7 322.1"/>
<path d="M588.1 354.0 L607.5 354.0 L607.5 358.4 L589.8 357.5 L588.1 354.0"/>
<path d="M632.3 338.1 L646.5 339.8 L657.1 341.6 L669.5 343.4 L680.0 346.9 L684.0 350.5 L680.0 354.0 L666.0 354.0 L655.4 354.0 L651.8 359.3 L639.4 354.0 L625.3 354.0 L639.4 350.5 L635.9 343.4 L632.3 338.1"/>
<path d="M692.4 353.1 L708.3 353.1 L708.3 357.5 L693.3 357.5 L692.4 353.1"/>
<path d="M744.0 373.5 L750.5 375.5"/>
<path d="M751.0 384.5 L756.0 391.0"/>
<path d="M455.0 532.0 L460.0 536.0 L462.0 542.0 L457.0 543.0 L455.0 537.0 L455.0 532.0"/>
<path d="M699.2 1009.2 L707.5 1005.1 L718.0 1006.2 L716.9 1009.2 L707.5 1011.5 L699.2 1009.2"/>
<path d="M626.6 930.0 L635.4 926.4 L635.4 940.6 L631.9 947.7 L624.8 944.1 L626.6 930.0"/>
<path d="M803.5 1012.5 L809.0 1012.5 L809.0 1015.5 L803.5 1015.5 L803.5 1012.5"/>
<path d="M931.0 187.0 L933.5 189.5"/>
<path d="M950.0 194.0 L953.0 196.5"/>
<path d="M1042.8 282.3 L1048.1 286.7 L1051.7 289.3 L1054.3 283.1 L1052.5 280.5"/>
<path d="M864.7 48.6 L891.7 74.5 L912.0 90.2 L934.5 108.2 L952.5 128.5 L979.5 160.0 L1006.5 187.0 L1029.0 214.0 L1042.5 232.0 L1048.0 256.0 L1055.0 275.0 L1060.5 286.7 L1064.0 300.9 L1069.4 322.1 L1072.9 343.4 L1081.8 354.0 L1088.9 368.2 L1094.0 382.3 L1100.0 395.0"/>
</g>
</g>
<rect x="145.5" y="34.5" width="950" height="1000" fill="none" stroke="#000" stroke-width="1"/>
<g fill="#000"><rect x="290.6" y="1034" width="2" height="11"/><rect x="290.6" y="23" width="2" height="11"/><rect x="135" y="178.1" width="10" height="2"/><rect x="1096" y="178.1" width="10" height="2"/><rect x="436.4" y="1034" width="2" height="11"/><rect x="436.4" y="23" width="2" height="11"/><rect x="135" y="323.7" width="10" height="2"/><rect x="1096" y="323.7" width="10" height="2"/><rect x="582.3" y="1034" width="2" height="11"/><rect x="582.3" y="23" width="2" height="11"/><rect x="135" y="469.3" width="10" height="2"/><rect x="1096" y="469.3" width="10" height="2"/><rect x="728.1" y="1034" width="2" height="11"/><rect x="728.1" y="23" width="2" height="11"/><rect x="135" y="614.9" width="10" height="2"/><rect x="1096" y="614.9" width="10" height="2"/><rect x="873.9" y="1034" width="2" height="11"/><rect x="873.9" y="23" width="2" height="11"/><rect x="135" y="760.5" width="10" height="2"/><rect x="1096" y="760.5" width="10" height="2"/><rect x="1019.7" y="1034" width="2" height="11"/><rect x="1019.7" y="23" width="2" height="11"/><rect x="135" y="906.1" width="10" height="2"/><rect x="1096" y="906.1" width="10" height="2"/></g>
<g><text x="292.9" y="1074.5" text-anchor="middle">200</text><text x="128.5" y="186.7" text-anchor="end">200</text><text x="438.7" y="1074.5" text-anchor="middle">400</text><text x="128.5" y="332.3" text-anchor="end">400</text><text x="584.6" y="1074.5" text-anchor="middle">600</text><text x="128.5" y="477.9" text-anchor="end">600</text><text x="730.4" y="1074.5" text-anchor="middle">800</text><text x="128.5" y="623.5" text-anchor="end">800</text><text x="876.2" y="1074.5" text-anchor="middle">1000</text><text x="128.5" y="769.1" text-anchor="end">1000</text><text x="1022.0" y="1074.5" text-anchor="middle">1200</text><text x="128.5" y="914.7" text-anchor="end">1200</text></g>
<text x="618.5" y="1110" text-anchor="middle">X (pixels)</text>
<text transform="translate(52 537) rotate(-90)" text-anchor="middle">Y (pixels)</text>
<rect x="1137" y="34" width="55" height="1000" fill="url(#cb)"/>
<rect x="1137.5" y="34.5" width="54" height="999" fill="none" stroke="#000" stroke-width="2"/>
<g fill="#000"><rect x="1138" y="366.2" width="10" height="2"/><rect x="1181" y="366.2" width="10" height="2"/><rect x="1138" y="699.3" width="10" height="2"/><rect x="1181" y="699.3" width="10" height="2"/></g>
<g><text x="1199" y="42.3">40</text><text x="1199" y="375.5">35</text><text x="1199" y="708.6">30</text><text x="1199" y="1041.8">25</text></g>
</svg>
</body></html>
